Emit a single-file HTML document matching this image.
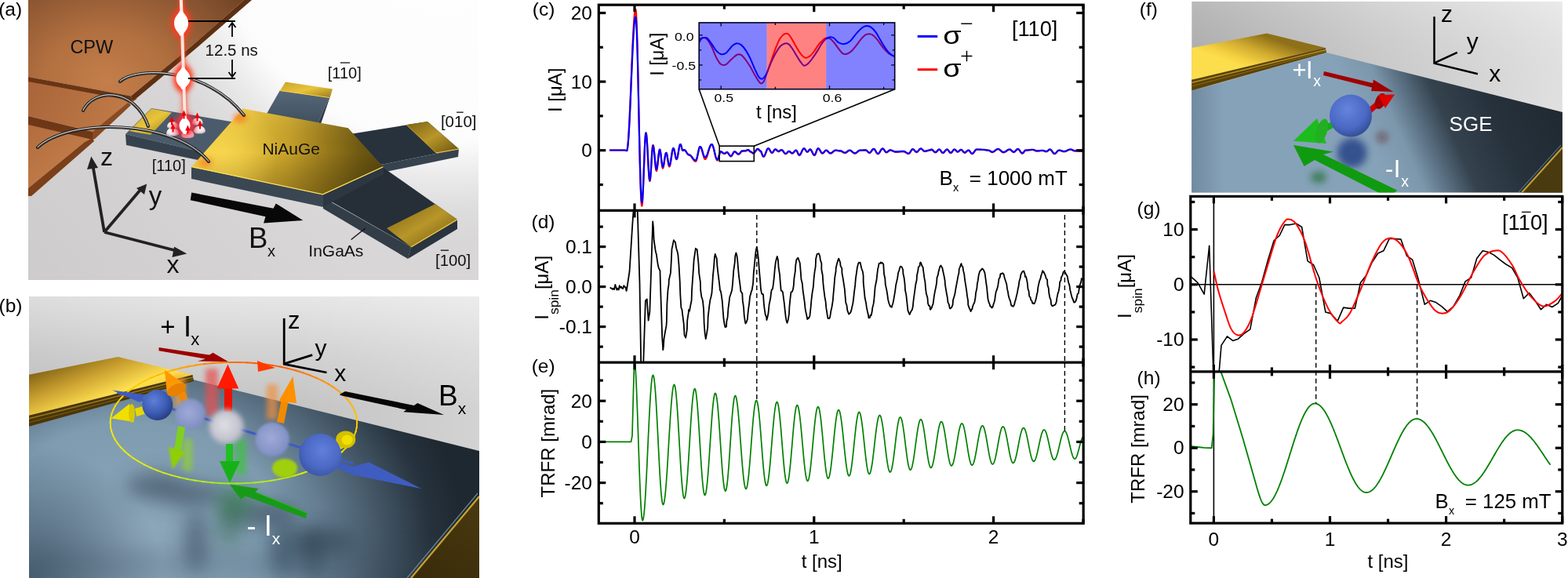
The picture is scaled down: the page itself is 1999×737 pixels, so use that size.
<!DOCTYPE html>
<html><head><meta charset="utf-8"><title>Figure</title>
<style>html,body{margin:0;padding:0;background:#fff;width:1999px;height:737px;overflow:hidden;} svg{display:block;}</style></head>
<body><svg width="1999" height="737" viewBox="0 0 1999 737">
<rect width="1999" height="737" fill="#fff"/>
<defs>
<clipPath id="cpa"><rect x="36" y="0" width="574" height="357"/></clipPath>
<radialGradient id="abg" cx="570" cy="-120" r="430" gradientUnits="userSpaceOnUse">
 <stop offset="0" stop-color="#ffffff"/><stop offset="0.7" stop-color="#fcfcfc"/><stop offset="0.8" stop-color="#ebebeb"/><stop offset="0.9" stop-color="#dedddd"/><stop offset="1" stop-color="#d8d6d7"/></radialGradient>
<linearGradient id="abg2" x1="36" y1="357" x2="300" y2="150" gradientUnits="userSpaceOnUse">
 <stop offset="0" stop-color="#000" stop-opacity="0.05"/><stop offset="1" stop-color="#000" stop-opacity="0"/></linearGradient>
<radialGradient id="cpwtop" cx="135" cy="105" r="230" gradientUnits="userSpaceOnUse" gradientTransform="translate(135 105) scale(1 0.8) translate(-135 -105)">
 <stop offset="0" stop-color="#c47e4a"/><stop offset="0.35" stop-color="#b27040"/><stop offset="0.7" stop-color="#8c5632"/><stop offset="1" stop-color="#6a4022"/></radialGradient>
<linearGradient id="cpwmid" x1="36" y1="110" x2="160" y2="170" gradientUnits="userSpaceOnUse">
 <stop offset="0" stop-color="#a9653a"/><stop offset="1" stop-color="#c27c48"/></linearGradient>
<linearGradient id="cpwlow" x1="36" y1="160" x2="110" y2="240" gradientUnits="userSpaceOnUse">
 <stop offset="0" stop-color="#b26c3e"/><stop offset="1" stop-color="#c8834e"/></linearGradient>
<linearGradient id="hexg" x1="244" y1="190" x2="488" y2="215" gradientUnits="userSpaceOnUse">
 <stop offset="0" stop-color="#f6d040"/><stop offset="0.25" stop-color="#e8c236"/><stop offset="0.5" stop-color="#c8a22a"/><stop offset="0.72" stop-color="#94761a"/><stop offset="0.88" stop-color="#6e5812"/><stop offset="1" stop-color="#5c4a10"/></linearGradient>
<linearGradient id="hexg2" x1="0" y1="140" x2="0" y2="248" gradientUnits="userSpaceOnUse">
 <stop offset="0" stop-color="#fff2a0" stop-opacity="0.12"/><stop offset="0.5" stop-color="#000" stop-opacity="0"/><stop offset="1" stop-color="#2a1e00" stop-opacity="0.28"/></linearGradient>
<radialGradient id="hexg3" cx="285" cy="195" r="70" gradientUnits="userSpaceOnUse">
 <stop offset="0" stop-color="#ffe060" stop-opacity="0.55"/><stop offset="1" stop-color="#ffe060" stop-opacity="0"/></radialGradient>
<linearGradient id="goldpad" x1="0" y1="0" x2="1" y2="1">
 <stop offset="0" stop-color="#c9a22a"/><stop offset="0.5" stop-color="#e9c43c"/><stop offset="1" stop-color="#9a7a18"/></linearGradient>
<linearGradient id="goldpad2" x1="0" y1="0" x2="1" y2="1">
 <stop offset="0" stop-color="#7a6212"/><stop offset="0.5" stop-color="#b8962a"/><stop offset="1" stop-color="#6a5410"/></linearGradient>
<linearGradient id="slateA" x1="0" y1="0" x2="0" y2="1">
 <stop offset="0" stop-color="#56687a"/><stop offset="1" stop-color="#3e4e5c"/></linearGradient>
<linearGradient id="slateD" x1="0" y1="0" x2="1" y2="0">
 <stop offset="0" stop-color="#2c3844"/><stop offset="1" stop-color="#25303a"/></linearGradient>
<linearGradient id="wire" x1="0" y1="0" x2="0" y2="1">
 <stop offset="0" stop-color="#e8e8e8"/><stop offset="0.5" stop-color="#9a9a9a"/><stop offset="1" stop-color="#444"/></linearGradient>
<filter id="glow" x="-2" y="-1" width="5" height="3"><feGaussianBlur stdDeviation="3"/></filter>
<filter id="glow2" x="-2" y="-1" width="5" height="3"><feGaussianBlur stdDeviation="1.2"/></filter>
<filter id="soft" x="-0.5" y="-0.5" width="2" height="2"><feGaussianBlur stdDeviation="1.5"/></filter>
</defs>
<g clip-path="url(#cpa)">
<rect x="36" y="0" width="574" height="357" fill="url(#abg)"/>
<rect x="36" y="0" width="574" height="357" fill="url(#abg2)"/>
<polygon points="36.0,158.0 118.0,176.0 108.0,181.0 36.0,240.0" fill="url(#cpwlow)" />
<polygon points="108.0,181.0 118.0,176.0 120.0,180.0 40.0,250.0 36.0,250.0 36.0,240.0" fill="#7b3f19" />
<polygon points="36.0,100.0 175.0,126.0 118.0,168.0 36.0,148.0" fill="url(#cpwmid)" />
<polygon points="36.0,148.0 118.0,168.0 118.0,178.0 36.0,159.0" fill="#6e3716" />
<polygon points="118.0,168.0 163.0,131.0 167.0,134.0 121.0,177.0 118.0,178.0" fill="#8a4a22" />
<polygon points="36.0,0.0 311.0,0.0 244.0,59.0 167.0,122.6 36.0,98.0" fill="url(#cpwtop)" />
<polygon points="36.0,98.0 167.0,122.6 169.0,128.5 36.0,104.0" fill="#6a3514" />
<polygon points="167.0,122.6 244.0,59.0 311.0,0.0 321.0,0.0 252.0,60.0 172.0,127.0 169.0,128.5" fill="#5e3012" />
<polygon points="357.0,115.0 420.0,124.0 404.0,160.0 336.0,152.0" fill="url(#slateA)" />
<polygon points="420.0,124.0 424.0,114.0 409.0,158.0 404.0,160.0" fill="#2e3a45" />
<polygon points="364.0,104.5 424.0,113.5 420.0,124.5 357.0,115.5" fill="url(#goldpad)" />
<line x1="357" y1="115.5" x2="420" y2="124.5" stroke="#ffcf40" stroke-width="1.2"/>
<polygon points="440.0,172.0 545.0,155.0 585.0,190.0 486.0,210.0" fill="#27323d" />
<polygon points="486.0,210.0 585.0,190.0 584.0,200.0 487.0,220.0" fill="#36434f" />
<polygon points="518.0,159.0 545.0,155.0 585.0,190.0 556.0,195.0" fill="url(#goldpad2)" />
<line x1="556" y1="195" x2="585" y2="190" stroke="#ffd24a" stroke-width="1"/>
<line x1="518" y1="159" x2="556" y2="195" stroke="#d8a020" stroke-width="1"/>
<polygon points="410.0,250.0 489.0,214.0 583.0,280.0 524.0,315.0" fill="#262f38" />
<polygon points="412.0,252.0 524.0,315.0 520.0,330.0 412.0,266.0" fill="#323d48" />
<polygon points="524.0,315.0 583.0,280.0 583.0,292.0 520.0,330.0" fill="#2a343e" />
<polygon points="493.0,291.0 555.0,260.0 583.0,280.0 524.0,315.0" fill="url(#goldpad2)" />
<line x1="524" y1="315" x2="583" y2="280" stroke="#ffd24a" stroke-width="1.2"/>
<polygon points="244.0,213.0 412.0,248.0 412.0,264.0 244.0,228.0" fill="#3a4753" />
<polygon points="412.0,248.0 489.0,213.0 489.0,222.0 412.0,264.0" fill="#2c3741" />
<polygon points="160.0,171.0 193.0,138.0 300.0,156.0 262.0,195.0" fill="#4b5b6b" />
<polygon points="160.0,171.0 262.0,195.0 262.0,206.0 161.0,185.0" fill="#35424e" />
<polygon points="193.0,138.5 219.0,143.5 192.0,172.0 165.0,167.0" fill="url(#goldpad)" />
<polygon points="309.8,138.6 443.8,163.3 488.4,212.7 411.5,247.8 244.3,212.7" fill="url(#hexg)" />
<polygon points="309.8,138.6 443.8,163.3 488.4,212.7 411.5,247.8 244.3,212.7" fill="url(#hexg2)" />
<polygon points="309.8,138.6 443.8,163.3 488.4,212.7 411.5,247.8 244.3,212.7" fill="url(#hexg3)" />
<ellipse cx="306" cy="150" rx="9" ry="7" fill="#ff5010" opacity="0.45" filter="url(#glow)"/>
<ellipse cx="262" cy="207" rx="9" ry="6" fill="#ff6010" opacity="0.5" filter="url(#glow)"/>
<polyline points="244.3,212.7 411.5,247.8 488.4,212.7" fill="none" stroke="#ffe05a" stroke-width="1.2"/>
<g fill="none" stroke-linecap="round"><path d="M153,104 C172,86 262,84 311,147" stroke="#1a1a1a" stroke-width="4.0"/><path d="M153,104 C172,86 262,84 311,147" stroke="#454545" stroke-width="2.4"/><path d="M153,104 C172,86 262,84 311,147" stroke="#f0f0f0" stroke-width="0.9" transform="translate(0,-0.6)"/><path d="M106,141 C120,112 172,112 189,161" stroke="#1a1a1a" stroke-width="4.0"/><path d="M106,141 C120,112 172,112 189,161" stroke="#454545" stroke-width="2.4"/><path d="M106,141 C120,112 172,112 189,161" stroke="#f0f0f0" stroke-width="0.9" transform="translate(0,-0.6)"/><path d="M48,188 C88,150 222,152 266,206" stroke="#1a1a1a" stroke-width="4.0"/><path d="M48,188 C88,150 222,152 266,206" stroke="#454545" stroke-width="2.4"/><path d="M48,188 C88,150 222,152 266,206" stroke="#f0f0f0" stroke-width="0.9" transform="translate(0,-0.6)"/></g>
<radialGradient id="dotg" cx="0.45" cy="0.3" r="0.75"><stop offset="0" stop-color="#ffffff"/><stop offset="0.6" stop-color="#eee6ea"/><stop offset="1" stop-color="#b9aab2"/></radialGradient>
<path d="M213,161.4 A7,6.6499999999999995 0 0,1 227,161.4 A7,2.8000000000000003 0 0,1 213,161.4 Z" fill="url(#dotg)"/>
<path d="M244.7,157 A7,6.6499999999999995 0 0,1 258.7,157 A7,2.8000000000000003 0 0,1 244.7,157 Z" fill="url(#dotg)"/>
<path d="M212,170.3 A8,7.6 0 0,1 228,170.3 A8,3.2 0 0,1 212,170.3 Z" fill="url(#dotg)"/>
<path d="M246.9,167.6 A7.5,7.125 0 0,1 261.9,167.6 A7.5,3.0 0 0,1 246.9,167.6 Z" fill="url(#dotg)"/>
<path d="M231.4,172.9 A8,7.6 0 0,1 247.4,172.9 A8,3.2 0 0,1 231.4,172.9 Z" fill="url(#dotg)"/>
<g><polygon points="227,-5 235,-5 240,160 232,160" fill="#ff3a20" opacity="0.45" filter="url(#glow)"/><polygon points="228,-5 234,-5 239,160 233,160" fill="#ff5a40" opacity="0.55" filter="url(#glow2)"/><ellipse cx="231" cy="29.5" rx="12.5" ry="19" fill="#ff3a20" filter="url(#glow)"/><ellipse cx="233.5" cy="100" rx="12.5" ry="18" fill="#ff3a20" filter="url(#glow)"/><ellipse cx="236" cy="160" rx="14" ry="15" fill="#ff2a40" opacity="0.85" filter="url(#glow)"/><polygon points="228.8,-2 232.8,-2 238,158 234,158" fill="#ffe4dc"/><path d="M229.2,13.5 L232.8,13.5 C234.15,18.3 240,20.7 240,29.5 C240,38.3 234.15,40.7 232.8,45.5 L229.2,45.5 C227.85,40.7 222,38.3 222,29.5 C222,20.7 227.85,18.3 229.2,13.5 Z" fill="#fff"/><path d="M231.7,86 L235.3,86 C236.65,90.2 242.5,92.3 242.5,100 C242.5,107.7 236.65,109.8 235.3,114 L231.7,114 C230.35,109.8 224.5,107.7 224.5,100 C224.5,92.3 230.35,90.2 231.7,86 Z" fill="#fff"/><path d="M234.0,149 L237.0,149 C238.05,152.3 242.5,153.95 242.5,160 C242.5,166.05 238.05,167.7 237.0,171 L234.0,171 C232.95,167.7 228.5,166.05 228.5,160 C228.5,153.95 232.95,152.3 234.0,149 Z" fill="#fff"/></g>
<path d="M215.8,155.5 L219,148.5 L222.2,155.5 Z M218,155.0 h2 v4.5 h-2 Z" fill="#ee0000"/>
<path d="M217.3,164.5 L220.5,157.5 L223.7,164.5 Z M219.5,164.0 h2 v4.5 h-2 Z" fill="#ee0000"/>
<path d="M236.20000000000002,166.5 L239.4,159.5 L242.6,166.5 Z M238.4,166.0 h2 v4.5 h-2 Z" fill="#ee0000"/>
<path d="M248.3,150.5 L251.5,143.5 L254.7,150.5 Z M250.5,150.0 h2 v4.5 h-2 Z" fill="#ee0000"/>
<path d="M251.8,160.5 L255,153.5 L258.2,160.5 Z M254,160.0 h2 v4.5 h-2 Z" fill="#ee0000"/>
<path d="M231.3,147.5 L234.5,140.5 L237.7,147.5 Z M233.5,147.0 h2 v4.5 h-2 Z" fill="#ee0000"/>
<g stroke="#000" stroke-width="1.8" fill="none"><line x1="240" y1="27" x2="300" y2="27"/><line x1="240" y1="100" x2="300" y2="100"/><line x1="296" y1="29" x2="296" y2="47"/><line x1="296" y1="76" x2="296" y2="98"/><polyline points="291.5,35 296,29 300.5,35"/><polyline points="291.5,92 296,98 300.5,92"/></g>
<g stroke="#222" stroke-width="3.8" fill="none" stroke-linecap="butt"><line x1="133" y1="296" x2="118.5" y2="212"/><line x1="133" y1="296" x2="179" y2="242"/><line x1="133" y1="296" x2="226" y2="320"/></g><g fill="#222"><polygon points="116.3,199.6 111,216 125,214"/><polygon points="187.2,234.4 174,240 184,248"/><polygon points="238.2,323.4 222,314.5 219.5,328"/></g>
<polygon points="244.2,245.5 348.5,265.8 351.8,259.5 386.3,281 336,284.5 338.5,276.2 242.7,255.2" fill="#080808"/>
<line x1="447.7" y1="305.5" x2="465.8" y2="291" stroke="#111" stroke-width="1.4"/>
<g font-family="'Liberation Sans', Arial, sans-serif" fill="#111"><text x="89.4" y="67.9" font-size="23.5">CPW</text><text x="261.6" y="70.8" font-size="20.5">12.5 ns</text><text x="334.4" y="196.5" font-size="21">NiAuGe</text><text x="393.3" y="327" font-size="21">InGaAs</text><text x="193.8" y="218.3" font-size="20">[110]</text><text x="417.8" y="99.7" font-size="20">[110]</text><text x="561.9" y="161.9" font-size="20.5">[010]</text><text x="555" y="339.3" font-size="20.3">[100]</text><text x="127.9" y="211.2" font-size="32">z</text><text x="189.7" y="260.9" font-size="33">y</text><text x="212.6" y="347.8" font-size="32">x</text><text x="316.9" y="315.8" font-size="36.5">B</text><text x="340.9" y="326.8" font-size="20">x</text></g>
<g stroke="#111" stroke-width="1.3"><line x1="433.9" y1="80" x2="446.1" y2="80"/><line x1="582.1" y1="143.2" x2="590.7" y2="143.2"/><line x1="561.8" y1="319.2" x2="572" y2="319.2"/></g>
</g>
<defs>
<clipPath id="cpb"><rect x="37" y="378" width="574" height="359"/></clipPath>
<linearGradient id="bbg" x1="0" y1="378" x2="0" y2="520" gradientUnits="userSpaceOnUse">
 <stop offset="0" stop-color="#e6e6e6"/><stop offset="0.5" stop-color="#d2d2d2"/><stop offset="1" stop-color="#c4c4c4"/></linearGradient>
<linearGradient id="bbg2" x1="37" y1="0" x2="611" y2="0" gradientUnits="userSpaceOnUse">
 <stop offset="0" stop-color="#000" stop-opacity="0.04"/><stop offset="0.6" stop-color="#fff" stop-opacity="0"/><stop offset="1" stop-color="#fff" stop-opacity="0.25"/></linearGradient>
<radialGradient id="bslate" cx="170" cy="690" r="420" gradientUnits="userSpaceOnUse" gradientTransform="translate(170 690) scale(1 0.8) translate(-170 -690)">
 <stop offset="0" stop-color="#8ea8bb"/><stop offset="0.45" stop-color="#7e9bb0"/><stop offset="0.7" stop-color="#4d6273"/><stop offset="0.9" stop-color="#26323d"/><stop offset="1" stop-color="#1e2830"/></radialGradient>
<linearGradient id="bgoldtop" x1="100" y1="455" x2="130" y2="530" gradientUnits="userSpaceOnUse">
 <stop offset="0" stop-color="#8a6a18"/><stop offset="0.35" stop-color="#caa030"/><stop offset="0.75" stop-color="#ffe050"/><stop offset="1" stop-color="#f0c838"/></linearGradient>
<linearGradient id="bgoldc" x1="611" y1="630" x2="540" y2="737" gradientUnits="userSpaceOnUse">
 <stop offset="0" stop-color="#4a3a10"/><stop offset="1" stop-color="#3a2c0a"/></linearGradient>
<radialGradient id="sph1" cx="0.38" cy="0.35" r="0.7">
 <stop offset="0" stop-color="#5f80d8"/><stop offset="0.6" stop-color="#3c5cb4"/><stop offset="1" stop-color="#253c80"/></radialGradient>
<radialGradient id="sph5" cx="0.55" cy="0.4" r="0.7">
 <stop offset="0" stop-color="#6080dc"/><stop offset="0.6" stop-color="#4a68c4"/><stop offset="1" stop-color="#34509a"/></radialGradient>
<radialGradient id="sphg" cx="0.45" cy="0.45" r="0.6">
 <stop offset="0" stop-color="#a0aad8"/><stop offset="1" stop-color="#7c8cc0"/></radialGradient>
<radialGradient id="sphw" cx="0.45" cy="0.45" r="0.6">
 <stop offset="0" stop-color="#e0e0e6"/><stop offset="1" stop-color="#b8b8c4"/></radialGradient>
<linearGradient id="ellg" x1="140" y1="0" x2="455" y2="0" gradientUnits="userSpaceOnUse">
 <stop offset="0" stop-color="#f5e000"/><stop offset="0.35" stop-color="#ffa000"/><stop offset="0.5" stop-color="#ff7000"/><stop offset="0.7" stop-color="#ffa000"/><stop offset="1" stop-color="#f0e000"/></linearGradient>
<linearGradient id="ellg2" x1="0" y1="462" x2="0" y2="617" gradientUnits="userSpaceOnUse">
 <stop offset="0" stop-color="#ff6a00" stop-opacity="1"/><stop offset="0.45" stop-color="#ffd000" stop-opacity="0"/></linearGradient>
<filter id="bl3" x="-1" y="-1" width="3" height="3"><feGaussianBlur stdDeviation="3"/></filter>
<filter id="bl2" x="-1" y="-1" width="3" height="3"><feGaussianBlur stdDeviation="1.6"/></filter>
<filter id="bl8" x="-1" y="-1" width="3" height="3"><feGaussianBlur stdDeviation="8"/></filter>
<filter id="bl12" x="-1" y="-1" width="3" height="3"><feGaussianBlur stdDeviation="12"/></filter>
</defs>
<g clip-path="url(#cpb)">
<rect x="37" y="378" width="574" height="359" fill="url(#bbg)"/>
<rect x="37" y="378" width="574" height="359" fill="url(#bbg2)"/>
<polygon points="36.0,542.0 246.0,484.0 611.0,575.0 611.0,737.0 36.0,737.0" fill="url(#bslate)" />
<radialGradient id="bvig" cx="36" cy="737" r="170" gradientUnits="userSpaceOnUse"><stop offset="0" stop-color="#34485a" stop-opacity="0.75"/><stop offset="1" stop-color="#34485a" stop-opacity="0"/></radialGradient>
<rect x="36" y="540" width="250" height="197" fill="url(#bvig)"/>
<rect x="36" y="700" width="575" height="37" fill="#3a4c5c" opacity="0.18" filter="url(#bl12)"/>
<g filter="url(#bl12)" opacity="0.5"><ellipse cx="250" cy="690" rx="14" ry="40" fill="#243444"/><ellipse cx="360" cy="700" rx="16" ry="40" fill="#243444"/><ellipse cx="398" cy="705" rx="14" ry="35" fill="#243444"/><ellipse cx="292" cy="668" rx="10" ry="30" fill="#1a5a2a"/></g>
<g filter="url(#bl12)" opacity="0.55"><ellipse cx="200" cy="620" rx="40" ry="16" fill="#2a3a4a"/><ellipse cx="240" cy="630" rx="45" ry="14" fill="#2a3a4a"/><ellipse cx="330" cy="655" rx="50" ry="16" fill="#2a3a4a"/><ellipse cx="410" cy="690" rx="45" ry="16" fill="#2a3a4a"/><ellipse cx="300" cy="640" rx="20" ry="20" fill="#1f6a2a"/></g>
<polygon points="611.0,631.0 611.0,737.0 522.0,737.0" fill="url(#bgoldc)" />
<line x1="611" y1="633" x2="524" y2="737" stroke="#c9a232" stroke-width="2.2"/>
<line x1="609" y1="629" x2="519" y2="737" stroke="#6d8799" stroke-width="1.2"/>
<polygon points="36.0,478.0 150.5,455.0 245.5,478.0 36.0,530.0" fill="url(#bgoldtop)" />
<polygon points="36.0,530.0 245.5,478.0 247.0,486.0 36.0,544.0" fill="#4a3608" />
<line x1="36" y1="534" x2="246" y2="481" stroke="#9a7a20" stroke-width="1.5"/>
<line x1="36" y1="539" x2="246" y2="484" stroke="#7a5e14" stroke-width="1"/>
<polygon points="202.5,443.0 267.0,452.6 271.5,449.8 291.2,461.2 252.0,460.5 262.0,457.6 202.5,447.2" fill="#9c0000" />
<g stroke-width="1.9" stroke-linecap="round"><line x1="455.20" y1="539.20" x2="454.69" y2="545.40" stroke="rgb(253, 206, 0)"/><line x1="454.82" y1="544.59" x2="453.43" y2="550.76" stroke="rgb(252, 209, 0)"/><line x1="453.67" y1="549.96" x2="451.41" y2="556.06" stroke="rgb(250, 211, 0)"/><line x1="451.76" y1="555.27" x2="448.64" y2="561.28" stroke="rgb(248, 214, 0)"/><line x1="449.11" y1="560.51" x2="445.14" y2="566.40" stroke="rgb(246, 217, 0)"/><line x1="445.71" y1="565.64" x2="440.92" y2="571.38" stroke="rgb(245, 219, 0)"/><line x1="441.60" y1="570.64" x2="436.01" y2="576.20" stroke="rgb(243, 222, 0)"/><line x1="436.79" y1="575.49" x2="430.42" y2="580.85" stroke="rgb(241, 225, 0)"/><line x1="431.30" y1="580.16" x2="424.18" y2="585.29" stroke="rgb(239, 227, 0)"/><line x1="425.16" y1="584.64" x2="417.33" y2="589.50" stroke="rgb(237, 230, 0)"/><line x1="418.40" y1="588.89" x2="409.90" y2="593.48" stroke="rgb(236, 233, 0)"/><line x1="411.05" y1="592.90" x2="401.92" y2="597.18" stroke="rgb(232, 235, 1)"/><line x1="403.15" y1="596.65" x2="393.44" y2="600.61" stroke="rgb(224, 235, 4)"/><line x1="394.74" y1="600.11" x2="384.49" y2="603.73" stroke="rgb(217, 235, 8)"/><line x1="385.86" y1="603.28" x2="375.12" y2="606.54" stroke="rgb(209, 235, 11)"/><line x1="376.55" y1="606.14" x2="365.37" y2="609.03" stroke="rgb(202, 235, 15)"/><line x1="366.86" y1="608.68" x2="355.30" y2="611.17" stroke="rgb(194, 235, 18)"/><line x1="356.83" y1="610.87" x2="344.94" y2="612.96" stroke="rgb(187, 235, 22)"/><line x1="346.51" y1="612.72" x2="334.35" y2="614.40" stroke="rgb(179, 235, 26)"/><line x1="335.95" y1="614.20" x2="323.59" y2="615.46" stroke="rgb(172, 235, 29)"/><line x1="325.21" y1="615.33" x2="312.70" y2="616.16" stroke="rgb(164, 235, 33)"/><line x1="314.34" y1="616.08" x2="301.74" y2="616.48" stroke="rgb(156, 235, 36)"/><line x1="303.39" y1="616.45" x2="290.76" y2="616.42" stroke="rgb(150, 235, 39)"/><line x1="292.41" y1="616.45" x2="279.82" y2="615.99" stroke="rgb(157, 235, 38)"/><line x1="281.46" y1="616.08" x2="268.96" y2="615.18" stroke="rgb(163, 235, 36)"/><line x1="270.59" y1="615.33" x2="258.25" y2="614.00" stroke="rgb(170, 235, 34)"/><line x1="259.85" y1="614.20" x2="247.73" y2="612.46" stroke="rgb(177, 235, 32)"/><line x1="249.29" y1="612.72" x2="237.45" y2="610.56" stroke="rgb(183, 235, 30)"/><line x1="238.97" y1="610.87" x2="227.47" y2="608.32" stroke="rgb(190, 235, 29)"/><line x1="228.94" y1="608.68" x2="217.83" y2="605.74" stroke="rgb(197, 235, 27)"/><line x1="219.25" y1="606.14" x2="208.58" y2="602.83" stroke="rgb(203, 235, 25)"/><line x1="209.94" y1="603.28" x2="199.76" y2="599.61" stroke="rgb(210, 235, 23)"/><line x1="201.06" y1="600.11" x2="191.43" y2="596.10" stroke="rgb(217, 235, 22)"/><line x1="192.65" y1="596.65" x2="183.61" y2="592.31" stroke="rgb(223, 235, 20)"/><line x1="184.75" y1="592.90" x2="176.35" y2="588.26" stroke="rgb(226, 234, 18)"/><line x1="177.40" y1="588.89" x2="169.68" y2="583.98" stroke="rgb(228, 234, 16)"/><line x1="170.64" y1="584.64" x2="163.64" y2="579.47" stroke="rgb(230, 233, 14)"/><line x1="164.50" y1="580.16" x2="158.25" y2="574.77" stroke="rgb(231, 233, 13)"/><line x1="159.01" y1="575.49" x2="153.54" y2="569.90" stroke="rgb(233, 232, 11)"/><line x1="154.20" y1="570.64" x2="149.53" y2="564.88" stroke="rgb(235, 232, 9)"/><line x1="150.09" y1="565.64" x2="146.25" y2="559.73" stroke="rgb(237, 231, 7)"/><line x1="146.69" y1="560.51" x2="143.70" y2="554.48" stroke="rgb(238, 231, 6)"/><line x1="144.04" y1="555.27" x2="141.91" y2="549.16" stroke="rgb(240, 231, 4)"/><line x1="142.13" y1="549.96" x2="140.88" y2="543.78" stroke="rgb(242, 230, 2)"/><line x1="140.98" y1="544.59" x2="140.61" y2="538.39" stroke="rgb(244, 230, 0)"/><line x1="140.60" y1="539.20" x2="141.11" y2="533.00" stroke="rgb(245, 228, 0)"/><line x1="140.98" y1="533.81" x2="142.37" y2="527.64" stroke="rgb(246, 225, 0)"/><line x1="142.13" y1="528.44" x2="144.39" y2="522.34" stroke="rgb(247, 223, 0)"/><line x1="144.04" y1="523.13" x2="147.16" y2="517.12" stroke="rgb(248, 220, 0)"/><line x1="146.69" y1="517.89" x2="150.66" y2="512.00" stroke="rgb(249, 217, 0)"/><line x1="150.09" y1="512.76" x2="154.88" y2="507.02" stroke="rgb(249, 215, 0)"/><line x1="154.20" y1="507.76" x2="159.79" y2="502.20" stroke="rgb(250, 212, 0)"/><line x1="159.01" y1="502.91" x2="165.38" y2="497.55" stroke="rgb(251, 209, 0)"/><line x1="164.50" y1="498.24" x2="171.62" y2="493.11" stroke="rgb(252, 207, 0)"/><line x1="170.64" y1="493.76" x2="178.47" y2="488.90" stroke="rgb(253, 204, 0)"/><line x1="177.40" y1="489.51" x2="185.90" y2="484.92" stroke="rgb(254, 201, 0)"/><line x1="184.75" y1="485.50" x2="193.88" y2="481.22" stroke="rgb(255, 197, 0)"/><line x1="192.65" y1="481.75" x2="202.36" y2="477.79" stroke="rgb(255, 191, 0)"/><line x1="201.06" y1="478.29" x2="211.31" y2="474.67" stroke="rgb(255, 184, 0)"/><line x1="209.94" y1="475.12" x2="220.68" y2="471.86" stroke="rgb(255, 177, 0)"/><line x1="219.25" y1="472.26" x2="230.43" y2="469.37" stroke="rgb(255, 171, 0)"/><line x1="228.94" y1="469.72" x2="240.50" y2="467.23" stroke="rgb(255, 164, 0)"/><line x1="238.97" y1="467.53" x2="250.86" y2="465.44" stroke="rgb(255, 157, 0)"/><line x1="249.29" y1="465.68" x2="261.45" y2="464.00" stroke="rgb(255, 151, 0)"/><line x1="259.85" y1="464.20" x2="272.21" y2="462.94" stroke="rgb(255, 141, 0)"/><line x1="270.59" y1="463.07" x2="283.10" y2="462.24" stroke="rgb(255, 130, 0)"/><line x1="281.46" y1="462.32" x2="294.06" y2="461.92" stroke="rgb(255, 119, 0)"/><line x1="292.41" y1="461.95" x2="305.04" y2="461.98" stroke="rgb(255, 109, 0)"/><line x1="303.39" y1="461.95" x2="315.98" y2="462.41" stroke="rgb(255, 105, 0)"/><line x1="314.34" y1="462.32" x2="326.84" y2="463.22" stroke="rgb(255, 101, 0)"/><line x1="325.21" y1="463.07" x2="337.55" y2="464.40" stroke="rgb(255, 97, 0)"/><line x1="335.95" y1="464.20" x2="348.07" y2="465.94" stroke="rgb(255, 93, 0)"/><line x1="346.51" y1="465.68" x2="358.35" y2="467.84" stroke="rgb(255, 90, 0)"/><line x1="356.83" y1="467.53" x2="368.33" y2="470.08" stroke="rgb(255, 98, 0)"/><line x1="366.86" y1="469.72" x2="377.97" y2="472.66" stroke="rgb(255, 106, 0)"/><line x1="376.55" y1="472.26" x2="387.22" y2="475.57" stroke="rgb(255, 114, 0)"/><line x1="385.86" y1="475.12" x2="396.04" y2="478.79" stroke="rgb(255, 122, 0)"/><line x1="394.74" y1="478.29" x2="404.37" y2="482.30" stroke="rgb(255, 130, 0)"/><line x1="403.15" y1="481.75" x2="412.19" y2="486.09" stroke="rgb(255, 138, 0)"/><line x1="411.05" y1="485.50" x2="419.45" y2="490.14" stroke="rgb(255, 144, 0)"/><line x1="418.40" y1="489.51" x2="426.12" y2="494.42" stroke="rgb(255, 150, 0)"/><line x1="425.16" y1="493.76" x2="432.16" y2="498.93" stroke="rgb(255, 156, 0)"/><line x1="431.30" y1="498.24" x2="437.55" y2="503.63" stroke="rgb(255, 162, 0)"/><line x1="436.79" y1="502.91" x2="442.26" y2="508.50" stroke="rgb(255, 167, 0)"/><line x1="441.60" y1="507.76" x2="446.27" y2="513.52" stroke="rgb(255, 173, 0)"/><line x1="445.71" y1="512.76" x2="449.55" y2="518.67" stroke="rgb(255, 179, 0)"/><line x1="449.11" y1="517.89" x2="452.10" y2="523.92" stroke="rgb(255, 185, 0)"/><line x1="451.76" y1="523.13" x2="453.89" y2="529.24" stroke="rgb(255, 190, 0)"/><line x1="453.67" y1="528.44" x2="454.92" y2="534.62" stroke="rgb(255, 196, 0)"/><line x1="454.82" y1="533.81" x2="455.19" y2="540.01" stroke="rgb(255, 202, 0)"/></g>
<polygon points="328.0,460.0 351.0,469.0 329.0,474.0" fill="#ff3a00" />
<g fill="#3f5cc0"><polygon points="150,498.4 450,589.2 451,592.8 149,502"/><polygon points="430,588.5 449.5,595 470.2,589.3 537.7,623.3 449.8,605.6 430,597"/><polygon points="143,497.5 186,503.5 178,513"/></g>
<g filter="url(#bl3)" opacity="0.7"><rect x="262" y="470" width="16" height="60" fill="#e85050"/><rect x="340" y="490" width="14" height="45" fill="#f09040"/><rect x="222" y="480" width="14" height="40" fill="#f0a040"/><rect x="300" y="560" width="14" height="45" fill="#40c040"/><rect x="233" y="560" width="12" height="40" fill="#90d030"/></g>
<polygon points="172.0,521.0 189.0,516.0 191.0,526.0 174.0,531.0" fill="#e8d800" />
<polygon points="141.4,533.6 165.0,515.0 171.0,538.0" fill="#f0e000" />
<ellipse cx="168" cy="527" rx="4" ry="12" fill="#d8c800"/>
<circle cx="200.8" cy="516.5" r="19.5" fill="url(#sph1)"/>
<polygon points="226.0,501.0 235.0,497.0 241.0,512.0 232.0,516.0" fill="#f08a00" />
<polygon points="209.8,471.8 213.0,502.0 237.0,491.0" fill="#ff9800" />
<ellipse cx="225" cy="497" rx="13" ry="7" transform="rotate(-25 225 497)" fill="#e88000"/>
<circle cx="242.4" cy="528" r="19.5" fill="url(#sphg)" filter="url(#bl2)"/>
<polygon points="227.0,543.0 236.0,545.0 231.0,575.0 222.0,573.0" fill="#80d020" />
<polygon points="215.0,570.0 236.0,576.0 220.0,598.7" fill="#90d000" filter="url(#bl2)"/>
<rect x="286" y="495" width="10" height="30" fill="#ee1000"/>
<polygon points="290.4,464.4 276.6,495.4 304.3,495.4" fill="#ff1a00" />
<circle cx="288.7" cy="544" r="22" fill="url(#sphw)" filter="url(#bl3)"/>
<rect x="288" y="566" width="9" height="24" fill="#20c020"/>
<polygon points="280.0,588.0 306.0,588.0 293.0,615.7" fill="#18b018" />
<polygon points="353.0,538.0 362.0,540.0 368.0,510.0 359.0,508.0" fill="#f08a00" />
<polygon points="373.4,480.0 355.0,512.0 378.0,514.0" fill="#ff9000" />
<circle cx="347.3" cy="560.3" r="21.7" fill="url(#sphg)" filter="url(#bl2)"/>
<ellipse cx="363" cy="597" rx="16" ry="12" fill="#a0d010" filter="url(#bl2)"/>
<polygon points="425.0,565.0 440.0,558.0 444.0,568.0 430.0,575.0" fill="#e8d800" />
<ellipse cx="440.7" cy="560.4" rx="12.5" ry="11" fill="#d4c000"/>
<ellipse cx="442.5" cy="561" rx="7" ry="6.5" fill="#efe000"/>
<circle cx="408.1" cy="579.9" r="27" fill="url(#sph5)"/>
<polygon points="292.9,617.7 329.7,623.0 325.5,627.2 391.5,653.5 390.0,661.0 313.0,632.5 306.9,636.4" fill="#189a18" />
<line x1="326" y1="627.5" x2="391" y2="654" stroke="#30b830" stroke-width="1"/>
<g stroke="#000" stroke-width="2.8" fill="none"><line x1="362.2" y1="465.2" x2="362.2" y2="405.9"/><line x1="361.5" y1="464.2" x2="398.2" y2="452.7"/><line x1="361.5" y1="464.2" x2="416.5" y2="475"/></g>
<polygon points="432.9,503.1 440.0,499.0 527.8,517.0 532.3,514.0 566.0,529.0 514.3,525.3 518.0,522.6 434.8,504.3" fill="#060606" />
<g font-family="'Liberation Sans', Arial, sans-serif"><text x="204.3" y="427.8" font-size="33" fill="#000">+</text><text x="233.9" y="428.6" font-size="36" fill="#000">I</text><text x="243.2" y="439.7" font-size="22" fill="#000">x</text><text x="367" y="418.7" font-size="31" fill="#000">z</text><text x="401.5" y="453.9" font-size="30" fill="#000">y</text><text x="426.3" y="485.9" font-size="30" fill="#000">x</text><text x="559.1" y="517" font-size="37" fill="#000">B</text><text x="583.8" y="528" font-size="21" fill="#000">x</text><text x="314.4" y="683.4" font-size="36" fill="#fff">-</text><text x="336.7" y="683.4" font-size="36" fill="#fff">I</text><text x="346.8" y="694" font-size="21" fill="#fff">x</text></g>
</g>
<defs>
<clipPath id="cpf"><rect x="1519.2" y="1.8" width="472.7" height="243.8"/></clipPath>
<linearGradient id="fbg" x1="1519" y1="0" x2="1992" y2="60" gradientUnits="userSpaceOnUse">
 <stop offset="0" stop-color="#b0b0b0"/><stop offset="0.5" stop-color="#d0d0d0"/><stop offset="1" stop-color="#e9e9e9"/></linearGradient>
<linearGradient id="fbgv" x1="0" y1="0" x2="0" y2="140" gradientUnits="userSpaceOnUse">
 <stop offset="0" stop-color="#fff" stop-opacity="0.12"/><stop offset="1" stop-color="#000" stop-opacity="0.04"/></linearGradient>
<linearGradient id="fslate" x1="1620" y1="200" x2="1990" y2="35" gradientUnits="userSpaceOnUse">
 <stop offset="0" stop-color="#86a2b8"/><stop offset="0.3" stop-color="#86a2b8"/><stop offset="0.4" stop-color="#7c97ac"/><stop offset="0.47" stop-color="#5a7082"/><stop offset="0.55" stop-color="#35434f"/><stop offset="0.7" stop-color="#26313b"/><stop offset="1" stop-color="#1c252d"/></linearGradient>
<linearGradient id="fslateL" x1="1519" y1="0" x2="1560" y2="0" gradientUnits="userSpaceOnUse">
 <stop offset="0" stop-color="#5a7286" stop-opacity="0.5"/><stop offset="1" stop-color="#5a7286" stop-opacity="0"/></linearGradient>
<linearGradient id="fgold" x1="1608" y1="44" x2="1592" y2="88" gradientUnits="userSpaceOnUse">
 <stop offset="0" stop-color="#8e7018"/><stop offset="0.45" stop-color="#d2ac30"/><stop offset="0.8" stop-color="#f4d040"/><stop offset="1" stop-color="#fcde4c"/></linearGradient>
<radialGradient id="fsph" cx="0.42" cy="0.35" r="0.7">
 <stop offset="0" stop-color="#6584dc"/><stop offset="0.65" stop-color="#4a68c4"/><stop offset="1" stop-color="#30498e"/></radialGradient>
<filter id="fbl" x="-1" y="-1" width="3" height="3"><feGaussianBlur stdDeviation="5"/></filter>
<filter id="fbl2" x="-1" y="-1" width="3" height="3"><feGaussianBlur stdDeviation="10"/></filter>
</defs>
<g clip-path="url(#cpf)">
<rect x="1519.2" y="1.8" width="472.7" height="243.8" fill="url(#fbg)"/>
<rect x="1519.2" y="1.8" width="472.7" height="243.8" fill="url(#fbgv)"/>
<polygon points="1519.0,116.4 1691.0,67.0 1992.0,143.0 1992.0,246.0 1519.0,246.0" fill="url(#fslate)" />
<rect x="1519" y="100" width="45" height="146" fill="url(#fslateL)"/>
<g filter="url(#fbl)"><circle cx="1723.7" cy="195" r="19" fill="#1e3580" opacity="0.75"/><circle cx="1762" cy="175" r="6" fill="#5a1010" opacity="0.6"/><ellipse cx="1681" cy="226" rx="10" ry="7" fill="#1a6a2a" opacity="0.7"/></g>
<polygon points="1939.7,246.0 1992.0,187.0 1992.0,246.0" fill="#4a3a10" />
<line x1="1939.7" y1="246" x2="1992" y2="188" stroke="#c8a030" stroke-width="2"/>
<line x1="1935" y1="246" x2="1990" y2="185" stroke="#6d8799" stroke-width="1"/>
<polygon points="1519.1,61.1 1615.1,42.4 1689.8,61.1 1519.1,101.8" fill="url(#fgold)" />
<polygon points="1519.1,101.8 1689.8,61.1 1691.0,67.0 1519.1,115.4" fill="#5a4208" />
<line x1="1519" y1="105.5" x2="1690" y2="63.5" stroke="#b89028" stroke-width="1.3"/>
<line x1="1519" y1="110" x2="1690" y2="65.5" stroke="#8a6a18" stroke-width="1"/>
<polygon points="1688.0,91.0 1750.0,106.0 1751.0,101.5 1776.3,117.0 1748.0,116.0 1749.0,111.5 1687.0,96.0" fill="#a00000" />
<polygon points="1706.0,151.0 1709.0,158.0 1690.0,168.0 1686.0,161.0" fill="#10b010" />
<polygon points="1649.0,179.8 1679.0,151.0 1691.0,183.0" fill="#1cbc1c" />
<ellipse cx="1685" cy="167" rx="7" ry="16" transform="rotate(18 1685 167)" fill="#22b022"/>
<polygon points="1742.0,140.0 1756.0,128.0 1760.0,134.0 1746.0,146.0" fill="#d00000" />
<ellipse cx="1760" cy="129" rx="6.5" ry="10.5" transform="rotate(25 1760 129)" fill="#a00000"/>
<polygon points="1778.0,120.5 1757.0,121.0 1766.0,138.0" fill="#e00000" />
<circle cx="1722" cy="147.6" r="27" fill="url(#fsph)"/>
<polygon points="1649.0,185.0 1700.0,193.4 1687.0,197.0 1781.4,242.6 1770.0,252.0 1676.0,204.0 1662.6,212.0" fill="#109a10" />
<g stroke="#000" stroke-width="2.5" fill="none" stroke-linecap="butt"><line x1="1828.5" y1="81.5" x2="1828.5" y2="21.2"/><line x1="1828" y1="80.6" x2="1857.8" y2="66.8"/><line x1="1828" y1="80.6" x2="1883.9" y2="94.2"/></g>
<g font-family="'Liberation Sans', Arial, sans-serif"><text x="1837" y="27.7" font-size="30" fill="#000">z</text><text x="1869.8" y="63.3" font-size="30" fill="#000">y</text><text x="1898.3" y="104.3" font-size="30" fill="#000">x</text><text x="1647.5" y="100.1" font-size="31" fill="#fff">+</text><text x="1665" y="100.1" font-size="31" fill="#fff">I</text><text x="1674.3" y="110.3" font-size="19.5" fill="#fff">x</text><text x="1766" y="225.7" font-size="31" fill="#fff">-</text><text x="1776.8" y="225.7" font-size="31" fill="#fff">I</text><text x="1786.3" y="237.5" font-size="19.5" fill="#fff">x</text><text x="1847.6" y="166.8" font-size="26" fill="#fff">SGE</text></g>
</g>
<defs><clipPath id="clc"><rect x="763.3" y="6.2" width="617.9000000000001" height="262.2"/></clipPath><clipPath id="cld"><rect x="763.3" y="268.4" width="617.9000000000001" height="193.8"/></clipPath><clipPath id="cle"><rect x="763.3" y="462.2" width="617.9000000000001" height="205.09999999999997"/></clipPath></defs>
<g clip-path="url(#clc)" fill="none" stroke-width="2.2" stroke-linejoin="round"><path d="M777.00,191.50 L796.60,191.50 L799.00,192.20 L799.35,191.77 L799.71,190.47 L800.06,188.32 L800.41,185.35 L800.77,181.57 L801.12,177.03 L801.47,171.76 L801.83,165.83 L802.18,159.28 L802.53,152.18 L802.88,144.60 L803.24,136.62 L803.59,128.30 L803.94,119.73 L804.30,110.99 L804.65,102.16 L805.00,93.33 L805.36,84.59 L805.71,76.02 L806.06,67.70 L806.42,59.72 L806.77,52.14 L807.12,45.04 L807.47,38.49 L807.83,32.56 L808.18,27.29 L808.53,22.75 L808.89,18.97 L809.24,16.00 L809.59,13.85 L809.95,12.55 L810.30,12.12 L810.66,13.40 L811.03,17.19 L811.39,23.44 L811.75,32.01 L812.12,42.72 L812.48,55.35 L812.85,69.66 L813.21,85.35 L813.57,102.10 L813.94,119.56 L814.30,137.39 L814.66,155.22 L815.03,172.68 L815.39,189.43 L815.75,205.11 L816.12,219.42 L816.48,232.06 L816.85,242.77 L817.21,251.34 L817.57,257.58 L817.94,261.38 L818.30,262.66 L818.67,261.49 L819.04,258.04 L819.41,252.49 L819.79,245.12 L820.16,236.29 L820.53,226.44 L820.90,216.08 L821.27,205.71 L821.64,195.87 L822.01,187.04 L822.39,179.66 L822.76,174.11 L823.13,170.67 L823.50,169.50 L823.88,170.39 L824.25,173.02 L824.63,177.23 L825.01,182.78 L825.38,189.35 L825.76,196.54 L826.14,203.96 L826.52,211.15 L826.89,217.72 L827.27,223.27 L827.65,227.48 L828.02,230.11 L828.40,231.00 L828.77,230.06 L829.15,227.33 L829.52,223.03 L829.89,217.50 L830.26,211.19 L830.64,204.61 L831.01,198.30 L831.38,192.77 L831.75,188.47 L832.13,185.74 L832.50,184.80 L832.87,185.37 L833.23,187.02 L833.60,189.66 L833.97,193.10 L834.33,197.10 L834.70,201.40 L835.07,205.70 L835.43,209.70 L835.80,213.14 L836.17,215.78 L836.53,217.43 L836.90,218.00 L837.25,217.53 L837.60,216.17 L837.95,214.00 L838.30,211.18 L838.65,207.88 L839.00,204.35 L839.35,200.82 L839.70,197.53 L840.05,194.70 L840.40,192.53 L840.75,191.17 L841.10,190.70 L841.45,191.18 L841.81,192.59 L842.16,194.81 L842.52,197.66 L842.87,200.91 L843.23,204.29 L843.58,207.54 L843.94,210.39 L844.29,212.61 L844.65,214.02 L845.00,214.50 L845.36,214.16 L845.72,213.18 L846.08,211.62 L846.43,209.58 L846.79,207.20 L847.15,204.65 L847.51,202.10 L847.87,199.73 L848.22,197.68 L848.58,196.12 L848.94,195.14 L849.30,194.80 L849.66,195.16 L850.03,196.20 L850.39,197.85 L850.75,199.97 L851.12,202.39 L851.48,204.91 L851.85,207.33 L852.21,209.45 L852.57,211.10 L852.94,212.14 L853.30,212.50 L853.67,212.21 L854.04,211.34 L854.41,209.94 L854.79,208.08 L855.16,205.85 L855.53,203.36 L855.90,200.75 L856.27,198.14 L856.64,195.65 L857.01,193.42 L857.39,191.56 L857.76,190.16 L858.13,189.29 L858.50,189.00 L858.86,189.28 L859.23,190.11 L859.59,191.42 L859.95,193.09 L860.32,195.00 L860.68,197.00 L861.05,198.91 L861.41,200.58 L861.77,201.89 L862.14,202.72 L862.50,203.00 L862.88,202.72 L863.25,201.91 L863.63,200.61 L864.01,198.90 L864.38,196.87 L864.76,194.65 L865.14,192.35 L865.52,190.13 L865.89,188.10 L866.27,186.39 L866.65,185.09 L867.02,184.28 L867.40,184.00 L867.76,184.24 L868.11,184.94 L868.47,186.00 L868.82,187.31 L869.18,188.69 L869.53,190.00 L869.89,191.06 L870.24,191.76 L870.60,192.00 L871.07,191.75 L871.53,191.25 L872.00,191.00 L872.36,191.05 L872.72,191.20 L873.08,191.44 L873.44,191.76 L873.81,192.16 L874.17,192.62 L874.53,193.14 L874.89,193.69 L875.25,194.25 L875.61,194.81 L875.97,195.36 L876.33,195.88 L876.69,196.34 L877.06,196.74 L877.42,197.06 L877.78,197.30 L878.14,197.45 L878.50,197.50 L878.87,197.54 L879.23,197.65 L879.60,197.84 L879.96,198.10 L880.33,198.43 L880.69,198.82 L881.06,199.26 L881.42,199.74 L881.79,200.26 L882.15,200.81 L882.52,201.37 L882.88,201.93 L883.25,202.49 L883.61,203.04 L883.98,203.56 L884.34,204.04 L884.71,204.48 L885.07,204.87 L885.44,205.20 L885.80,205.46 L886.17,205.65 L886.53,205.76 L886.90,205.80 L887.26,205.62 L887.61,205.08 L887.97,204.22 L888.33,203.05 L888.68,201.62 L889.04,200.00 L889.39,198.23 L889.75,196.40 L890.11,194.57 L890.46,192.80 L890.82,191.18 L891.17,189.75 L891.53,188.58 L891.89,187.72 L892.24,187.18 L892.60,187.00 L892.96,187.12 L893.31,187.48 L893.67,188.07 L894.02,188.87 L894.38,189.86 L894.73,191.00 L895.09,192.26 L895.44,193.61 L895.80,195.00 L896.16,196.39 L896.51,197.74 L896.87,199.00 L897.22,200.14 L897.58,201.13 L897.93,201.93 L898.29,202.52 L898.64,202.88 L899.00,203.00 L899.36,202.91 L899.72,202.65 L900.08,202.21 L900.44,201.62 L900.80,200.87 L901.17,199.98 L901.53,198.98 L901.89,197.87 L902.25,196.68 L902.61,195.43 L902.97,194.15 L903.33,192.85 L903.69,191.57 L904.05,190.32 L904.41,189.13 L904.77,188.02 L905.13,187.02 L905.50,186.13 L905.86,185.38 L906.22,184.79 L906.58,184.35 L906.94,184.09 L907.30,184.00 L907.66,184.13 L908.03,184.50 L908.39,185.12 L908.76,185.96 L909.12,187.00 L909.49,188.23 L909.86,189.60 L910.22,191.08 L910.59,192.65 L910.95,194.25 L911.31,195.85 L911.68,197.42 L912.04,198.90 L912.41,200.27 L912.77,201.50 L913.14,202.54 L913.50,203.38 L913.87,204.00 L914.24,204.37 L914.60,204.50 L914.97,204.28 L915.35,203.64 L915.72,202.64 L916.09,201.34 L916.46,199.87 L916.84,198.33 L917.21,196.86 L917.58,195.56 L917.95,194.56 L918.33,193.92 L918.70,193.70 L919.08,193.73 L919.45,193.84 L919.83,194.00 L920.21,194.22 L920.58,194.47 L920.96,194.76 L921.34,195.04 L921.72,195.33 L922.09,195.58 L922.47,195.80 L922.85,195.96 L923.22,196.07 L923.60,196.10 L923.96,196.05 L924.31,195.91 L924.67,195.70 L925.02,195.44 L925.38,195.16 L925.73,194.90 L926.09,194.69 L926.44,194.55 L926.80,194.50 L927.15,194.56 L927.50,194.74 L927.85,195.03 L928.20,195.42 L928.55,195.89 L928.90,196.40 L929.25,196.95 L929.60,197.50 L929.95,198.01 L930.30,198.48 L930.65,198.87 L931.00,199.16 L931.35,199.34 L931.70,199.40 L932.08,199.32 L932.45,199.07 L932.83,198.68 L933.21,198.17 L933.58,197.56 L933.96,196.89 L934.34,196.21 L934.72,195.54 L935.09,194.93 L935.47,194.42 L935.85,194.03 L936.22,193.78 L936.60,193.70 L936.98,193.75 L937.35,193.88 L937.73,194.10 L938.11,194.39 L938.48,194.73 L938.86,195.11 L939.24,195.49 L939.62,195.87 L939.99,196.21 L940.37,196.50 L940.75,196.72 L941.12,196.85 L941.50,196.90 L941.88,196.84 L942.25,196.67 L942.63,196.38 L943.01,196.01 L943.38,195.58 L943.76,195.10 L944.14,194.60 L944.52,194.12 L944.89,193.69 L945.27,193.32 L945.65,193.03 L946.02,192.86 L946.40,192.80 L946.76,192.80 L947.12,192.79 L947.48,192.78 L947.84,192.77 L948.20,192.75 L948.56,192.74 L948.92,192.73 L949.28,192.72 L949.64,192.71 L950.00,192.71 L950.36,192.67 L950.72,192.57 L951.08,192.40 L951.44,192.19 L951.80,191.96 L952.16,191.73 L952.52,191.52 L952.88,191.35 L953.24,191.25 L953.60,191.21 L953.96,191.27 L954.32,191.47 L954.68,191.77 L955.04,192.14 L955.40,192.56 L955.76,192.98 L956.12,193.35 L956.48,193.65 L956.84,193.84 L957.20,193.91 L957.58,193.98 L957.95,194.17 L958.33,194.47 L958.70,194.81 L959.08,195.15 L959.45,195.45 L959.83,195.64 L960.20,195.71 L960.56,195.66 L960.91,195.52 L961.26,195.28 L961.62,194.97 L961.97,194.58 L962.32,194.13 L962.68,193.64 L963.03,193.12 L963.38,192.60 L963.73,192.08 L964.09,191.59 L964.44,191.14 L964.79,190.75 L965.15,190.43 L965.50,190.20 L965.85,190.06 L966.21,190.01 L966.58,190.11 L966.96,190.40 L967.33,190.84 L967.71,191.36 L968.08,191.88 L968.46,192.31 L968.83,192.61 L969.21,192.71 L969.56,192.83 L969.91,193.19 L970.26,193.76 L970.61,194.51 L970.96,195.38 L971.31,196.31 L971.66,197.24 L972.01,198.11 L972.36,198.86 L972.71,199.43 L973.06,199.79 L973.41,199.91 L973.76,199.82 L974.12,199.56 L974.47,199.13 L974.82,198.54 L975.17,197.82 L975.53,197.00 L975.88,196.10 L976.23,195.14 L976.59,194.18 L976.94,193.22 L977.29,192.32 L977.65,191.49 L978.00,190.78 L978.35,190.19 L978.71,189.76 L979.06,189.50 L979.41,189.41 L979.78,189.49 L980.15,189.73 L980.52,190.12 L980.89,190.64 L981.26,191.25 L981.63,191.92 L982.00,192.60 L982.37,193.27 L982.74,193.88 L983.11,194.39 L983.47,194.78 L983.84,195.03 L984.21,195.11 L984.56,195.03 L984.91,194.81 L985.26,194.45 L985.61,193.98 L985.96,193.44 L986.31,192.86 L986.66,192.28 L987.01,191.73 L987.36,191.27 L987.72,190.91 L988.07,190.68 L988.42,190.61 L988.77,190.65 L989.12,190.79 L989.47,191.00 L989.82,191.28 L990.17,191.61 L990.52,191.96 L990.87,192.31 L991.22,192.63 L991.57,192.91 L991.92,193.13 L992.27,193.26 L992.62,193.31 L992.98,193.26 L993.34,193.11 L993.70,192.88 L994.06,192.58 L994.42,192.26 L994.78,191.93 L995.14,191.64 L995.50,191.41 L995.86,191.26 L996.22,191.21 L996.58,191.26 L996.94,191.43 L997.30,191.70 L997.66,192.05 L998.02,192.48 L998.38,192.97 L998.74,193.49 L999.10,194.03 L999.46,194.55 L999.82,195.03 L1000.18,195.47 L1000.54,195.82 L1000.90,196.09 L1001.26,196.25 L1001.62,196.31 L1001.97,196.26 L1002.32,196.11 L1002.67,195.87 L1003.02,195.56 L1003.37,195.20 L1003.72,194.81 L1004.07,194.42 L1004.42,194.06 L1004.77,193.75 L1005.12,193.51 L1005.47,193.36 L1005.82,193.31 L1006.17,193.35 L1006.52,193.47 L1006.87,193.66 L1007.22,193.91 L1007.57,194.20 L1007.92,194.51 L1008.27,194.82 L1008.62,195.11 L1008.97,195.36 L1009.32,195.55 L1009.67,195.67 L1010.02,195.71 L1010.39,195.65 L1010.76,195.49 L1011.13,195.22 L1011.50,194.87 L1011.87,194.45 L1012.24,193.99 L1012.61,193.52 L1012.98,193.07 L1013.35,192.65 L1013.72,192.30 L1014.09,192.03 L1014.46,191.87 L1014.83,191.81 L1015.18,191.92 L1015.53,192.23 L1015.88,192.73 L1016.23,193.38 L1016.58,194.14 L1016.93,194.96 L1017.28,195.78 L1017.63,196.54 L1017.98,197.19 L1018.33,197.69 L1018.68,198.00 L1019.03,198.11 L1019.38,198.04 L1019.73,197.82 L1020.09,197.46 L1020.44,196.98 L1020.79,196.38 L1021.15,195.70 L1021.50,194.95 L1021.85,194.16 L1022.21,193.36 L1022.56,192.57 L1022.91,191.82 L1023.26,191.14 L1023.62,190.54 L1023.97,190.06 L1024.32,189.70 L1024.68,189.48 L1025.03,189.41 L1025.38,189.48 L1025.73,189.71 L1026.08,190.07 L1026.43,190.53 L1026.78,191.08 L1027.13,191.66 L1027.48,192.24 L1027.83,192.78 L1028.18,193.25 L1028.53,193.61 L1028.88,193.83 L1029.23,193.91 L1029.59,193.83 L1029.95,193.59 L1030.31,193.23 L1030.67,192.77 L1031.03,192.26 L1031.39,191.75 L1031.75,191.29 L1032.11,190.92 L1032.47,190.69 L1032.83,190.61 L1033.19,190.69 L1033.55,190.93 L1033.91,191.32 L1034.27,191.85 L1034.63,192.48 L1034.99,193.20 L1035.35,193.97 L1035.71,194.75 L1036.07,195.52 L1036.43,196.24 L1036.79,196.87 L1037.15,197.39 L1037.52,197.79 L1037.88,198.03 L1038.24,198.11 L1038.60,197.98 L1038.97,197.61 L1039.34,197.02 L1039.71,196.23 L1040.08,195.30 L1040.45,194.28 L1040.82,193.23 L1041.19,192.22 L1041.56,191.29 L1041.93,190.50 L1042.30,189.91 L1042.67,189.53 L1043.04,189.41 L1043.40,189.48 L1043.76,189.68 L1044.12,190.01 L1044.48,190.45 L1044.84,190.98 L1045.20,191.59 L1045.56,192.23 L1045.92,192.89 L1046.28,193.53 L1046.64,194.13 L1047.00,194.67 L1047.36,195.11 L1047.72,195.44 L1048.08,195.64 L1048.44,195.71 L1048.81,195.65 L1049.18,195.49 L1049.55,195.22 L1049.92,194.87 L1050.29,194.45 L1050.66,193.99 L1051.03,193.52 L1051.39,193.07 L1051.76,192.65 L1052.13,192.30 L1052.50,192.03 L1052.87,191.87 L1053.24,191.81 L1053.60,191.85 L1053.96,191.98 L1054.32,192.18 L1054.68,192.45 L1055.04,192.78 L1055.40,193.16 L1055.76,193.56 L1056.12,193.96 L1056.48,194.36 L1056.84,194.73 L1057.20,195.06 L1057.56,195.34 L1057.92,195.54 L1058.28,195.67 L1058.64,195.71 L1059.01,195.68 L1059.38,195.59 L1059.74,195.45 L1060.11,195.25 L1060.48,195.01 L1060.84,194.73 L1061.21,194.43 L1061.58,194.10 L1061.94,193.76 L1062.31,193.42 L1062.68,193.09 L1063.05,192.78 L1063.41,192.51 L1063.78,192.27 L1064.15,192.07 L1064.51,191.93 L1064.88,191.84 L1065.25,191.81 L1065.60,191.82 L1065.95,191.84 L1066.31,191.88 L1066.66,191.93 L1067.01,191.99 L1067.36,192.06 L1067.72,192.14 L1068.07,192.22 L1068.42,192.30 L1068.78,192.38 L1069.13,192.46 L1069.48,192.53 L1069.84,192.59 L1070.19,192.64 L1070.54,192.68 L1070.90,192.70 L1071.25,192.71 L1071.60,192.73 L1071.95,192.79 L1072.31,192.89 L1072.66,193.02 L1073.01,193.19 L1073.37,193.37 L1073.72,193.58 L1074.07,193.80 L1074.43,194.02 L1074.78,194.24 L1075.13,194.44 L1075.49,194.63 L1075.84,194.80 L1076.19,194.93 L1076.54,195.03 L1076.90,195.09 L1077.25,195.11 L1077.60,195.08 L1077.96,195.00 L1078.31,194.86 L1078.66,194.68 L1079.02,194.45 L1079.37,194.19 L1079.72,193.91 L1080.08,193.61 L1080.43,193.31 L1080.78,193.01 L1081.13,192.72 L1081.49,192.46 L1081.84,192.24 L1082.19,192.06 L1082.55,191.92 L1082.90,191.84 L1083.25,191.81 L1083.62,191.84 L1083.99,191.93 L1084.35,192.07 L1084.72,192.27 L1085.09,192.51 L1085.45,192.78 L1085.82,193.09 L1086.19,193.42 L1086.55,193.76 L1086.92,194.10 L1087.29,194.43 L1087.66,194.73 L1088.02,195.01 L1088.39,195.25 L1088.76,195.45 L1089.12,195.59 L1089.49,195.68 L1089.86,195.71 L1090.22,195.68 L1090.59,195.59 L1090.96,195.45 L1091.32,195.25 L1091.69,195.01 L1092.06,194.73 L1092.42,194.43 L1092.79,194.10 L1093.16,193.76 L1093.52,193.42 L1093.89,193.09 L1094.26,192.78 L1094.62,192.51 L1094.99,192.27 L1095.36,192.07 L1095.72,191.93 L1096.09,191.84 L1096.46,191.81 L1096.82,191.81 L1097.18,191.80 L1097.54,191.80 L1097.90,191.79 L1098.26,191.77 L1098.62,191.76 L1098.98,191.74 L1099.34,191.73 L1099.70,191.71 L1100.06,191.69 L1100.42,191.67 L1100.78,191.65 L1101.14,191.63 L1101.50,191.62 L1101.86,191.60 L1102.22,191.59 L1102.58,191.58 L1102.94,191.57 L1103.30,191.57 L1103.66,191.57 L1104.03,191.62 L1104.40,191.77 L1104.77,192.01 L1105.14,192.33 L1105.51,192.71 L1105.88,193.13 L1106.25,193.55 L1106.62,193.97 L1106.99,194.35 L1107.36,194.66 L1107.72,194.91 L1108.09,195.06 L1108.46,195.11 L1108.82,195.05 L1109.18,194.89 L1109.54,194.62 L1109.90,194.27 L1110.26,193.83 L1110.62,193.35 L1110.98,192.83 L1111.34,192.29 L1111.70,191.77 L1112.06,191.28 L1112.42,190.85 L1112.79,190.50 L1113.15,190.23 L1113.51,190.06 L1113.87,190.01 L1114.23,190.08 L1114.59,190.28 L1114.95,190.61 L1115.31,191.05 L1115.67,191.58 L1116.03,192.19 L1116.39,192.83 L1116.75,193.49 L1117.11,194.13 L1117.47,194.73 L1117.83,195.27 L1118.19,195.71 L1118.55,196.04 L1118.91,196.24 L1119.27,196.31 L1119.62,196.25 L1119.97,196.09 L1120.33,195.81 L1120.68,195.44 L1121.03,194.99 L1121.39,194.46 L1121.74,193.89 L1122.09,193.29 L1122.45,192.67 L1122.80,192.07 L1123.15,191.49 L1123.50,190.97 L1123.86,190.52 L1124.21,190.15 L1124.56,189.87 L1124.92,189.70 L1125.27,189.65 L1125.64,189.72 L1126.01,189.93 L1126.38,190.26 L1126.75,190.70 L1127.12,191.22 L1127.49,191.79 L1127.86,192.37 L1128.23,192.94 L1128.59,193.46 L1128.96,193.90 L1129.33,194.23 L1129.70,194.44 L1130.07,194.51 L1130.44,194.47 L1130.81,194.34 L1131.18,194.14 L1131.55,193.87 L1131.92,193.56 L1132.29,193.22 L1132.66,192.86 L1133.03,192.52 L1133.40,192.20 L1133.77,191.94 L1134.14,191.74 L1134.50,191.61 L1134.87,191.57 L1135.23,191.58 L1135.59,191.63 L1135.95,191.70 L1136.31,191.79 L1136.67,191.91 L1137.03,192.05 L1137.39,192.21 L1137.76,192.38 L1138.12,192.56 L1138.48,192.74 L1138.84,192.92 L1139.20,193.10 L1139.56,193.27 L1139.92,193.43 L1140.28,193.57 L1140.64,193.69 L1141.00,193.78 L1141.36,193.85 L1141.72,193.89 L1142.08,193.91 L1142.43,193.91 L1142.79,193.90 L1143.14,193.89 L1143.50,193.88 L1143.86,193.86 L1144.21,193.84 L1144.57,193.82 L1144.92,193.79 L1145.28,193.76 L1145.63,193.73 L1145.99,193.70 L1146.35,193.66 L1146.70,193.63 L1147.06,193.59 L1147.41,193.56 L1147.77,193.52 L1148.12,193.49 L1148.48,193.46 L1148.84,193.43 L1149.19,193.40 L1149.55,193.38 L1149.90,193.36 L1150.26,193.34 L1150.61,193.33 L1150.97,193.32 L1151.32,193.31 L1151.68,193.31 L1152.05,193.33 L1152.41,193.39 L1152.78,193.49 L1153.15,193.63 L1153.51,193.80 L1153.88,194.00 L1154.25,194.22 L1154.62,194.45 L1154.98,194.69 L1155.35,194.93 L1155.72,195.16 L1156.08,195.38 L1156.45,195.58 L1156.82,195.75 L1157.18,195.89 L1157.55,195.99 L1157.92,196.05 L1158.28,196.07 L1158.64,196.01 L1159.00,195.82 L1159.36,195.53 L1159.72,195.13 L1160.08,194.64 L1160.44,194.10 L1160.80,193.52 L1161.16,192.92 L1161.52,192.34 L1161.88,191.79 L1162.24,191.31 L1162.61,190.91 L1162.97,190.61 L1163.33,190.43 L1163.69,190.37 L1164.05,190.42 L1164.42,190.58 L1164.79,190.84 L1165.16,191.18 L1165.53,191.59 L1165.90,192.03 L1166.27,192.49 L1166.64,192.93 L1167.01,193.33 L1167.38,193.67 L1167.75,193.93 L1168.12,194.09 L1168.49,194.15 L1168.85,194.10 L1169.21,193.95 L1169.57,193.72 L1169.93,193.40 L1170.29,193.02 L1170.65,192.59 L1171.01,192.13 L1171.37,191.66 L1171.73,191.20 L1172.09,190.77 L1172.45,190.39 L1172.81,190.08 L1173.17,189.84 L1173.53,189.70 L1173.89,189.65 L1174.26,189.70 L1174.63,189.84 L1175.00,190.08 L1175.37,190.39 L1175.74,190.75 L1176.11,191.15 L1176.48,191.56 L1176.84,191.96 L1177.21,192.33 L1177.58,192.64 L1177.95,192.87 L1178.32,193.02 L1178.69,193.07 L1179.05,193.06 L1179.41,193.04 L1179.77,193.00 L1180.13,192.95 L1180.49,192.89 L1180.85,192.82 L1181.21,192.73 L1181.57,192.64 L1181.93,192.53 L1182.29,192.43 L1182.65,192.31 L1183.01,192.20 L1183.37,192.08 L1183.73,191.96 L1184.09,191.85 L1184.45,191.74 L1184.81,191.64 L1185.17,191.55 L1185.53,191.46 L1185.89,191.39 L1186.25,191.32 L1186.61,191.27 L1186.97,191.24 L1187.33,191.22 L1187.70,191.21 L1187.52,190.95 L1187.35,190.68 L1187.70,190.72 L1188.05,190.85 L1188.40,191.04 L1188.75,191.31 L1189.10,191.62 L1189.45,191.98 L1189.80,192.37 L1190.15,192.76 L1190.50,193.15 L1190.85,193.51 L1191.20,193.83 L1191.55,194.09 L1191.90,194.29 L1192.25,194.41 L1192.61,194.45 L1192.97,194.39 L1193.33,194.23 L1193.70,193.98 L1194.06,193.64 L1194.42,193.23 L1194.79,192.79 L1195.15,192.34 L1195.51,191.90 L1195.88,191.50 L1196.24,191.16 L1196.60,190.90 L1196.97,190.74 L1197.33,190.68 L1197.70,190.75 L1198.06,190.94 L1198.42,191.25 L1198.79,191.66 L1199.15,192.14 L1199.51,192.66 L1199.88,193.21 L1200.24,193.73 L1200.60,194.21 L1200.97,194.62 L1201.33,194.93 L1201.70,195.12 L1202.06,195.18 L1202.41,195.14 L1202.76,194.99 L1203.11,194.76 L1203.46,194.44 L1203.81,194.06 L1204.16,193.63 L1204.51,193.17 L1204.86,192.70 L1205.21,192.24 L1205.56,191.81 L1205.91,191.43 L1206.26,191.11 L1206.61,190.88 L1206.96,190.73 L1207.31,190.68 L1207.67,190.75 L1208.04,190.94 L1208.40,191.25 L1208.77,191.66 L1209.13,192.14 L1209.49,192.66 L1209.86,193.21 L1210.22,193.73 L1210.58,194.21 L1210.95,194.62 L1211.31,194.93 L1211.67,195.12 L1212.04,195.18 L1212.40,195.12 L1212.77,194.93 L1213.13,194.62 L1213.49,194.21 L1213.86,193.73 L1214.22,193.21 L1214.58,192.66 L1214.95,192.14 L1215.31,191.66 L1215.67,191.25 L1216.04,190.94 L1216.40,190.75 L1216.76,190.68 L1217.11,190.74 L1217.46,190.89 L1217.82,191.14 L1218.17,191.47 L1218.52,191.85 L1218.87,192.25 L1219.22,192.66 L1219.57,193.04 L1219.92,193.36 L1220.27,193.61 L1220.62,193.77 L1220.97,193.82 L1221.32,193.77 L1221.67,193.63 L1222.02,193.41 L1222.37,193.11 L1222.72,192.77 L1223.07,192.41 L1223.42,192.04 L1223.77,191.70 L1224.12,191.41 L1224.47,191.19 L1224.82,191.05 L1225.17,191.00 L1225.53,191.05 L1225.90,191.22 L1226.26,191.49 L1226.62,191.83 L1226.99,192.25 L1227.35,192.70 L1227.71,193.17 L1228.08,193.62 L1228.44,194.03 L1228.80,194.38 L1229.17,194.65 L1229.53,194.81 L1229.89,194.87 L1230.26,194.82 L1230.62,194.69 L1230.99,194.48 L1231.35,194.19 L1231.71,193.86 L1232.08,193.49 L1232.44,193.11 L1232.80,192.75 L1233.17,192.41 L1233.53,192.13 L1233.89,191.91 L1234.26,191.78 L1234.62,191.73 L1234.99,191.80 L1235.35,191.99 L1235.71,192.30 L1236.08,192.71 L1236.44,193.19 L1236.80,193.71 L1237.17,194.26 L1237.53,194.78 L1237.89,195.26 L1238.26,195.67 L1238.62,195.98 L1238.99,196.17 L1239.35,196.24 L1239.71,196.18 L1240.07,196.02 L1240.43,195.77 L1240.79,195.42 L1241.15,195.00 L1241.52,194.52 L1241.88,194.00 L1242.24,193.46 L1242.60,192.92 L1242.96,192.40 L1243.32,191.92 L1243.68,191.50 L1244.04,191.15 L1244.40,190.89 L1244.76,190.74 L1245.13,190.68 L1245.48,190.68 L1245.83,190.69 L1246.18,190.70 L1246.53,190.70 L1246.88,190.72 L1247.23,190.73 L1247.58,190.74 L1247.93,190.76 L1248.28,190.78 L1248.63,190.80 L1248.98,190.82 L1249.33,190.84 L1249.68,190.86 L1250.03,190.88 L1250.38,190.90 L1250.73,190.92 L1251.08,190.94 L1251.43,190.95 L1251.78,190.97 L1252.13,190.98 L1252.48,190.99 L1252.83,190.99 L1253.18,191.00 L1253.53,191.00 L1253.88,191.00 L1254.23,191.02 L1254.58,191.05 L1254.93,191.08 L1255.28,191.13 L1255.63,191.18 L1255.98,191.24 L1256.33,191.30 L1256.68,191.37 L1257.03,191.43 L1257.38,191.49 L1257.73,191.55 L1258.08,191.60 L1258.43,191.65 L1258.78,191.68 L1259.13,191.71 L1259.48,191.73 L1259.83,191.73 L1260.18,191.76 L1260.53,191.84 L1260.88,191.96 L1261.23,192.13 L1261.58,192.33 L1261.93,192.56 L1262.28,192.81 L1262.63,193.06 L1262.98,193.30 L1263.33,193.53 L1263.68,193.74 L1264.03,193.91 L1264.38,194.03 L1264.73,194.11 L1265.08,194.13 L1265.43,194.11 L1265.78,194.05 L1266.13,193.94 L1266.48,193.79 L1266.83,193.60 L1267.18,193.39 L1267.54,193.14 L1267.89,192.87 L1268.24,192.59 L1268.59,192.29 L1268.94,192.00 L1269.29,191.70 L1269.64,191.42 L1269.99,191.15 L1270.34,190.91 L1270.69,190.69 L1271.04,190.50 L1271.39,190.35 L1271.74,190.25 L1272.09,190.18 L1272.44,190.16 L1272.80,190.19 L1273.16,190.27 L1273.52,190.42 L1273.87,190.61 L1274.23,190.85 L1274.59,191.13 L1274.95,191.44 L1275.31,191.78 L1275.67,192.13 L1276.03,192.48 L1276.39,192.83 L1276.75,193.17 L1277.11,193.48 L1277.47,193.76 L1277.83,194.00 L1278.19,194.19 L1278.55,194.33 L1278.91,194.42 L1279.26,194.45 L1279.62,194.43 L1279.98,194.37 L1280.34,194.28 L1280.70,194.15 L1281.06,193.99 L1281.41,193.80 L1281.77,193.58 L1282.13,193.35 L1282.49,193.10 L1282.85,192.83 L1283.20,192.57 L1283.56,192.30 L1283.92,192.04 L1284.28,191.78 L1284.64,191.55 L1284.99,191.33 L1285.35,191.14 L1285.71,190.98 L1286.07,190.85 L1286.43,190.76 L1286.78,190.70 L1287.14,190.68 L1287.49,190.72 L1287.84,190.83 L1288.19,191.01 L1288.54,191.25 L1288.89,191.55 L1289.24,191.88 L1289.59,192.23 L1289.94,192.59 L1290.29,192.94 L1290.64,193.27 L1290.99,193.56 L1291.34,193.80 L1291.69,193.99 L1292.04,194.10 L1292.39,194.13 L1292.75,194.09 L1293.10,193.96 L1293.45,193.75 L1293.80,193.48 L1294.15,193.14 L1294.50,192.76 L1294.85,192.35 L1295.20,191.94 L1295.55,191.53 L1295.90,191.15 L1296.25,190.82 L1296.60,190.54 L1296.95,190.33 L1297.30,190.20 L1297.65,190.16 L1298.01,190.21 L1298.37,190.37 L1298.73,190.63 L1299.09,190.97 L1299.45,191.39 L1299.81,191.87 L1300.17,192.39 L1300.54,192.93 L1300.90,193.48 L1301.26,194.00 L1301.62,194.48 L1301.98,194.90 L1302.34,195.24 L1302.70,195.50 L1303.06,195.66 L1303.42,195.71 L1303.77,195.64 L1304.12,195.44 L1304.47,195.13 L1304.82,194.72 L1305.18,194.24 L1305.53,193.72 L1305.88,193.21 L1306.23,192.73 L1306.58,192.32 L1306.93,192.00 L1307.28,191.80 L1307.63,191.73 L1307.98,191.73 L1308.34,191.72 L1308.70,191.71 L1309.05,191.69 L1309.41,191.66 L1309.77,191.63 L1310.13,191.60 L1310.48,191.56 L1310.84,191.52 L1311.20,191.48 L1311.55,191.43 L1311.91,191.39 L1312.27,191.34 L1312.63,191.30 L1312.98,191.25 L1313.34,191.21 L1313.70,191.17 L1314.05,191.13 L1314.41,191.10 L1314.77,191.07 L1315.13,191.04 L1315.48,191.02 L1315.84,191.01 L1316.20,191.00 L1316.55,191.00 L1316.90,191.02 L1317.25,191.07 L1317.61,191.17 L1317.96,191.29 L1318.31,191.44 L1318.66,191.61 L1319.01,191.79 L1319.36,191.98 L1319.71,192.16 L1320.06,192.33 L1320.41,192.48 L1320.76,192.60 L1321.11,192.69 L1321.46,192.75 L1321.81,192.77 L1322.16,192.76 L1322.51,192.75 L1322.86,192.73 L1323.21,192.71 L1323.56,192.67 L1323.91,192.63 L1324.26,192.59 L1324.61,192.54 L1324.96,192.49 L1325.31,192.44 L1325.66,192.38 L1326.01,192.33 L1326.36,192.28 L1326.71,192.23 L1327.06,192.18 L1327.41,192.14 L1327.76,192.11 L1328.11,192.08 L1328.46,192.06 L1328.81,192.05 L1329.16,192.05 L1329.52,192.07 L1329.89,192.13 L1330.25,192.22 L1330.61,192.34 L1330.98,192.48 L1331.34,192.64 L1331.70,192.81 L1332.07,192.96 L1332.43,193.11 L1332.80,193.23 L1333.16,193.32 L1333.52,193.38 L1333.89,193.40 L1334.25,193.36 L1334.61,193.24 L1334.98,193.06 L1335.34,192.81 L1335.70,192.52 L1336.07,192.20 L1336.43,191.88 L1336.80,191.56 L1337.16,191.27 L1337.52,191.02 L1337.89,190.84 L1338.25,190.72 L1338.61,190.68 L1338.97,190.74 L1339.34,190.89 L1339.70,191.15 L1340.06,191.50 L1340.42,191.92 L1340.78,192.40 L1341.14,192.92 L1341.50,193.46 L1341.86,194.00 L1342.22,194.52 L1342.59,195.00 L1342.95,195.42 L1343.31,195.77 L1343.67,196.02 L1344.03,196.18 L1344.39,196.24 L1344.75,196.19 L1345.11,196.06 L1345.47,195.86 L1345.84,195.58 L1346.20,195.23 L1346.56,194.85 L1346.92,194.42 L1347.28,193.98 L1347.64,193.55 L1348.00,193.12 L1348.36,192.73 L1348.72,192.39 L1349.08,192.11 L1349.45,191.90 L1349.81,191.78 L1350.17,191.73 L1350.52,191.75 L1350.87,191.78 L1351.22,191.85 L1351.57,191.93 L1351.92,192.03 L1352.27,192.15 L1352.62,192.28 L1352.97,192.42 L1353.32,192.57 L1353.67,192.71 L1354.02,192.85 L1354.37,192.98 L1354.72,193.10 L1355.07,193.20 L1355.42,193.29 L1355.77,193.35 L1356.12,193.39 L1356.47,193.40 L1356.82,193.39 L1357.17,193.35 L1357.52,193.30 L1357.87,193.22 L1358.22,193.12 L1358.57,193.00 L1358.92,192.87 L1359.27,192.72 L1359.62,192.56 L1359.97,192.39 L1360.32,192.22 L1360.67,192.04 L1361.02,191.86 L1361.37,191.69 L1361.72,191.52 L1362.07,191.36 L1362.42,191.21 L1362.77,191.08 L1363.12,190.96 L1363.47,190.87 L1363.82,190.79 L1364.17,190.73 L1364.52,190.69 L1364.87,190.68 L1365.22,190.70 L1365.57,190.76 L1365.92,190.86 L1366.27,190.99 L1366.62,191.15 L1366.97,191.33 L1367.32,191.52 L1367.68,191.72 L1368.03,191.91 L1368.38,192.09 L1368.73,192.25 L1369.08,192.38 L1369.43,192.48 L1369.78,192.54 L1370.13,192.56 L1370.48,192.56 L1370.83,192.56 L1371.18,192.57 L1371.53,192.57 L1371.88,192.58 L1372.23,192.59 L1372.58,192.61 L1372.93,192.62 L1373.28,192.64 L1373.63,192.65 L1373.98,192.67 L1374.33,192.69 L1374.68,192.71 L1375.03,192.73 L1375.38,192.75 L1375.73,192.78 L1376.08,192.80 L1376.43,192.82 L1376.78,192.84 L1377.13,192.87 L1377.48,192.89 L1377.83,192.91 L1378.18,192.93 L1378.53,192.95 L1378.88,192.97 L1379.23,192.99 L1379.58,193.01 L1379.93,193.02 L1380.28,193.04 L1380.63,193.05 L1380.98,193.06 L1381.33,193.07 L1381.68,193.08 L1382.03,193.08 L1382.38,193.08 L1382.73,193.08 L1383.08,193.08 L1383.43,193.07 L1383.78,193.06 L1384.13,193.04 L1384.48,193.02 L1384.83,193.01 L1385.18,192.99 L1385.53,192.98 L1385.88,192.98" stroke="#ff0000"/><path d="M777.00,191.50 L796.60,191.50 L799.00,192.20 L799.35,191.79 L799.71,190.56 L800.06,188.53 L800.41,185.71 L800.77,182.14 L801.12,177.84 L801.47,172.86 L801.83,167.24 L802.18,161.04 L802.53,154.32 L802.88,147.15 L803.24,139.59 L803.59,131.72 L803.94,123.60 L804.30,115.33 L804.65,106.98 L805.00,98.62 L805.36,90.35 L805.71,82.24 L806.06,74.36 L806.42,66.80 L806.77,59.63 L807.12,52.91 L807.47,46.72 L807.83,41.10 L808.18,36.12 L808.53,31.82 L808.89,28.24 L809.24,25.43 L809.59,23.39 L809.95,22.17 L810.30,21.76 L810.66,22.96 L811.03,26.55 L811.39,32.44 L811.75,40.53 L812.12,50.64 L812.48,62.57 L812.85,76.08 L813.21,90.89 L813.57,106.70 L813.94,123.19 L814.30,140.02 L814.66,156.85 L815.03,173.33 L815.39,189.14 L815.75,203.95 L816.12,217.46 L816.48,229.39 L816.85,239.50 L817.21,247.59 L817.57,253.49 L817.94,257.07 L818.30,258.28 L818.67,257.16 L819.04,253.88 L819.41,248.59 L819.79,241.56 L820.16,233.15 L820.53,223.77 L820.90,213.89 L821.27,204.01 L821.64,194.63 L822.01,186.21 L822.39,179.18 L822.76,173.90 L823.13,170.61 L823.50,169.50 L823.88,170.38 L824.25,172.95 L824.63,177.08 L825.01,182.52 L825.38,188.96 L825.76,196.02 L826.14,203.28 L826.52,210.34 L826.89,216.78 L827.27,222.22 L827.65,226.35 L828.02,228.92 L828.40,229.80 L828.77,228.91 L829.15,226.31 L829.52,222.21 L829.89,216.94 L830.26,210.93 L830.64,204.67 L831.01,198.66 L831.38,193.39 L831.75,189.29 L832.13,186.69 L832.50,185.80 L832.87,186.31 L833.23,187.82 L833.60,190.22 L833.97,193.35 L834.33,196.99 L834.70,200.90 L835.07,204.81 L835.43,208.45 L835.80,211.58 L836.17,213.98 L836.53,215.49 L836.90,216.00 L837.25,215.57 L837.60,214.31 L837.95,212.29 L838.30,209.68 L838.65,206.62 L839.00,203.35 L839.35,200.08 L839.70,197.03 L840.05,194.41 L840.40,192.39 L840.75,191.13 L841.10,190.70 L841.45,191.15 L841.81,192.45 L842.16,194.50 L842.52,197.13 L842.87,200.13 L843.23,203.27 L843.58,206.27 L843.94,208.90 L844.29,210.95 L844.65,212.25 L845.00,212.70 L845.36,212.40 L845.72,211.50 L846.08,210.08 L846.43,208.22 L846.79,206.07 L847.15,203.75 L847.51,201.43 L847.87,199.28 L848.22,197.42 L848.58,196.00 L848.94,195.10 L849.30,194.80 L849.66,195.13 L850.03,196.09 L850.39,197.60 L850.75,199.54 L851.12,201.75 L851.48,204.05 L851.85,206.26 L852.21,208.20 L852.57,209.71 L852.94,210.67 L853.30,211.00 L853.67,210.72 L854.04,209.91 L854.41,208.60 L854.79,206.86 L855.16,204.77 L855.53,202.45 L855.90,200.00 L856.27,197.55 L856.64,195.23 L857.01,193.14 L857.39,191.40 L857.76,190.09 L858.13,189.28 L858.50,189.00 L858.86,189.28 L859.23,190.11 L859.59,191.42 L859.95,193.09 L860.32,195.00 L860.68,197.00 L861.05,198.91 L861.41,200.58 L861.77,201.89 L862.14,202.72 L862.50,203.00 L862.88,202.72 L863.25,201.91 L863.63,200.61 L864.01,198.90 L864.38,196.87 L864.76,194.65 L865.14,192.35 L865.52,190.13 L865.89,188.10 L866.27,186.39 L866.65,185.09 L867.02,184.28 L867.40,184.00 L867.76,184.24 L868.11,184.94 L868.47,186.00 L868.82,187.31 L869.18,188.69 L869.53,190.00 L869.89,191.06 L870.24,191.76 L870.60,192.00 L871.07,191.75 L871.53,191.25 L872.00,191.00 L872.36,191.05 L872.72,191.20 L873.08,191.44 L873.44,191.76 L873.81,192.16 L874.17,192.62 L874.53,193.14 L874.89,193.69 L875.25,194.25 L875.61,194.81 L875.97,195.36 L876.33,195.88 L876.69,196.34 L877.06,196.74 L877.42,197.06 L877.78,197.30 L878.14,197.45 L878.50,197.50 L878.87,197.53 L879.23,197.63 L879.60,197.79 L879.96,198.01 L880.33,198.29 L880.69,198.61 L881.06,198.98 L881.42,199.39 L881.79,199.83 L882.15,200.29 L882.52,200.76 L882.88,201.24 L883.25,201.71 L883.61,202.17 L883.98,202.61 L884.34,203.02 L884.71,203.39 L885.07,203.71 L885.44,203.99 L885.80,204.21 L886.17,204.37 L886.53,204.47 L886.90,204.50 L887.26,204.33 L887.61,203.83 L887.97,203.03 L888.33,201.94 L888.68,200.61 L889.04,199.10 L889.39,197.46 L889.75,195.75 L890.11,194.04 L890.46,192.40 L890.82,190.89 L891.17,189.56 L891.53,188.47 L891.89,187.67 L892.24,187.17 L892.60,187.00 L892.96,187.10 L893.31,187.41 L893.67,187.90 L894.02,188.58 L894.38,189.41 L894.73,190.38 L895.09,191.44 L895.44,192.58 L895.80,193.75 L896.16,194.92 L896.51,196.06 L896.87,197.12 L897.22,198.09 L897.58,198.92 L897.93,199.60 L898.29,200.09 L898.64,200.40 L899.00,200.50 L899.36,200.42 L899.72,200.19 L900.08,199.82 L900.44,199.30 L900.80,198.65 L901.17,197.88 L901.53,197.01 L901.89,196.05 L902.25,195.01 L902.61,193.93 L902.97,192.81 L903.33,191.69 L903.69,190.57 L904.05,189.49 L904.41,188.45 L904.77,187.49 L905.13,186.62 L905.50,185.85 L905.86,185.20 L906.22,184.68 L906.58,184.31 L906.94,184.08 L907.30,184.00 L907.66,184.12 L908.03,184.48 L908.39,185.06 L908.76,185.86 L909.12,186.86 L909.49,188.02 L909.86,189.32 L910.22,190.74 L910.59,192.22 L910.95,193.75 L911.31,195.28 L911.68,196.76 L912.04,198.18 L912.41,199.48 L912.77,200.64 L913.14,201.64 L913.50,202.44 L913.87,203.02 L914.24,203.38 L914.60,203.50 L914.97,203.29 L915.35,202.68 L915.72,201.72 L916.09,200.49 L916.46,199.08 L916.84,197.62 L917.21,196.21 L917.58,194.98 L917.95,194.02 L918.33,193.41 L918.70,193.20 L919.08,193.23 L919.45,193.34 L919.83,193.50 L920.21,193.72 L920.58,193.97 L920.96,194.26 L921.34,194.54 L921.72,194.83 L922.09,195.08 L922.47,195.30 L922.85,195.46 L923.22,195.57 L923.60,195.60 L923.96,195.55 L924.31,195.41 L924.67,195.20 L925.02,194.94 L925.38,194.66 L925.73,194.40 L926.09,194.19 L926.44,194.05 L926.80,194.00 L927.15,194.06 L927.50,194.24 L927.85,194.53 L928.20,194.92 L928.55,195.39 L928.90,195.90 L929.25,196.45 L929.60,197.00 L929.95,197.51 L930.30,197.98 L930.65,198.37 L931.00,198.66 L931.35,198.84 L931.70,198.90 L932.08,198.82 L932.45,198.57 L932.83,198.18 L933.21,197.67 L933.58,197.06 L933.96,196.39 L934.34,195.71 L934.72,195.04 L935.09,194.43 L935.47,193.92 L935.85,193.53 L936.22,193.28 L936.60,193.20 L936.98,193.25 L937.35,193.38 L937.73,193.60 L938.11,193.89 L938.48,194.23 L938.86,194.61 L939.24,194.99 L939.62,195.37 L939.99,195.71 L940.37,196.00 L940.75,196.22 L941.12,196.35 L941.50,196.40 L941.88,196.34 L942.25,196.17 L942.63,195.88 L943.01,195.51 L943.38,195.08 L943.76,194.60 L944.14,194.10 L944.52,193.62 L944.89,193.19 L945.27,192.82 L945.65,192.53 L946.02,192.36 L946.40,192.30 L946.76,192.30 L947.12,192.29 L947.48,192.28 L947.84,192.27 L948.20,192.25 L948.56,192.24 L948.92,192.23 L949.28,192.22 L949.64,192.21 L950.00,192.21 L950.36,192.18 L950.72,192.09 L951.08,191.96 L951.44,191.79 L951.80,191.61 L952.16,191.42 L952.52,191.26 L952.88,191.12 L953.24,191.04 L953.60,191.01 L953.96,191.07 L954.32,191.24 L954.68,191.50 L955.04,191.84 L955.40,192.21 L955.76,192.58 L956.12,192.91 L956.48,193.18 L956.84,193.35 L957.20,193.41 L957.58,193.48 L957.95,193.67 L958.33,193.97 L958.70,194.31 L959.08,194.65 L959.45,194.95 L959.83,195.14 L960.20,195.21 L960.56,195.16 L960.91,195.03 L961.26,194.81 L961.62,194.51 L961.97,194.14 L962.32,193.71 L962.68,193.25 L963.03,192.76 L963.38,192.26 L963.73,191.77 L964.09,191.31 L964.44,190.88 L964.79,190.51 L965.15,190.21 L965.50,189.99 L965.85,189.85 L966.21,189.81 L966.58,189.90 L966.96,190.16 L967.33,190.55 L967.71,191.01 L968.08,191.47 L968.46,191.86 L968.83,192.12 L969.21,192.21 L969.56,192.33 L969.91,192.69 L970.26,193.26 L970.61,194.01 L970.96,194.88 L971.31,195.81 L971.66,196.74 L972.01,197.61 L972.36,198.36 L972.71,198.93 L973.06,199.29 L973.41,199.41 L973.76,199.32 L974.12,199.07 L974.47,198.65 L974.82,198.08 L975.17,197.38 L975.53,196.58 L975.88,195.71 L976.23,194.78 L976.59,193.84 L976.94,192.91 L977.29,192.04 L977.65,191.24 L978.00,190.54 L978.35,189.97 L978.71,189.55 L979.06,189.29 L979.41,189.21 L979.78,189.29 L980.15,189.52 L980.52,189.89 L980.89,190.37 L981.26,190.95 L981.63,191.58 L982.00,192.23 L982.37,192.87 L982.74,193.44 L983.11,193.93 L983.47,194.30 L983.84,194.53 L984.21,194.61 L984.56,194.54 L984.91,194.33 L985.26,193.99 L985.61,193.56 L985.96,193.05 L986.31,192.51 L986.66,191.97 L987.01,191.46 L987.36,191.02 L987.72,190.69 L988.07,190.48 L988.42,190.41 L988.77,190.45 L989.12,190.57 L989.47,190.76 L989.82,191.01 L990.17,191.30 L990.52,191.61 L990.87,191.92 L991.22,192.21 L991.57,192.46 L991.92,192.65 L992.27,192.77 L992.62,192.81 L992.98,192.77 L993.34,192.64 L993.70,192.44 L994.06,192.19 L994.42,191.91 L994.78,191.63 L995.14,191.38 L995.50,191.18 L995.86,191.05 L996.22,191.01 L996.58,191.06 L996.94,191.22 L997.30,191.47 L997.66,191.80 L998.02,192.21 L998.38,192.67 L998.74,193.16 L999.10,193.66 L999.46,194.15 L999.82,194.61 L1000.18,195.02 L1000.54,195.35 L1000.90,195.60 L1001.26,195.76 L1001.62,195.81 L1001.97,195.76 L1002.32,195.61 L1002.67,195.37 L1003.02,195.06 L1003.37,194.70 L1003.72,194.31 L1004.07,193.92 L1004.42,193.56 L1004.77,193.25 L1005.12,193.01 L1005.47,192.86 L1005.82,192.81 L1006.17,192.85 L1006.52,192.97 L1006.87,193.16 L1007.22,193.41 L1007.57,193.70 L1007.92,194.01 L1008.27,194.32 L1008.62,194.61 L1008.97,194.86 L1009.32,195.05 L1009.67,195.17 L1010.02,195.21 L1010.39,195.16 L1010.76,195.00 L1011.13,194.76 L1011.50,194.43 L1011.87,194.05 L1012.24,193.63 L1012.61,193.19 L1012.98,192.77 L1013.35,192.39 L1013.72,192.06 L1014.09,191.81 L1014.46,191.66 L1014.83,191.61 L1015.18,191.71 L1015.53,192.01 L1015.88,192.49 L1016.23,193.11 L1016.58,193.83 L1016.93,194.61 L1017.28,195.39 L1017.63,196.11 L1017.98,196.73 L1018.33,197.21 L1018.68,197.51 L1019.03,197.61 L1019.38,197.54 L1019.73,197.33 L1020.09,196.98 L1020.44,196.51 L1020.79,195.94 L1021.15,195.28 L1021.50,194.56 L1021.85,193.80 L1022.21,193.02 L1022.56,192.26 L1022.91,191.54 L1023.26,190.88 L1023.62,190.30 L1023.97,189.84 L1024.32,189.49 L1024.68,189.28 L1025.03,189.21 L1025.38,189.28 L1025.73,189.49 L1026.08,189.82 L1026.43,190.26 L1026.78,190.76 L1027.13,191.31 L1027.48,191.85 L1027.83,192.36 L1028.18,192.79 L1028.53,193.13 L1028.88,193.34 L1029.23,193.41 L1029.59,193.34 L1029.95,193.12 L1030.31,192.79 L1030.67,192.37 L1031.03,191.91 L1031.39,191.45 L1031.75,191.03 L1032.11,190.69 L1032.47,190.48 L1032.83,190.41 L1033.19,190.49 L1033.55,190.72 L1033.91,191.10 L1034.27,191.60 L1034.63,192.21 L1034.99,192.90 L1035.35,193.63 L1035.71,194.39 L1036.07,195.12 L1036.43,195.81 L1036.79,196.42 L1037.15,196.92 L1037.52,197.30 L1037.88,197.53 L1038.24,197.61 L1038.60,197.49 L1038.97,197.13 L1039.34,196.55 L1039.71,195.80 L1040.08,194.90 L1040.45,193.92 L1040.82,192.90 L1041.19,191.92 L1041.56,191.02 L1041.93,190.26 L1042.30,189.69 L1042.67,189.33 L1043.04,189.21 L1043.40,189.27 L1043.76,189.47 L1044.12,189.78 L1044.48,190.20 L1044.84,190.71 L1045.20,191.28 L1045.56,191.90 L1045.92,192.52 L1046.28,193.14 L1046.64,193.71 L1047.00,194.22 L1047.36,194.64 L1047.72,194.95 L1048.08,195.14 L1048.44,195.21 L1048.81,195.16 L1049.18,195.00 L1049.55,194.76 L1049.92,194.43 L1050.29,194.05 L1050.66,193.63 L1051.03,193.19 L1051.39,192.77 L1051.76,192.39 L1052.13,192.06 L1052.50,191.81 L1052.87,191.66 L1053.24,191.61 L1053.60,191.65 L1053.96,191.76 L1054.32,191.95 L1054.68,192.20 L1055.04,192.51 L1055.40,192.85 L1055.76,193.22 L1056.12,193.60 L1056.48,193.97 L1056.84,194.31 L1057.20,194.61 L1057.56,194.87 L1057.92,195.05 L1058.28,195.17 L1058.64,195.21 L1059.01,195.18 L1059.38,195.10 L1059.74,194.97 L1060.11,194.79 L1060.48,194.57 L1060.84,194.31 L1061.21,194.03 L1061.58,193.72 L1061.94,193.41 L1062.31,193.10 L1062.68,192.79 L1063.05,192.51 L1063.41,192.25 L1063.78,192.03 L1064.15,191.85 L1064.51,191.72 L1064.88,191.64 L1065.25,191.61 L1065.60,191.61 L1065.95,191.63 L1066.31,191.65 L1066.66,191.69 L1067.01,191.73 L1067.36,191.77 L1067.72,191.83 L1068.07,191.88 L1068.42,191.94 L1068.78,191.99 L1069.13,192.04 L1069.48,192.09 L1069.84,192.13 L1070.19,192.16 L1070.54,192.19 L1070.90,192.20 L1071.25,192.21 L1071.60,192.23 L1071.95,192.29 L1072.31,192.39 L1072.66,192.52 L1073.01,192.69 L1073.37,192.87 L1073.72,193.08 L1074.07,193.30 L1074.43,193.52 L1074.78,193.74 L1075.13,193.94 L1075.49,194.13 L1075.84,194.30 L1076.19,194.43 L1076.54,194.53 L1076.90,194.59 L1077.25,194.61 L1077.60,194.58 L1077.96,194.51 L1078.31,194.39 L1078.66,194.22 L1079.02,194.01 L1079.37,193.78 L1079.72,193.52 L1080.08,193.25 L1080.43,192.97 L1080.78,192.70 L1081.13,192.44 L1081.49,192.20 L1081.84,192.00 L1082.19,191.83 L1082.55,191.71 L1082.90,191.63 L1083.25,191.61 L1083.62,191.64 L1083.99,191.72 L1084.35,191.85 L1084.72,192.03 L1085.09,192.25 L1085.45,192.51 L1085.82,192.79 L1086.19,193.10 L1086.55,193.41 L1086.92,193.72 L1087.29,194.03 L1087.66,194.31 L1088.02,194.57 L1088.39,194.79 L1088.76,194.97 L1089.12,195.10 L1089.49,195.18 L1089.86,195.21 L1090.22,195.18 L1090.59,195.10 L1090.96,194.97 L1091.32,194.79 L1091.69,194.57 L1092.06,194.31 L1092.42,194.03 L1092.79,193.72 L1093.16,193.41 L1093.52,193.10 L1093.89,192.79 L1094.26,192.51 L1094.62,192.25 L1094.99,192.03 L1095.36,191.85 L1095.72,191.72 L1096.09,191.64 L1096.46,191.61 L1096.82,191.61 L1097.18,191.60 L1097.54,191.60 L1097.90,191.59 L1098.26,191.57 L1098.62,191.56 L1098.98,191.54 L1099.34,191.53 L1099.70,191.51 L1100.06,191.49 L1100.42,191.47 L1100.78,191.45 L1101.14,191.43 L1101.50,191.42 L1101.86,191.40 L1102.22,191.39 L1102.58,191.38 L1102.94,191.37 L1103.30,191.37 L1103.66,191.37 L1104.03,191.42 L1104.40,191.55 L1104.77,191.78 L1105.14,192.07 L1105.51,192.41 L1105.88,192.79 L1106.25,193.18 L1106.62,193.56 L1106.99,193.91 L1107.36,194.20 L1107.72,194.42 L1108.09,194.56 L1108.46,194.61 L1108.82,194.56 L1109.18,194.40 L1109.54,194.15 L1109.90,193.82 L1110.26,193.41 L1110.62,192.95 L1110.98,192.46 L1111.34,191.96 L1111.70,191.47 L1112.06,191.01 L1112.42,190.60 L1112.79,190.27 L1113.15,190.02 L1113.51,189.86 L1113.87,189.81 L1114.23,189.87 L1114.59,190.07 L1114.95,190.38 L1115.31,190.80 L1115.67,191.31 L1116.03,191.88 L1116.39,192.50 L1116.75,193.12 L1117.11,193.74 L1117.47,194.31 L1117.83,194.82 L1118.19,195.24 L1118.55,195.55 L1118.91,195.74 L1119.27,195.81 L1119.62,195.76 L1119.97,195.60 L1120.33,195.33 L1120.68,194.98 L1121.03,194.55 L1121.39,194.05 L1121.74,193.50 L1122.09,192.92 L1122.45,192.34 L1122.80,191.76 L1123.15,191.21 L1123.50,190.71 L1123.86,190.28 L1124.21,189.92 L1124.56,189.66 L1124.92,189.50 L1125.27,189.45 L1125.64,189.51 L1126.01,189.71 L1126.38,190.02 L1126.75,190.43 L1127.12,190.92 L1127.49,191.45 L1127.86,192.00 L1128.23,192.54 L1128.59,193.02 L1128.96,193.44 L1129.33,193.75 L1129.70,193.94 L1130.07,194.01 L1130.44,193.97 L1130.81,193.86 L1131.18,193.68 L1131.55,193.44 L1131.92,193.16 L1132.29,192.85 L1132.66,192.53 L1133.03,192.22 L1133.40,191.94 L1133.77,191.70 L1134.14,191.52 L1134.50,191.41 L1134.87,191.37 L1135.23,191.38 L1135.59,191.42 L1135.95,191.48 L1136.31,191.56 L1136.67,191.67 L1137.03,191.79 L1137.39,191.93 L1137.76,192.07 L1138.12,192.23 L1138.48,192.39 L1138.84,192.55 L1139.20,192.70 L1139.56,192.85 L1139.92,192.99 L1140.28,193.11 L1140.64,193.21 L1141.00,193.30 L1141.36,193.36 L1141.72,193.40 L1142.08,193.41 L1142.43,193.41 L1142.79,193.40 L1143.14,193.39 L1143.50,193.38 L1143.86,193.36 L1144.21,193.34 L1144.57,193.32 L1144.92,193.29 L1145.28,193.26 L1145.63,193.23 L1145.99,193.20 L1146.35,193.16 L1146.70,193.13 L1147.06,193.09 L1147.41,193.06 L1147.77,193.02 L1148.12,192.99 L1148.48,192.96 L1148.84,192.93 L1149.19,192.90 L1149.55,192.88 L1149.90,192.86 L1150.26,192.84 L1150.61,192.83 L1150.97,192.82 L1151.32,192.81 L1151.68,192.81 L1152.05,192.83 L1152.41,192.89 L1152.78,192.99 L1153.15,193.13 L1153.51,193.30 L1153.88,193.50 L1154.25,193.72 L1154.62,193.95 L1154.98,194.19 L1155.35,194.43 L1155.72,194.66 L1156.08,194.88 L1156.45,195.08 L1156.82,195.25 L1157.18,195.39 L1157.55,195.49 L1157.92,195.55 L1158.28,195.57 L1158.64,195.51 L1159.00,195.34 L1159.36,195.05 L1159.72,194.68 L1160.08,194.22 L1160.44,193.70 L1160.80,193.15 L1161.16,192.59 L1161.52,192.03 L1161.88,191.52 L1162.24,191.06 L1162.61,190.68 L1162.97,190.40 L1163.33,190.23 L1163.69,190.17 L1164.05,190.22 L1164.42,190.37 L1164.79,190.61 L1165.16,190.92 L1165.53,191.29 L1165.90,191.70 L1166.27,192.12 L1166.64,192.53 L1167.01,192.90 L1167.38,193.21 L1167.75,193.45 L1168.12,193.60 L1168.49,193.65 L1168.85,193.60 L1169.21,193.47 L1169.57,193.25 L1169.93,192.95 L1170.29,192.60 L1170.65,192.20 L1171.01,191.77 L1171.37,191.33 L1171.73,190.90 L1172.09,190.50 L1172.45,190.14 L1172.81,189.85 L1173.17,189.63 L1173.53,189.49 L1173.89,189.45 L1174.26,189.49 L1174.63,189.63 L1175.00,189.84 L1175.37,190.12 L1175.74,190.45 L1176.11,190.82 L1176.48,191.20 L1176.84,191.56 L1177.21,191.89 L1177.58,192.18 L1177.95,192.39 L1178.32,192.52 L1178.69,192.57 L1179.05,192.56 L1179.41,192.54 L1179.77,192.51 L1180.13,192.47 L1180.49,192.42 L1180.85,192.36 L1181.21,192.29 L1181.57,192.21 L1181.93,192.12 L1182.29,192.03 L1182.65,191.93 L1183.01,191.84 L1183.37,191.74 L1183.73,191.64 L1184.09,191.55 L1184.45,191.46 L1184.81,191.37 L1185.17,191.29 L1185.53,191.22 L1185.89,191.16 L1186.25,191.10 L1186.61,191.06 L1186.97,191.03 L1187.33,191.01 L1187.70,191.01 L1187.52,190.75 L1187.35,190.48 L1187.70,190.52 L1188.05,190.63 L1188.40,190.81 L1188.75,191.06 L1189.10,191.35 L1189.45,191.68 L1189.80,192.04 L1190.15,192.40 L1190.50,192.75 L1190.85,193.08 L1191.20,193.38 L1191.55,193.62 L1191.90,193.80 L1192.25,193.91 L1192.61,193.95 L1192.97,193.90 L1193.33,193.75 L1193.70,193.51 L1194.06,193.20 L1194.42,192.83 L1194.79,192.43 L1195.15,192.01 L1195.51,191.60 L1195.88,191.23 L1196.24,190.92 L1196.60,190.68 L1196.97,190.53 L1197.33,190.48 L1197.70,190.54 L1198.06,190.72 L1198.42,191.01 L1198.79,191.39 L1199.15,191.84 L1199.51,192.33 L1199.88,192.84 L1200.24,193.33 L1200.60,193.78 L1200.97,194.16 L1201.33,194.44 L1201.70,194.62 L1202.06,194.68 L1202.41,194.64 L1202.76,194.50 L1203.11,194.28 L1203.46,193.99 L1203.81,193.63 L1204.16,193.23 L1204.51,192.80 L1204.86,192.36 L1205.21,191.93 L1205.56,191.53 L1205.91,191.18 L1206.26,190.88 L1206.61,190.66 L1206.96,190.53 L1207.31,190.48 L1207.67,190.54 L1208.04,190.72 L1208.40,191.01 L1208.77,191.39 L1209.13,191.84 L1209.49,192.33 L1209.86,192.84 L1210.22,193.33 L1210.58,193.78 L1210.95,194.16 L1211.31,194.44 L1211.67,194.62 L1212.04,194.68 L1212.40,194.62 L1212.77,194.44 L1213.13,194.16 L1213.49,193.78 L1213.86,193.33 L1214.22,192.84 L1214.58,192.33 L1214.95,191.84 L1215.31,191.39 L1215.67,191.01 L1216.04,190.72 L1216.40,190.54 L1216.76,190.48 L1217.11,190.53 L1217.46,190.67 L1217.82,190.90 L1218.17,191.19 L1218.52,191.53 L1218.87,191.90 L1219.22,192.27 L1219.57,192.61 L1219.92,192.90 L1220.27,193.13 L1220.62,193.27 L1220.97,193.32 L1221.32,193.28 L1221.67,193.15 L1222.02,192.95 L1222.37,192.69 L1222.72,192.39 L1223.07,192.06 L1223.42,191.73 L1223.77,191.43 L1224.12,191.17 L1224.47,190.97 L1224.82,190.84 L1225.17,190.80 L1225.53,190.85 L1225.90,191.00 L1226.26,191.25 L1226.62,191.57 L1226.99,191.95 L1227.35,192.37 L1227.71,192.80 L1228.08,193.22 L1228.44,193.60 L1228.80,193.92 L1229.17,194.17 L1229.53,194.32 L1229.89,194.37 L1230.26,194.33 L1230.62,194.21 L1230.99,194.01 L1231.35,193.76 L1231.71,193.45 L1232.08,193.12 L1232.44,192.78 L1232.80,192.45 L1233.17,192.15 L1233.53,191.89 L1233.89,191.70 L1234.26,191.57 L1234.62,191.53 L1234.99,191.59 L1235.35,191.77 L1235.71,192.06 L1236.08,192.44 L1236.44,192.89 L1236.80,193.38 L1237.17,193.89 L1237.53,194.38 L1237.89,194.83 L1238.26,195.21 L1238.62,195.49 L1238.99,195.67 L1239.35,195.74 L1239.71,195.68 L1240.07,195.54 L1240.43,195.29 L1240.79,194.97 L1241.15,194.57 L1241.52,194.11 L1241.88,193.62 L1242.24,193.11 L1242.60,192.60 L1242.96,192.10 L1243.32,191.65 L1243.68,191.25 L1244.04,190.93 L1244.40,190.68 L1244.76,190.53 L1245.13,190.48 L1245.48,190.48 L1245.83,190.49 L1246.18,190.50 L1246.53,190.50 L1246.88,190.52 L1247.23,190.53 L1247.58,190.54 L1247.93,190.56 L1248.28,190.58 L1248.63,190.60 L1248.98,190.62 L1249.33,190.64 L1249.68,190.66 L1250.03,190.68 L1250.38,190.70 L1250.73,190.72 L1251.08,190.74 L1251.43,190.75 L1251.78,190.77 L1252.13,190.78 L1252.48,190.79 L1252.83,190.79 L1253.18,190.80 L1253.53,190.80 L1253.88,190.80 L1254.23,190.82 L1254.58,190.85 L1254.93,190.88 L1255.28,190.93 L1255.63,190.98 L1255.98,191.04 L1256.33,191.10 L1256.68,191.17 L1257.03,191.23 L1257.38,191.29 L1257.73,191.35 L1258.08,191.40 L1258.43,191.45 L1258.78,191.48 L1259.13,191.51 L1259.48,191.53 L1259.83,191.53 L1260.18,191.56 L1260.53,191.62 L1260.88,191.73 L1261.23,191.88 L1261.58,192.06 L1261.93,192.26 L1262.28,192.47 L1262.63,192.69 L1262.98,192.91 L1263.33,193.11 L1263.68,193.29 L1264.03,193.43 L1264.38,193.54 L1264.73,193.61 L1265.08,193.63 L1265.43,193.61 L1265.78,193.55 L1266.13,193.45 L1266.48,193.32 L1266.83,193.14 L1267.18,192.94 L1267.54,192.72 L1267.89,192.47 L1268.24,192.21 L1268.59,191.93 L1268.94,191.66 L1269.29,191.39 L1269.64,191.12 L1269.99,190.88 L1270.34,190.65 L1270.69,190.45 L1271.04,190.28 L1271.39,190.14 L1271.74,190.04 L1272.09,189.98 L1272.44,189.96 L1272.80,189.99 L1273.16,190.07 L1273.52,190.20 L1273.87,190.38 L1274.23,190.60 L1274.59,190.86 L1274.95,191.15 L1275.31,191.46 L1275.67,191.79 L1276.03,192.12 L1276.39,192.44 L1276.75,192.76 L1277.11,193.05 L1277.47,193.31 L1277.83,193.53 L1278.19,193.71 L1278.55,193.84 L1278.91,193.92 L1279.26,193.95 L1279.62,193.93 L1279.98,193.88 L1280.34,193.79 L1280.70,193.67 L1281.06,193.53 L1281.41,193.35 L1281.77,193.15 L1282.13,192.94 L1282.49,192.70 L1282.85,192.46 L1283.20,192.22 L1283.56,191.97 L1283.92,191.73 L1284.28,191.50 L1284.64,191.28 L1284.99,191.08 L1285.35,190.91 L1285.71,190.76 L1286.07,190.64 L1286.43,190.55 L1286.78,190.50 L1287.14,190.48 L1287.49,190.52 L1287.84,190.62 L1288.19,190.78 L1288.54,191.00 L1288.89,191.27 L1289.24,191.57 L1289.59,191.89 L1289.94,192.22 L1290.29,192.55 L1290.64,192.85 L1290.99,193.11 L1291.34,193.33 L1291.69,193.50 L1292.04,193.60 L1292.39,193.63 L1292.75,193.59 L1293.10,193.48 L1293.45,193.28 L1293.80,193.03 L1294.15,192.72 L1294.50,192.36 L1294.85,191.99 L1295.20,191.60 L1295.55,191.23 L1295.90,190.88 L1296.25,190.57 L1296.60,190.31 L1296.95,190.12 L1297.30,190.00 L1297.65,189.96 L1298.01,190.01 L1298.37,190.16 L1298.73,190.40 L1299.09,190.73 L1299.45,191.13 L1299.81,191.58 L1300.17,192.07 L1300.54,192.58 L1300.90,193.10 L1301.26,193.59 L1301.62,194.04 L1301.98,194.44 L1302.34,194.77 L1302.70,195.01 L1303.06,195.16 L1303.42,195.21 L1303.77,195.15 L1304.12,194.96 L1304.47,194.67 L1304.82,194.29 L1305.18,193.85 L1305.53,193.37 L1305.88,192.90 L1306.23,192.45 L1306.58,192.07 L1306.93,191.78 L1307.28,191.60 L1307.63,191.53 L1307.98,191.53 L1308.34,191.52 L1308.70,191.51 L1309.05,191.49 L1309.41,191.46 L1309.77,191.43 L1310.13,191.40 L1310.48,191.36 L1310.84,191.32 L1311.20,191.28 L1311.55,191.23 L1311.91,191.19 L1312.27,191.14 L1312.63,191.10 L1312.98,191.05 L1313.34,191.01 L1313.70,190.97 L1314.05,190.93 L1314.41,190.90 L1314.77,190.87 L1315.13,190.84 L1315.48,190.82 L1315.84,190.81 L1316.20,190.80 L1316.55,190.80 L1316.90,190.81 L1317.25,190.86 L1317.61,190.94 L1317.96,191.04 L1318.31,191.17 L1318.66,191.31 L1319.01,191.46 L1319.36,191.61 L1319.71,191.76 L1320.06,191.90 L1320.41,192.03 L1320.76,192.13 L1321.11,192.21 L1321.46,192.25 L1321.81,192.27 L1322.16,192.27 L1322.51,192.26 L1322.86,192.25 L1323.21,192.23 L1323.56,192.21 L1323.91,192.19 L1324.26,192.16 L1324.61,192.14 L1324.96,192.11 L1325.31,192.07 L1325.66,192.04 L1326.01,192.01 L1326.36,191.98 L1326.71,191.95 L1327.06,191.93 L1327.41,191.90 L1327.76,191.89 L1328.11,191.87 L1328.46,191.86 L1328.81,191.85 L1329.16,191.85 L1329.52,191.86 L1329.89,191.91 L1330.25,191.98 L1330.61,192.08 L1330.98,192.19 L1331.34,192.31 L1331.70,192.44 L1332.07,192.56 L1332.43,192.67 L1332.80,192.77 L1333.16,192.84 L1333.52,192.88 L1333.89,192.90 L1334.25,192.86 L1334.61,192.76 L1334.98,192.60 L1335.34,192.38 L1335.70,192.12 L1336.07,191.84 L1336.43,191.55 L1336.80,191.26 L1337.16,191.00 L1337.52,190.79 L1337.89,190.62 L1338.25,190.52 L1338.61,190.48 L1338.97,190.53 L1339.34,190.68 L1339.70,190.93 L1340.06,191.25 L1340.42,191.65 L1340.78,192.10 L1341.14,192.60 L1341.50,193.11 L1341.86,193.62 L1342.22,194.11 L1342.59,194.57 L1342.95,194.97 L1343.31,195.29 L1343.67,195.54 L1344.03,195.68 L1344.39,195.74 L1344.75,195.69 L1345.11,195.58 L1345.47,195.38 L1345.84,195.12 L1346.20,194.80 L1346.56,194.44 L1346.92,194.04 L1347.28,193.63 L1347.64,193.22 L1348.00,192.83 L1348.36,192.47 L1348.72,192.15 L1349.08,191.89 L1349.45,191.69 L1349.81,191.57 L1350.17,191.53 L1350.52,191.54 L1350.87,191.57 L1351.22,191.63 L1351.57,191.69 L1351.92,191.78 L1352.27,191.87 L1352.62,191.98 L1352.97,192.10 L1353.32,192.22 L1353.67,192.33 L1354.02,192.45 L1354.37,192.56 L1354.72,192.66 L1355.07,192.74 L1355.42,192.81 L1355.77,192.86 L1356.12,192.89 L1356.47,192.90 L1356.82,192.89 L1357.17,192.86 L1357.52,192.81 L1357.87,192.74 L1358.22,192.65 L1358.57,192.55 L1358.92,192.43 L1359.27,192.30 L1359.62,192.15 L1359.97,192.00 L1360.32,191.85 L1360.67,191.69 L1361.02,191.53 L1361.37,191.38 L1361.72,191.23 L1362.07,191.09 L1362.42,190.96 L1362.77,190.84 L1363.12,190.73 L1363.47,190.65 L1363.82,190.58 L1364.17,190.52 L1364.52,190.49 L1364.87,190.48 L1365.22,190.50 L1365.57,190.55 L1365.92,190.63 L1366.27,190.74 L1366.62,190.88 L1366.97,191.03 L1367.32,191.19 L1367.68,191.35 L1368.03,191.51 L1368.38,191.66 L1368.73,191.80 L1369.08,191.91 L1369.43,191.99 L1369.78,192.04 L1370.13,192.06 L1370.48,192.06 L1370.83,192.06 L1371.18,192.07 L1371.53,192.07 L1371.88,192.08 L1372.23,192.09 L1372.58,192.11 L1372.93,192.12 L1373.28,192.14 L1373.63,192.15 L1373.98,192.17 L1374.33,192.19 L1374.68,192.21 L1375.03,192.23 L1375.38,192.25 L1375.73,192.28 L1376.08,192.30 L1376.43,192.32 L1376.78,192.34 L1377.13,192.37 L1377.48,192.39 L1377.83,192.41 L1378.18,192.43 L1378.53,192.45 L1378.88,192.47 L1379.23,192.49 L1379.58,192.51 L1379.93,192.52 L1380.28,192.54 L1380.63,192.55 L1380.98,192.56 L1381.33,192.57 L1381.68,192.58 L1382.03,192.58 L1382.38,192.58 L1382.73,192.58 L1383.08,192.58 L1383.43,192.57 L1383.78,192.56 L1384.13,192.54 L1384.48,192.52 L1384.83,192.51 L1385.18,192.49 L1385.53,192.48 L1385.88,192.48" stroke="#0000ff"/></g>
<g fill="none" stroke="#000" stroke-width="1.6"><rect x="917.2" y="186.2" width="44.1" height="19.4"/><line x1="891.2" y1="113.7" x2="917.2" y2="186.2"/><line x1="1140.7" y1="113.7" x2="961.3" y2="186.2"/></g>
<rect x="891.2" y="28.9" width="249.5" height="84.80000000000001" fill="#fff"/>
<clipPath id="cli"><rect x="891.2" y="28.9" width="249.5" height="84.80000000000001"/></clipPath>
<g clip-path="url(#cli)" fill="none" stroke-width="2"><path d="M891.24,49.45 C891.87,49.29 893.93,48.72 895.04,48.50 C896.15,48.27 896.78,47.80 897.89,48.12 C899.00,48.43 900.10,48.43 901.69,50.40 C903.27,52.36 905.49,56.09 907.39,59.89 C909.29,63.69 911.19,69.55 913.09,73.19 C914.98,76.83 916.73,80.22 918.78,81.74 C920.84,83.26 923.22,83.26 925.43,82.31 C927.65,81.36 929.71,78.13 932.08,76.04 C934.46,73.95 937.46,70.72 939.68,69.77 C941.90,68.82 943.48,69.14 945.38,70.34 C947.28,71.55 949.18,74.46 951.08,76.99 C952.98,79.52 954.88,82.37 956.78,85.54 C958.68,88.71 960.74,92.98 962.48,95.99 C964.22,99.00 965.96,101.85 967.23,103.59 C968.49,105.33 968.97,106.44 970.08,106.44 C971.18,106.44 972.61,105.80 973.88,103.59 C975.14,101.37 976.09,97.57 977.67,93.14 C979.26,88.71 981.47,82.37 983.37,76.99 C985.27,71.61 987.17,65.59 989.07,60.84 C990.97,56.09 992.87,51.44 994.77,48.50 C996.67,45.55 998.73,43.97 1000.47,43.18 C1002.21,42.38 1003.64,42.54 1005.22,43.75 C1006.80,44.95 1008.23,47.55 1009.97,50.40 C1011.71,53.24 1013.77,57.68 1015.67,60.84 C1017.57,64.01 1019.47,67.24 1021.37,69.39 C1023.27,71.55 1025.17,73.44 1027.07,73.76 C1028.97,74.08 1030.87,72.81 1032.77,71.29 C1034.67,69.77 1036.57,67.18 1038.47,64.64 C1040.36,62.11 1042.26,58.47 1044.16,56.09 C1046.06,53.72 1048.38,51.66 1049.86,50.40 C1051.35,49.13 1051.67,48.65 1053.09,48.50 C1054.52,48.34 1056.73,48.50 1058.41,49.45 C1060.09,50.40 1061.42,52.14 1063.16,54.19 C1064.90,56.25 1066.96,59.42 1068.86,61.79 C1070.76,64.17 1072.66,67.33 1074.56,68.44 C1076.46,69.55 1078.36,69.08 1080.26,68.44 C1082.16,67.81 1084.06,66.38 1085.96,64.64 C1087.86,62.90 1089.76,60.37 1091.66,57.99 C1093.56,55.62 1095.46,52.61 1097.36,50.40 C1099.26,48.18 1101.31,45.87 1103.05,44.70 C1104.80,43.52 1106.22,43.37 1107.80,43.37 C1109.39,43.37 1110.81,43.52 1112.55,44.70 C1114.29,45.87 1116.04,47.70 1118.25,50.40 C1120.47,53.09 1123.32,57.84 1125.85,60.84 C1128.38,63.85 1130.98,66.54 1133.45,68.44 C1135.92,70.34 1139.47,71.61 1140.67,72.24" stroke="#ff0000"/><path d="M891.24,54.19 C891.71,53.40 892.98,50.46 894.09,49.45 C895.20,48.43 896.62,48.21 897.89,48.12 C899.15,48.02 900.10,47.55 901.69,48.88 C903.27,50.21 905.49,53.47 907.39,56.09 C909.29,58.72 911.19,62.49 913.09,64.64 C914.98,66.80 916.88,68.38 918.78,69.01 C920.68,69.65 922.74,69.33 924.48,68.44 C926.22,67.56 927.65,65.43 929.23,63.69 C930.82,61.95 932.24,59.42 933.98,57.99 C935.72,56.57 937.78,55.21 939.68,55.14 C941.58,55.08 943.48,56.03 945.38,57.61 C947.28,59.20 949.18,61.73 951.08,64.64 C952.98,67.56 954.88,71.13 956.78,75.09 C958.68,79.05 960.74,84.59 962.48,88.39 C964.22,92.19 965.80,95.83 967.23,97.89 C968.65,99.95 969.76,100.74 971.03,100.74 C972.29,100.74 973.72,99.15 974.83,97.89 C975.93,96.62 976.25,96.30 977.67,93.14 C979.10,89.97 981.47,83.16 983.37,78.89 C985.27,74.62 987.17,70.82 989.07,67.49 C990.97,64.17 992.87,60.94 994.77,58.94 C996.67,56.95 998.73,56.00 1000.47,55.52 C1002.21,55.05 1003.64,55.05 1005.22,56.09 C1006.80,57.14 1008.23,59.26 1009.97,61.79 C1011.71,64.33 1013.77,68.28 1015.67,71.29 C1017.57,74.30 1019.78,77.78 1021.37,79.84 C1022.95,81.90 1023.58,83.54 1025.17,83.64 C1026.75,83.73 1028.97,82.15 1030.87,80.41 C1032.77,78.67 1034.67,75.82 1036.57,73.19 C1038.47,70.56 1040.36,67.65 1042.26,64.64 C1044.16,61.64 1046.16,57.68 1047.96,55.14 C1049.77,52.61 1051.35,50.78 1053.09,49.45 C1054.83,48.12 1056.73,47.32 1058.41,47.17 C1060.09,47.01 1061.42,47.32 1063.16,48.50 C1064.90,49.67 1066.64,52.93 1068.86,54.19 C1071.08,55.46 1073.93,56.41 1076.46,56.09 C1078.99,55.78 1081.52,54.51 1084.06,52.29 C1086.59,50.08 1089.12,45.65 1091.66,42.80 C1094.19,39.95 1097.04,36.84 1099.26,35.20 C1101.47,33.55 1103.05,32.98 1104.95,32.92 C1106.85,32.85 1108.75,33.49 1110.65,34.82 C1112.55,36.15 1114.45,38.30 1116.35,40.90 C1118.25,43.49 1120.15,47.23 1122.05,50.40 C1123.95,53.56 1125.85,57.04 1127.75,59.89 C1129.65,62.74 1131.30,65.43 1133.45,67.49 C1135.60,69.55 1139.47,71.45 1140.67,72.24" stroke="#0000ff"/></g>
<rect x="891.2" y="28.9" width="86.5" height="84.80000000000001" fill="#0000ff" fill-opacity="0.49"/>
<rect x="977.7" y="28.9" width="75.39999999999986" height="84.80000000000001" fill="#ff0000" fill-opacity="0.49"/>
<rect x="1053.1" y="28.9" width="87.60000000000014" height="84.80000000000001" fill="#0000ff" fill-opacity="0.49"/>
<g stroke="#000033" stroke-width="1.3"><line x1="919.20" y1="28.9" x2="919.20" y2="33.4"/><line x1="919.20" y1="113.7" x2="919.20" y2="109.2"/><line x1="1057.50" y1="28.9" x2="1057.50" y2="33.4"/><line x1="1057.50" y1="113.7" x2="1057.50" y2="109.2"/><line x1="988.35" y1="28.9" x2="988.35" y2="31.9"/><line x1="988.35" y1="113.7" x2="988.35" y2="110.7"/><line x1="1126.65" y1="28.9" x2="1126.65" y2="31.9"/><line x1="1126.65" y1="113.7" x2="1126.65" y2="110.7"/><line x1="891.2" y1="44.80" x2="895.7" y2="44.80"/><line x1="1140.7" y1="44.80" x2="1136.2" y2="44.80"/><line x1="891.2" y1="82.90" x2="895.7" y2="82.90"/><line x1="1140.7" y1="82.90" x2="1136.2" y2="82.90"/><line x1="891.2" y1="63.85" x2="894.2" y2="63.85"/><line x1="1140.7" y1="63.85" x2="1137.7" y2="63.85"/><line x1="891.2" y1="101.95" x2="894.2" y2="101.95"/><line x1="1140.7" y1="101.95" x2="1137.7" y2="101.95"/></g>
<rect x="891.2" y="28.9" width="249.5" height="84.80000000000001" fill="none" stroke="#000022" stroke-width="1.6"/>
<g font-family="'Liberation Sans', Arial, sans-serif" font-size="15.4" fill="#000"><text transform="translate(884.6,52.0) scale(1.15,1)" text-anchor="end">0.0</text><text transform="translate(887.0,89.3) scale(1.15,1)" text-anchor="end">-0.5</text><text transform="translate(922.7,130.0) scale(1.15,1)" text-anchor="middle">0.5</text><text transform="translate(1061.0,130.0) scale(1.15,1)" text-anchor="middle">0.6</text></g>
<text font-family="'Liberation Sans', Arial, sans-serif" font-size="24" x="963.9" y="150.9">t [ns]</text>
<text font-family="'Liberation Sans', Arial, sans-serif" font-size="23.5" transform="translate(845.5,69.2) rotate(-90)" text-anchor="middle">I [μA]</text>
<g clip-path="url(#cld)" fill="none"><path d="M777.70,366.36 L778.80,367.32 L779.90,367.83 L781.00,368.99 L782.10,367.71 L783.20,369.12 L784.30,363.00 L785.40,366.18 L786.50,369.66 L787.60,367.73 L788.70,369.63 L789.80,364.24 L790.90,366.87 L792.00,365.44 L793.10,367.65 L794.20,368.00 L795.30,364.20 L796.40,365.76 L797.50,366.33 L798.60,370.92 L798.84,370.33 L802.54,346.26 L806.24,287.02 L808.09,261.11 L812.54,261.11 L815.50,361.07 L817.35,472.14 L819.94,472.14 L822.90,383.28 L824.75,381.43 L826.64,408.71 L828.37,397.46 L832.20,282.48 L833.03,290.71 L833.64,305.57 L835.51,318.66 L836.03,321.49 L836.90,324.57 L837.60,329.51 L838.65,337.00 L839.68,341.49 L840.75,343.83 L841.47,345.48 L841.86,359.95 L843.05,395.30 L844.20,429.87 L845.26,446.12 L845.79,442.67 L846.54,431.55 L848.15,422.43 L849.41,415.94 L849.87,410.33 L850.37,387.45 L851.54,369.53 L852.65,362.29 L852.79,356.94 L854.93,348.11 L855.77,333.23 L856.47,317.93 L857.96,310.87 L858.89,306.22 L859.17,306.80 L860.95,308.86 L862.09,316.15 L863.15,319.61 L863.59,321.10 L864.35,324.52 L865.56,338.51 L866.74,359.13 L867.33,376.06 L868.36,392.25 L869.52,395.08 L870.08,400.42 L871.70,412.76 L872.56,427.40 L874.20,430.67 L874.90,426.95 L875.92,419.56 L876.24,408.63 L877.77,398.71 L878.15,394.72 L879.08,396.63 L879.98,391.13 L881.63,383.01 L882.00,370.86 L882.91,357.45 L883.86,343.89 L884.61,332.00 L885.99,322.45 L886.90,316.77 L887.64,317.64 L888.65,318.00 L889.48,326.00 L890.53,336.48 L891.14,347.99 L892.86,359.54 L893.20,370.37 L894.48,379.07 L895.01,380.13 L896.00,383.87 L897.13,395.16 L897.66,412.46 L898.68,425.36 L899.74,432.08 L900.97,425.69 L902.21,417.97 L902.70,403.81 L904.29,389.86 L905.40,382.27 L906.07,380.19 L907.42,374.02 L908.17,363.78 L908.92,351.42 L910.15,339.26 L910.93,327.90 L911.78,323.95 L912.72,326.79 L913.75,329.66 L914.31,338.25 L915.19,346.45 L916.40,356.13 L917.26,363.23 L918.01,370.31 L918.83,371.39 L919.55,375.16 L920.81,384.39 L921.65,395.77 L922.52,406.50 L923.60,413.61 L924.58,417.16 L926.08,416.37 L926.32,410.10 L927.61,404.44 L928.46,393.11 L929.53,385.24 L930.18,378.94 L931.29,375.76 L932.19,372.93 L933.15,369.99 L934.07,361.12 L935.24,345.40 L936.86,333.83 L937.24,326.76 L938.36,322.36 L939.44,325.96 L940.13,330.97 L941.07,342.07 L942.05,352.74 L943.54,363.65 L944.41,371.73 L944.75,371.82 L946.32,374.30 L946.80,383.42 L948.10,392.24 L948.70,401.82 L949.90,410.20 L950.48,412.52 L951.36,411.33 L952.88,407.30 L953.46,400.13 L954.36,392.45 L955.20,386.61 L956.02,378.27 L957.34,373.87 L957.94,371.26 L958.67,369.98 L960.12,360.97 L960.71,349.15 L961.90,336.92 L962.87,326.94 L963.75,319.07 L964.80,315.04 L965.64,319.45 L966.92,330.67 L967.95,344.50 L969.10,357.61 L969.97,368.81 L971.11,374.65 L971.81,374.89 L973.01,375.36 L973.76,386.37 L974.66,394.17 L975.77,401.41 L977.10,404.27 L977.46,408.10 L978.31,405.06 L979.48,399.54 L980.60,388.26 L982.26,380.28 L982.95,374.15 L983.72,369.51 L984.96,368.63 L985.93,362.17 L986.89,353.58 L987.75,343.41 L988.79,334.59 L989.79,330.37 L990.80,326.94 L991.91,331.39 L992.56,340.54 L994.07,350.41 L994.84,361.01 L995.78,370.61 L997.17,371.04 L998.03,373.10 L999.04,380.81 L999.84,386.80 L1000.83,396.31 L1001.67,403.82 L1002.55,408.91 L1003.50,411.81 L1004.73,408.00 L1005.96,400.39 L1006.40,391.31 L1007.42,381.15 L1008.44,372.59 L1009.77,372.09 L1010.88,369.41 L1011.75,364.51 L1012.41,355.14 L1013.84,345.92 L1014.16,339.20 L1015.37,331.10 L1016.57,329.63 L1017.43,328.69 L1018.33,331.36 L1019.69,334.95 L1020.34,341.58 L1020.85,347.71 L1021.43,356.03 L1022.83,361.53 L1023.60,370.47 L1025.07,380.51 L1025.73,385.19 L1026.55,393.41 L1027.40,397.93 L1028.29,401.92 L1029.27,407.04 L1030.12,405.50 L1030.91,406.00 L1032.41,402.76 L1032.91,398.58 L1033.73,390.74 L1034.55,381.27 L1035.46,373.85 L1036.94,365.01 L1037.54,355.75 L1038.62,346.14 L1039.72,339.86 L1040.07,330.46 L1041.12,325.71 L1041.99,323.61 L1043.39,323.56 L1043.90,323.25 L1045.20,326.48 L1045.84,331.39 L1047.36,336.07 L1047.32,343.54 L1048.75,351.00 L1049.47,362.09 L1050.48,370.79 L1051.51,378.90 L1052.62,384.82 L1053.32,392.70 L1054.10,397.62 L1054.95,403.08 L1055.59,406.03 L1057.20,406.23 L1058.13,404.25 L1058.32,403.11 L1059.44,396.16 L1060.53,391.35 L1061.75,383.71 L1062.55,374.05 L1063.53,363.32 L1064.21,354.39 L1065.62,345.75 L1065.75,341.81 L1066.88,336.64 L1068.55,331.05 L1069.24,329.61 L1070.14,331.89 L1071.32,335.55 L1071.46,338.68 L1073.42,342.58 L1073.34,347.37 L1074.89,356.21 L1075.87,362.57 L1076.83,368.80 L1077.48,376.83 L1078.22,385.77 L1079.44,389.09 L1080.39,396.17 L1081.42,398.64 L1082.19,400.59 L1083.32,399.47 L1084.22,398.81 L1085.33,395.64 L1086.33,391.11 L1087.42,386.36 L1088.25,379.84 L1088.96,373.05 L1090.15,363.94 L1090.90,355.06 L1092.08,347.00 L1092.92,340.91 L1093.96,336.88 L1094.90,334.68 L1096.13,335.16 L1096.69,334.82 L1097.31,337.69 L1098.33,342.30 L1099.89,346.47 L1100.66,351.89 L1100.64,359.67 L1101.72,370.55 L1102.58,379.56 L1104.09,386.36 L1104.82,391.92 L1105.83,396.78 L1107.09,402.19 L1107.48,405.45 L1109.02,404.80 L1109.58,401.93 L1110.66,402.29 L1111.78,396.99 L1112.17,393.14 L1113.66,387.14 L1114.45,380.41 L1115.10,372.79 L1115.66,366.03 L1117.49,357.29 L1118.09,351.65 L1119.09,342.93 L1119.72,340.64 L1120.63,335.89 L1122.09,335.72 L1122.83,334.37 L1123.40,335.73 L1124.87,334.94 L1126.28,336.95 L1126.64,343.12 L1127.03,349.21 L1128.30,355.20 L1128.82,362.82 L1130.37,369.89 L1131.19,374.91 L1132.09,381.66 L1133.16,386.24 L1134.33,389.06 L1134.99,390.83 L1135.98,390.62 L1136.87,391.82 L1137.51,389.28 L1138.51,386.19 L1139.46,381.36 L1140.43,375.65 L1141.24,370.56 L1142.09,363.75 L1143.12,359.28 L1144.16,354.74 L1145.09,347.94 L1146.26,344.75 L1146.75,342.88 L1147.78,339.74 L1148.41,339.67 L1149.73,340.47 L1151.16,344.04 L1151.42,349.26 L1152.57,354.07 L1153.52,361.68 L1154.01,370.06 L1155.31,376.07 L1156.12,383.65 L1156.90,391.02 L1157.50,396.24 L1158.88,399.26 L1159.69,401.00 L1160.87,398.12 L1161.47,397.02 L1162.81,395.02 L1163.77,391.26 L1164.47,383.75 L1165.56,375.75 L1166.33,370.39 L1167.25,363.20 L1168.67,357.01 L1169.01,350.98 L1170.14,345.95 L1170.99,340.41 L1172.56,338.99 L1172.97,335.15 L1173.78,334.50 L1174.77,336.91 L1175.07,338.20 L1176.69,341.04 L1177.27,345.76 L1178.33,353.94 L1179.40,359.63 L1180.16,368.99 L1180.91,374.50 L1182.49,379.78 L1183.02,386.73 L1184.03,389.60 L1185.51,390.39 L1185.84,394.59 L1186.28,394.75 L1187.89,392.32 L1188.47,390.24 L1189.51,387.63 L1190.12,383.37 L1190.99,376.93 L1192.08,370.91 L1192.94,367.09 L1194.08,360.76 L1194.52,354.08 L1195.98,350.18 L1196.40,346.96 L1197.50,343.10 L1198.22,340.09 L1199.47,338.44 L1200.37,340.25 L1201.35,341.60 L1202.19,345.75 L1203.67,352.45 L1204.60,357.75 L1204.96,362.93 L1206.04,369.89 L1206.94,374.94 L1207.97,380.47 L1208.48,385.43 L1209.90,388.37 L1210.78,392.98 L1211.66,393.53 L1212.33,392.59 L1213.25,391.88 L1214.58,388.57 L1215.07,382.61 L1216.54,377.75 L1217.34,375.06 L1218.42,368.29 L1219.29,363.68 L1220.35,358.15 L1221.41,352.12 L1222.47,347.98 L1222.74,343.23 L1223.79,340.73 L1224.90,337.18 L1225.54,336.13 L1226.22,339.30 L1227.34,339.99 L1228.18,345.38 L1229.27,349.69 L1229.88,355.73 L1231.31,364.59 L1232.29,371.11 L1233.00,377.16 L1234.13,383.72 L1234.23,388.59 L1235.55,392.49 L1236.67,394.76 L1237.69,397.06 L1238.58,394.47 L1239.25,394.44 L1240.10,390.53 L1241.10,388.05 L1242.47,385.03 L1243.48,379.44 L1244.01,373.69 L1245.41,367.32 L1245.84,362.29 L1246.81,357.44 L1247.70,350.87 L1248.65,347.45 L1249.55,345.20 L1250.68,344.64 L1251.63,342.74 L1252.29,342.49 L1253.40,343.60 L1254.37,345.15 L1255.56,348.28 L1256.41,354.50 L1257.17,360.50 L1258.12,366.66 L1258.68,372.81 L1259.51,381.12 L1260.51,385.15 L1261.69,388.02 L1262.47,390.67 L1263.28,390.76 L1264.41,392.55 L1265.62,391.28 L1266.60,387.82 L1267.59,384.99 L1268.29,382.23 L1268.83,377.58 L1269.69,372.39 L1271.24,368.34 L1272.32,363.92 L1273.18,358.14 L1273.42,355.78 L1274.73,353.82 L1275.48,349.10 L1276.84,349.32 L1277.54,348.29 L1278.59,348.32 L1279.83,350.19 L1280.13,351.88 L1280.66,354.24 L1281.90,357.95 L1283.33,362.51 L1284.02,368.14 L1285.03,372.41 L1285.74,377.30 L1286.81,380.79 L1288.27,384.31 L1288.62,386.74 L1289.41,389.90 L1290.37,389.92 L1291.42,390.85 L1292.12,390.42 L1293.11,388.53 L1293.97,384.48 L1294.78,382.39 L1295.86,377.64 L1297.08,372.60 L1297.73,368.43 L1298.58,365.04 L1299.39,358.67 L1300.64,354.81 L1301.48,349.85 L1302.38,348.30 L1303.49,346.12 L1304.37,346.23 L1305.05,345.40 L1306.60,349.65 L1306.87,352.92 L1307.95,352.44 L1308.98,356.57 L1309.83,361.14 L1310.52,368.54 L1311.54,371.03 L1312.25,377.71 L1313.65,379.58 L1314.30,382.55 L1315.42,383.60 L1316.28,386.89 L1317.17,386.34 L1318.22,387.32 L1318.96,386.50 L1319.90,384.23 L1321.07,379.94 L1321.78,375.94 L1322.73,372.34 L1323.34,366.40 L1323.95,363.46 L1325.13,358.48 L1326.75,354.08 L1327.06,351.86 L1328.09,349.29 L1329.24,345.13 L1330.06,346.77 L1330.74,346.93 L1331.55,348.98 L1332.60,350.92 L1333.81,355.35 L1335.12,356.40 L1335.42,363.36 L1336.78,367.57 L1337.27,373.73 L1338.50,379.97 L1339.62,382.32 L1340.09,387.86 L1341.16,389.92 L1342.01,390.32 L1343.09,389.48 L1344.60,388.83 L1345.17,388.58 L1346.00,387.28 L1347.17,383.26 L1347.16,381.36 L1348.59,374.41 L1349.60,371.53 L1350.56,366.53 L1351.18,359.56 L1352.55,357.43 L1352.93,353.67 L1354.38,351.38 L1354.98,349.18 L1355.71,346.86 L1356.99,345.98 L1357.73,346.91 L1358.65,348.61 L1359.64,350.60 L1360.71,352.18 L1361.51,356.76 L1362.22,360.32 L1363.51,364.16 L1364.24,369.70 L1365.61,375.14 L1366.65,379.35 L1367.20,380.45 L1368.11,382.62 L1369.18,385.65 L1370.00,385.58 L1371.23,384.39 L1372.10,382.10 L1372.88,379.05 L1373.64,374.99 L1374.80,374.21 L1375.81,368.07 L1376.18,364.83 L1377.66,360.91 L1378.53,357.80 L1378.76,355.12 L1380.56,356.77 L1381.19,353.68 L1381.93,351.84 L1383.25,347.37 L1383.90,344.34 L1384.70,338.38 L1385.85,338.36" stroke="#000" stroke-width="1.8" stroke-linejoin="round"/></g>
<g clip-path="url(#cle)" fill="none"><path d="M768.80,563.40 L804.50,563.40 L806.00,555.57 L807.50,498.15 L808.70,459.00 L808.33,456.12 L808.85,457.28 L809.36,460.73 L809.88,466.40 L810.40,474.16 L810.92,483.83 L811.44,495.20 L811.95,508.02 L812.47,521.99 L812.99,536.82 L813.51,552.16 L814.03,567.67 L814.55,583.01 L815.06,597.83 L815.58,611.81 L816.10,624.62 L816.62,635.99 L817.14,645.67 L817.66,653.42 L818.17,659.09 L818.69,662.54 L819.21,663.70 L819.72,663.02 L820.23,661.01 L820.74,657.68 L821.26,653.08 L821.77,647.29 L822.28,640.39 L822.79,632.47 L823.30,623.66 L823.81,614.08 L824.33,603.87 L824.84,593.18 L825.35,582.17 L825.86,571.00 L826.37,559.82 L826.88,548.81 L827.40,538.12 L827.91,527.91 L828.42,518.33 L828.93,509.52 L829.44,501.61 L829.95,494.70 L830.46,488.91 L830.98,484.32 L831.49,480.98 L832.00,478.97 L832.51,478.29 L833.03,478.94 L833.54,480.89 L834.06,484.09 L834.57,488.51 L835.09,494.07 L835.61,500.69 L836.12,508.25 L836.64,516.64 L837.15,525.74 L837.67,535.39 L838.19,545.44 L838.70,555.73 L839.22,566.11 L839.73,576.40 L840.25,586.45 L840.77,596.10 L841.28,605.19 L841.80,613.59 L842.31,621.15 L842.83,627.77 L843.35,633.33 L843.86,637.74 L844.38,640.95 L844.89,642.90 L845.41,643.55 L845.91,643.07 L846.42,641.63 L846.92,639.25 L847.42,635.96 L847.93,631.81 L848.43,626.84 L848.94,621.12 L849.44,614.71 L849.94,607.71 L850.45,600.19 L850.95,592.26 L851.46,584.01 L851.96,575.54 L852.46,566.96 L852.97,558.39 L853.47,549.92 L853.97,541.67 L854.48,533.74 L854.98,526.22 L855.49,519.22 L855.99,512.81 L856.49,507.09 L857.00,502.12 L857.50,497.97 L858.00,494.68 L858.51,492.30 L859.01,490.86 L859.52,490.38 L860.03,490.95 L860.55,492.66 L861.06,495.48 L861.58,499.36 L862.10,504.24 L862.61,510.05 L863.13,516.69 L863.64,524.06 L864.16,532.04 L864.68,540.51 L865.19,549.34 L865.71,558.38 L866.22,567.49 L866.74,576.53 L867.26,585.35 L867.77,593.83 L868.29,601.81 L868.80,609.18 L869.32,615.82 L869.83,621.63 L870.35,626.51 L870.87,630.39 L871.38,633.21 L871.90,634.91 L872.41,635.49 L872.93,634.98 L873.44,633.45 L873.95,630.94 L874.46,627.48 L874.97,623.11 L875.48,617.90 L876.00,611.93 L876.51,605.28 L877.02,598.05 L877.53,590.35 L878.04,582.29 L878.55,573.98 L879.06,565.55 L879.58,557.12 L880.09,548.82 L880.60,540.76 L881.11,533.06 L881.62,525.83 L882.13,519.18 L882.65,513.21 L883.16,508.00 L883.67,503.63 L884.18,500.17 L884.69,497.65 L885.20,496.13 L885.72,495.62 L886.23,496.16 L886.75,497.76 L887.26,500.39 L887.78,504.02 L888.30,508.59 L888.81,514.03 L889.33,520.25 L889.84,527.15 L890.36,534.62 L890.87,542.55 L891.39,550.81 L891.91,559.27 L892.42,567.80 L892.94,576.27 L893.45,584.53 L893.97,592.46 L894.49,599.93 L895.00,606.83 L895.52,613.05 L896.03,618.48 L896.55,623.05 L897.07,626.69 L897.58,629.32 L898.10,630.92 L898.61,631.46 L899.13,630.98 L899.64,629.56 L900.15,627.22 L900.66,624.00 L901.17,619.93 L901.68,615.08 L902.19,609.53 L902.71,603.34 L903.22,596.61 L903.73,589.44 L904.24,581.94 L904.75,574.21 L905.26,566.36 L905.78,558.51 L906.29,550.78 L906.80,543.28 L907.31,536.11 L907.82,529.38 L908.33,523.19 L908.85,517.64 L909.36,512.79 L909.87,508.72 L910.38,505.50 L910.89,503.16 L911.40,501.74 L911.91,501.27 L912.43,501.76 L912.95,503.23 L913.46,505.65 L913.98,508.99 L914.49,513.20 L915.01,518.20 L915.53,523.92 L916.04,530.26 L916.56,537.14 L917.07,544.43 L917.59,552.03 L918.11,559.82 L918.62,567.66 L919.14,575.45 L919.65,583.05 L920.17,590.34 L920.69,597.22 L921.20,603.56 L921.72,609.28 L922.23,614.28 L922.75,618.49 L923.26,621.83 L923.78,624.25 L924.30,625.72 L924.81,626.22 L925.33,625.69 L925.85,624.14 L926.37,621.58 L926.90,618.06 L927.42,613.64 L927.94,608.39 L928.46,602.40 L928.98,595.78 L929.50,588.64 L930.02,581.11 L930.54,573.30 L931.06,565.35 L931.58,557.41 L932.10,549.60 L932.62,542.06 L933.14,534.92 L933.66,528.30 L934.18,522.32 L934.70,517.07 L935.23,512.64 L935.75,509.12 L936.27,506.56 L936.79,505.01 L937.31,504.49 L937.82,504.89 L938.32,506.09 L938.83,508.08 L939.34,510.81 L939.85,514.27 L940.35,518.40 L940.86,523.14 L941.37,528.44 L941.88,534.22 L942.38,540.39 L942.89,546.89 L943.40,553.62 L943.91,560.49 L944.41,567.40 L944.92,574.27 L945.43,580.99 L945.94,587.49 L946.44,593.67 L946.95,599.44 L947.46,604.74 L947.97,609.48 L948.47,613.61 L948.98,617.07 L949.49,619.81 L950.00,621.79 L950.50,622.99 L951.01,623.39 L951.52,622.98 L952.03,621.75 L952.55,619.73 L953.06,616.93 L953.57,613.40 L954.08,609.20 L954.59,604.38 L955.10,599.02 L955.62,593.19 L956.13,586.97 L956.64,580.47 L957.15,573.77 L957.66,566.96 L958.17,560.16 L958.69,553.46 L959.20,546.95 L959.71,540.74 L960.22,534.91 L960.73,529.55 L961.24,524.73 L961.75,520.52 L962.27,517.00 L962.78,514.20 L963.29,512.18 L963.80,510.95 L964.31,510.54 L964.83,510.97 L965.34,512.25 L965.86,514.36 L966.38,517.27 L966.89,520.93 L967.41,525.28 L967.92,530.27 L968.44,535.79 L968.96,541.78 L969.47,548.13 L969.99,554.75 L970.50,561.53 L971.02,568.37 L971.54,575.15 L972.05,581.76 L972.57,588.12 L973.08,594.11 L973.60,599.63 L974.12,604.62 L974.63,608.97 L975.15,612.63 L975.66,615.54 L976.18,617.65 L976.69,618.93 L977.21,619.36 L977.72,618.97 L978.23,617.81 L978.75,615.89 L979.26,613.25 L979.77,609.91 L980.28,605.93 L980.79,601.37 L981.30,596.30 L981.82,590.78 L982.33,584.90 L982.84,578.74 L983.35,572.39 L983.86,565.96 L984.37,559.52 L984.88,553.18 L985.40,547.02 L985.91,541.14 L986.42,535.62 L986.93,530.54 L987.44,525.98 L987.95,522.01 L988.47,518.67 L988.98,516.02 L989.49,514.10 L990.00,512.94 L990.51,512.55 L991.03,512.96 L991.54,514.18 L992.06,516.19 L992.58,518.96 L993.09,522.44 L993.61,526.59 L994.12,531.33 L994.64,536.59 L995.16,542.29 L995.67,548.34 L996.19,554.64 L996.70,561.09 L997.22,567.60 L997.73,574.05 L998.25,580.35 L998.77,586.40 L999.28,592.10 L999.80,597.36 L1000.31,602.10 L1000.83,606.25 L1001.35,609.73 L1001.86,612.50 L1002.38,614.51 L1002.89,615.73 L1003.41,616.14 L1003.93,615.75 L1004.44,614.57 L1004.96,612.64 L1005.47,609.98 L1005.99,606.63 L1006.51,602.65 L1007.02,598.09 L1007.54,593.03 L1008.05,587.55 L1008.57,581.74 L1009.09,575.69 L1009.60,569.49 L1010.12,563.23 L1010.63,557.03 L1011.15,550.98 L1011.66,545.17 L1012.18,539.69 L1012.70,534.63 L1013.21,530.07 L1013.73,526.09 L1014.24,522.74 L1014.76,520.08 L1015.28,518.15 L1015.79,516.97 L1016.31,516.58 L1016.82,516.93 L1017.33,517.99 L1017.84,519.73 L1018.35,522.12 L1018.87,525.14 L1019.38,528.75 L1019.89,532.88 L1020.40,537.47 L1020.91,542.47 L1021.42,547.80 L1021.94,553.37 L1022.45,559.12 L1022.96,564.95 L1023.47,570.78 L1023.98,576.52 L1024.49,582.10 L1025.00,587.43 L1025.52,592.43 L1026.03,597.02 L1026.54,601.15 L1027.05,604.76 L1027.56,607.78 L1028.07,610.17 L1028.59,611.91 L1029.10,612.96 L1029.61,613.32 L1030.12,612.97 L1030.63,611.94 L1031.14,610.24 L1031.66,607.89 L1032.17,604.93 L1032.68,601.41 L1033.19,597.36 L1033.70,592.86 L1034.21,587.97 L1034.72,582.75 L1035.24,577.29 L1035.75,571.67 L1036.26,565.96 L1036.77,560.25 L1037.28,554.62 L1037.79,549.16 L1038.31,543.95 L1038.82,539.05 L1039.33,534.55 L1039.84,530.51 L1040.35,526.98 L1040.86,524.02 L1041.38,521.67 L1041.89,519.97 L1042.40,518.94 L1042.91,518.60 L1043.43,518.96 L1043.94,520.03 L1044.46,521.81 L1044.97,524.26 L1045.49,527.33 L1046.01,531.00 L1046.52,535.18 L1047.04,539.83 L1047.55,544.87 L1048.07,550.21 L1048.59,555.77 L1049.10,561.47 L1049.62,567.22 L1050.13,572.92 L1050.65,578.48 L1051.16,583.82 L1051.68,588.86 L1052.20,593.51 L1052.71,597.69 L1053.23,601.36 L1053.74,604.43 L1054.26,606.88 L1054.78,608.66 L1055.29,609.73 L1055.81,610.09 L1056.32,609.77 L1056.83,608.82 L1057.34,607.25 L1057.85,605.08 L1058.37,602.35 L1058.88,599.09 L1059.39,595.36 L1059.90,591.20 L1060.41,586.68 L1060.92,581.87 L1061.44,576.83 L1061.95,571.63 L1062.46,566.36 L1062.97,561.09 L1063.48,555.89 L1063.99,550.85 L1064.51,546.04 L1065.02,541.52 L1065.53,537.36 L1066.04,533.63 L1066.55,530.37 L1067.06,527.64 L1067.57,525.47 L1068.09,523.90 L1068.60,522.95 L1069.11,522.63 L1069.62,522.94 L1070.13,523.85 L1070.64,525.37 L1071.16,527.45 L1071.67,530.08 L1072.18,533.22 L1072.69,536.82 L1073.20,540.82 L1073.71,545.17 L1074.23,549.81 L1074.74,554.67 L1075.25,559.67 L1075.76,564.75 L1076.27,569.83 L1076.78,574.83 L1077.29,579.68 L1077.81,584.32 L1078.32,588.68 L1078.83,592.68 L1079.34,596.28 L1079.85,599.41 L1080.36,602.04 L1080.88,604.13 L1081.39,605.64 L1081.90,606.56 L1082.41,606.87 L1082.93,606.55 L1083.44,605.59 L1083.96,604.01 L1084.47,601.83 L1084.99,599.09 L1085.51,595.83 L1086.02,592.11 L1086.54,587.97 L1087.05,583.49 L1087.57,578.74 L1088.09,573.79 L1088.60,568.71 L1089.12,563.60 L1089.63,558.53 L1090.15,553.58 L1090.67,548.83 L1091.18,544.35 L1091.70,540.21 L1092.21,536.48 L1092.73,533.22 L1093.24,530.48 L1093.76,528.31 L1094.28,526.73 L1094.79,525.77 L1095.31,525.45 L1095.82,525.76 L1096.34,526.69 L1096.86,528.22 L1097.37,530.34 L1097.89,532.99 L1098.40,536.16 L1098.92,539.77 L1099.44,543.78 L1099.95,548.13 L1100.47,552.74 L1100.98,557.55 L1101.50,562.47 L1102.02,567.43 L1102.53,572.35 L1103.05,577.16 L1103.56,581.77 L1104.08,586.11 L1104.59,590.13 L1105.11,593.74 L1105.63,596.91 L1106.14,599.56 L1106.66,601.68 L1107.17,603.21 L1107.69,604.14 L1108.21,604.45 L1108.72,604.18 L1109.23,603.36 L1109.74,602.01 L1110.25,600.16 L1110.76,597.81 L1111.28,595.02 L1111.79,591.82 L1112.30,588.26 L1112.81,584.39 L1113.32,580.26 L1113.83,575.94 L1114.35,571.48 L1114.86,566.96 L1115.37,562.45 L1115.88,557.99 L1116.39,553.67 L1116.90,549.54 L1117.41,545.67 L1117.93,542.11 L1118.44,538.91 L1118.95,536.12 L1119.46,533.77 L1119.97,531.92 L1120.48,530.57 L1121.00,529.75 L1121.51,529.48 L1122.02,529.74 L1122.53,530.53 L1123.04,531.84 L1123.55,533.64 L1124.07,535.90 L1124.58,538.60 L1125.09,541.70 L1125.60,545.15 L1126.11,548.90 L1126.62,552.89 L1127.13,557.07 L1127.65,561.38 L1128.16,565.76 L1128.67,570.13 L1129.18,574.44 L1129.69,578.62 L1130.20,582.61 L1130.72,586.36 L1131.23,589.81 L1131.74,592.91 L1132.25,595.61 L1132.76,597.88 L1133.27,599.67 L1133.79,600.98 L1134.30,601.77 L1134.81,602.03 L1135.32,601.75 L1135.84,600.93 L1136.36,599.57 L1136.87,597.69 L1137.39,595.33 L1137.90,592.53 L1138.42,589.32 L1138.94,585.75 L1139.45,581.90 L1139.97,577.80 L1140.48,573.54 L1141.00,569.17 L1141.52,564.76 L1142.03,560.39 L1142.55,556.13 L1143.06,552.03 L1143.58,548.18 L1144.10,544.61 L1144.61,541.40 L1145.13,538.60 L1145.64,536.24 L1146.16,534.36 L1146.67,533.00 L1147.19,532.17 L1147.71,531.90 L1148.22,532.16 L1148.74,532.96 L1149.25,534.26 L1149.77,536.06 L1150.29,538.33 L1150.80,541.02 L1151.32,544.10 L1151.83,547.52 L1152.35,551.22 L1152.87,555.15 L1153.38,559.25 L1153.90,563.44 L1154.41,567.67 L1154.93,571.86 L1155.45,575.95 L1155.96,579.88 L1156.48,583.59 L1156.99,587.01 L1157.51,590.09 L1158.02,592.78 L1158.54,595.05 L1159.06,596.85 L1159.57,598.15 L1160.09,598.94 L1160.60,599.21 L1161.12,598.97 L1161.63,598.27 L1162.14,597.11 L1162.65,595.52 L1163.16,593.50 L1163.67,591.10 L1164.19,588.35 L1164.70,585.28 L1165.21,581.95 L1165.72,578.40 L1166.23,574.68 L1166.74,570.85 L1167.26,566.96 L1167.77,563.08 L1168.28,559.25 L1168.79,555.53 L1169.30,551.98 L1169.81,548.65 L1170.32,545.58 L1170.84,542.83 L1171.35,540.43 L1171.86,538.41 L1172.37,536.82 L1172.88,535.66 L1173.39,534.95 L1173.91,534.72 L1174.42,534.96 L1174.94,535.69 L1175.45,536.89 L1175.97,538.53 L1176.49,540.61 L1177.00,543.08 L1177.52,545.90 L1178.03,549.03 L1178.55,552.43 L1179.06,556.03 L1179.58,559.78 L1180.10,563.62 L1180.61,567.49 L1181.13,571.33 L1181.64,575.08 L1182.16,578.68 L1182.68,582.08 L1183.19,585.21 L1183.71,588.03 L1184.22,590.50 L1184.74,592.57 L1185.26,594.22 L1185.77,595.42 L1186.29,596.15 L1186.80,596.39 L1187.32,596.17 L1187.83,595.53 L1188.34,594.48 L1188.85,593.02 L1189.36,591.18 L1189.87,588.99 L1190.38,586.48 L1190.90,583.68 L1191.41,580.64 L1191.92,577.40 L1192.43,574.01 L1192.94,570.51 L1193.45,566.96 L1193.97,563.42 L1194.48,559.92 L1194.99,556.53 L1195.50,553.29 L1196.01,550.25 L1196.52,547.45 L1197.04,544.94 L1197.55,542.75 L1198.06,540.91 L1198.57,539.45 L1199.08,538.40 L1199.59,537.76 L1200.10,537.54 L1200.62,537.76 L1201.14,538.43 L1201.65,539.52 L1202.17,541.03 L1202.68,542.93 L1203.20,545.19 L1203.72,547.77 L1204.23,550.64 L1204.75,553.74 L1205.26,557.04 L1205.78,560.47 L1206.30,563.98 L1206.81,567.53 L1207.33,571.04 L1207.84,574.47 L1208.36,577.77 L1208.88,580.87 L1209.39,583.74 L1209.91,586.32 L1210.42,588.58 L1210.94,590.48 L1211.46,591.99 L1211.97,593.08 L1212.49,593.75 L1213.00,593.97 L1213.51,593.77 L1214.03,593.19 L1214.54,592.22 L1215.05,590.88 L1215.56,589.19 L1216.07,587.18 L1216.58,584.87 L1217.10,582.31 L1217.61,579.51 L1218.12,576.54 L1218.63,573.43 L1219.14,570.22 L1219.65,566.96 L1220.16,563.71 L1220.68,560.50 L1221.19,557.39 L1221.70,554.41 L1222.21,551.62 L1222.72,549.06 L1223.23,546.75 L1223.75,544.74 L1224.26,543.05 L1224.77,541.71 L1225.28,540.74 L1225.79,540.16 L1226.30,539.96 L1226.82,540.17 L1227.34,540.80 L1227.85,541.83 L1228.37,543.25 L1228.88,545.04 L1229.40,547.17 L1229.92,549.61 L1230.43,552.31 L1230.95,555.24 L1231.46,558.34 L1231.98,561.58 L1232.49,564.89 L1233.01,568.23 L1233.53,571.55 L1234.04,574.78 L1234.56,577.89 L1235.07,580.82 L1235.59,583.52 L1236.11,585.95 L1236.62,588.08 L1237.14,589.87 L1237.65,591.30 L1238.17,592.33 L1238.69,592.95 L1239.20,593.16 L1239.71,592.98 L1240.23,592.43 L1240.74,591.53 L1241.25,590.28 L1241.76,588.70 L1242.27,586.83 L1242.78,584.68 L1243.29,582.28 L1243.81,579.68 L1244.32,576.91 L1244.83,574.00 L1245.34,571.01 L1245.85,567.97 L1246.36,564.94 L1246.88,561.94 L1247.39,559.04 L1247.90,556.27 L1248.41,553.66 L1248.92,551.27 L1249.43,549.12 L1249.95,547.24 L1250.46,545.67 L1250.97,544.42 L1251.48,543.51 L1251.99,542.96 L1252.50,542.78 L1253.02,542.98 L1253.53,543.55 L1254.05,544.51 L1254.57,545.82 L1255.08,547.48 L1255.60,549.44 L1256.11,551.70 L1256.63,554.19 L1257.15,556.90 L1257.66,559.77 L1258.18,562.76 L1258.69,565.82 L1259.21,568.91 L1259.73,571.98 L1260.24,574.97 L1260.76,577.84 L1261.27,580.54 L1261.79,583.04 L1262.31,585.29 L1262.82,587.26 L1263.34,588.91 L1263.85,590.23 L1264.37,591.18 L1264.89,591.76 L1265.40,591.95 L1265.91,591.78 L1266.42,591.26 L1266.94,590.40 L1267.45,589.21 L1267.96,587.71 L1268.47,585.92 L1268.98,583.88 L1269.49,581.60 L1270.01,579.12 L1270.52,576.48 L1271.03,573.71 L1271.54,570.86 L1272.05,567.97 L1272.56,565.08 L1273.07,562.23 L1273.59,559.47 L1274.10,556.83 L1274.61,554.35 L1275.12,552.07 L1275.63,550.02 L1276.14,548.24 L1276.66,546.74 L1277.17,545.55 L1277.68,544.69 L1278.19,544.17 L1278.70,543.99 L1279.22,544.17 L1279.73,544.72 L1280.25,545.62 L1280.77,546.86 L1281.28,548.42 L1281.80,550.27 L1282.31,552.39 L1282.83,554.75 L1283.35,557.30 L1283.86,560.00 L1284.38,562.82 L1284.89,565.71 L1285.41,568.62 L1285.93,571.51 L1286.44,574.33 L1286.96,577.03 L1287.47,579.58 L1287.99,581.94 L1288.50,584.06 L1289.02,585.92 L1289.54,587.48 L1290.05,588.72 L1290.57,589.61 L1291.08,590.16 L1291.60,590.34 L1292.11,590.18 L1292.62,589.69 L1293.13,588.89 L1293.65,587.78 L1294.16,586.38 L1294.67,584.72 L1295.18,582.81 L1295.69,580.68 L1296.20,578.37 L1296.72,575.91 L1297.23,573.33 L1297.74,570.67 L1298.25,567.97 L1298.76,565.28 L1299.27,562.62 L1299.79,560.04 L1300.30,557.58 L1300.81,555.26 L1301.32,553.14 L1301.83,551.23 L1302.34,549.56 L1302.85,548.16 L1303.37,547.06 L1303.88,546.25 L1304.39,545.77 L1304.90,545.60 L1305.42,545.77 L1305.93,546.27 L1306.45,547.10 L1306.96,548.24 L1307.48,549.68 L1308.00,551.39 L1308.51,553.35 L1309.03,555.52 L1309.54,557.87 L1310.06,560.36 L1310.58,562.96 L1311.09,565.62 L1311.61,568.31 L1312.12,570.97 L1312.64,573.57 L1313.16,576.06 L1313.67,578.41 L1314.19,580.58 L1314.70,582.54 L1315.22,584.25 L1315.74,585.68 L1316.25,586.83 L1316.77,587.66 L1317.28,588.16 L1317.80,588.33 L1318.31,588.18 L1318.82,587.74 L1319.33,587.02 L1319.85,586.02 L1320.36,584.76 L1320.87,583.26 L1321.38,581.54 L1321.89,579.62 L1322.40,577.54 L1322.92,575.32 L1323.43,573.00 L1323.94,570.60 L1324.45,568.17 L1324.96,565.74 L1325.47,563.35 L1325.98,561.03 L1326.50,558.81 L1327.01,556.73 L1327.52,554.81 L1328.03,553.09 L1328.54,551.59 L1329.05,550.33 L1329.57,549.33 L1330.08,548.61 L1330.59,548.17 L1331.10,548.02 L1331.62,548.17 L1332.13,548.62 L1332.65,549.37 L1333.16,550.39 L1333.68,551.68 L1334.20,553.21 L1334.71,554.96 L1335.23,556.91 L1335.74,559.01 L1336.26,561.25 L1336.78,563.58 L1337.29,565.96 L1337.81,568.37 L1338.32,570.75 L1338.84,573.08 L1339.36,575.32 L1339.87,577.43 L1340.39,579.37 L1340.90,581.12 L1341.42,582.66 L1341.93,583.94 L1342.45,584.97 L1342.97,585.71 L1343.48,586.16 L1344.00,586.31 L1344.51,586.18 L1345.02,585.78 L1345.53,585.12 L1346.04,584.21 L1346.56,583.07 L1347.07,581.70 L1347.58,580.13 L1348.09,578.39 L1348.60,576.50 L1349.11,574.48 L1349.63,572.36 L1350.14,570.18 L1350.65,567.97 L1351.16,565.76 L1351.67,563.58 L1352.18,561.47 L1352.70,559.45 L1353.21,557.55 L1353.72,555.81 L1354.23,554.25 L1354.74,552.88 L1355.25,551.73 L1355.76,550.82 L1356.28,550.17 L1356.79,549.77 L1357.30,549.63 L1357.82,549.77 L1358.33,550.19 L1358.85,550.88 L1359.36,551.83 L1359.88,553.02 L1360.40,554.44 L1360.91,556.06 L1361.43,557.87 L1361.94,559.82 L1362.46,561.89 L1362.97,564.04 L1363.49,566.25 L1364.01,568.48 L1364.52,570.69 L1365.04,572.85 L1365.55,574.92 L1366.07,576.87 L1366.59,578.67 L1367.10,580.30 L1367.62,581.72 L1368.13,582.91 L1368.65,583.86 L1369.17,584.55 L1369.68,584.96 L1370.20,585.10 L1370.71,584.96 L1371.22,584.53 L1371.74,583.83 L1372.25,582.86 L1372.76,581.66 L1373.28,580.23 L1373.79,578.62 L1374.30,576.86 L1374.81,574.97 L1375.33,573.00 L1375.84,571.00 L1376.35,568.99 L1376.87,567.02 L1377.38,565.14 L1377.89,563.37 L1378.41,561.76 L1378.92,560.33 L1379.43,559.13 L1379.94,558.16 L1380.46,557.46 L1380.97,557.03 L1381.48,556.89" stroke="#008000" stroke-width="1.7" stroke-linejoin="round"/></g>
<g stroke="#000" stroke-width="1.4" stroke-dasharray="6,4" fill="none"><line x1="964.8" y1="274" x2="964.8" y2="462"/><line x1="964.8" y1="463" x2="964.8" y2="512"/><line x1="1357.4" y1="274" x2="1357.4" y2="462"/><line x1="1357.4" y1="463" x2="1357.4" y2="550"/></g>
<g stroke="#000" stroke-width="3.2" fill="none" stroke-linecap="butt"><rect x="763.3" y="6.2" width="617.9000000000001" height="661.0999999999999"/><line x1="763.3" y1="268.4" x2="1381.2" y2="268.4"/><line x1="763.3" y1="462.2" x2="1381.2" y2="462.2"/><line x1="809.00" y1="6.20" x2="809.00" y2="15.20"/><line x1="809.00" y1="268.40" x2="809.00" y2="259.40"/><line x1="1037.80" y1="6.20" x2="1037.80" y2="15.20"/><line x1="1037.80" y1="268.40" x2="1037.80" y2="259.40"/><line x1="1266.60" y1="6.20" x2="1266.60" y2="15.20"/><line x1="1266.60" y1="268.40" x2="1266.60" y2="259.40"/><line x1="923.40" y1="6.20" x2="923.40" y2="11.70"/><line x1="923.40" y1="268.40" x2="923.40" y2="262.90"/><line x1="1152.20" y1="6.20" x2="1152.20" y2="11.70"/><line x1="1152.20" y1="268.40" x2="1152.20" y2="262.90"/><line x1="1381.00" y1="6.20" x2="1381.00" y2="11.70"/><line x1="1381.00" y1="268.40" x2="1381.00" y2="262.90"/><line x1="809.00" y1="268.40" x2="809.00" y2="277.40"/><line x1="809.00" y1="462.20" x2="809.00" y2="453.20"/><line x1="1037.80" y1="268.40" x2="1037.80" y2="277.40"/><line x1="1037.80" y1="462.20" x2="1037.80" y2="453.20"/><line x1="1266.60" y1="268.40" x2="1266.60" y2="277.40"/><line x1="1266.60" y1="462.20" x2="1266.60" y2="453.20"/><line x1="923.40" y1="268.40" x2="923.40" y2="273.90"/><line x1="923.40" y1="462.20" x2="923.40" y2="456.70"/><line x1="1152.20" y1="268.40" x2="1152.20" y2="273.90"/><line x1="1152.20" y1="462.20" x2="1152.20" y2="456.70"/><line x1="1381.00" y1="268.40" x2="1381.00" y2="273.90"/><line x1="1381.00" y1="462.20" x2="1381.00" y2="456.70"/><line x1="809.00" y1="462.20" x2="809.00" y2="471.20"/><line x1="809.00" y1="667.30" x2="809.00" y2="658.30"/><line x1="1037.80" y1="462.20" x2="1037.80" y2="471.20"/><line x1="1037.80" y1="667.30" x2="1037.80" y2="658.30"/><line x1="1266.60" y1="462.20" x2="1266.60" y2="471.20"/><line x1="1266.60" y1="667.30" x2="1266.60" y2="658.30"/><line x1="923.40" y1="462.20" x2="923.40" y2="467.70"/><line x1="923.40" y1="667.30" x2="923.40" y2="661.80"/><line x1="1152.20" y1="462.20" x2="1152.20" y2="467.70"/><line x1="1152.20" y1="667.30" x2="1152.20" y2="661.80"/><line x1="1381.00" y1="462.20" x2="1381.00" y2="467.70"/><line x1="1381.00" y1="667.30" x2="1381.00" y2="661.80"/><line x1="763.30" y1="191.70" x2="772.30" y2="191.70"/><line x1="1381.20" y1="191.70" x2="1372.20" y2="191.70"/><line x1="763.30" y1="104.10" x2="772.30" y2="104.10"/><line x1="1381.20" y1="104.10" x2="1372.20" y2="104.10"/><line x1="763.30" y1="16.50" x2="772.30" y2="16.50"/><line x1="1381.20" y1="16.50" x2="1372.20" y2="16.50"/><line x1="763.30" y1="235.50" x2="768.80" y2="235.50"/><line x1="1381.20" y1="235.50" x2="1375.70" y2="235.50"/><line x1="763.30" y1="147.90" x2="768.80" y2="147.90"/><line x1="1381.20" y1="147.90" x2="1375.70" y2="147.90"/><line x1="763.30" y1="60.30" x2="768.80" y2="60.30"/><line x1="1381.20" y1="60.30" x2="1375.70" y2="60.30"/><line x1="763.30" y1="416.60" x2="772.30" y2="416.60"/><line x1="1381.20" y1="416.60" x2="1372.20" y2="416.60"/><line x1="763.30" y1="365.60" x2="772.30" y2="365.60"/><line x1="1381.20" y1="365.60" x2="1372.20" y2="365.60"/><line x1="763.30" y1="314.60" x2="772.30" y2="314.60"/><line x1="1381.20" y1="314.60" x2="1372.20" y2="314.60"/><line x1="763.30" y1="442.10" x2="768.80" y2="442.10"/><line x1="1381.20" y1="442.10" x2="1375.70" y2="442.10"/><line x1="763.30" y1="391.10" x2="768.80" y2="391.10"/><line x1="1381.20" y1="391.10" x2="1375.70" y2="391.10"/><line x1="763.30" y1="340.10" x2="768.80" y2="340.10"/><line x1="1381.20" y1="340.10" x2="1375.70" y2="340.10"/><line x1="763.30" y1="289.10" x2="768.80" y2="289.10"/><line x1="1381.20" y1="289.10" x2="1375.70" y2="289.10"/><line x1="763.30" y1="615.60" x2="772.30" y2="615.60"/><line x1="1381.20" y1="615.60" x2="1372.20" y2="615.60"/><line x1="763.30" y1="563.40" x2="772.30" y2="563.40"/><line x1="1381.20" y1="563.40" x2="1372.20" y2="563.40"/><line x1="763.30" y1="511.20" x2="772.30" y2="511.20"/><line x1="1381.20" y1="511.20" x2="1372.20" y2="511.20"/><line x1="763.30" y1="641.70" x2="768.80" y2="641.70"/><line x1="1381.20" y1="641.70" x2="1375.70" y2="641.70"/><line x1="763.30" y1="589.50" x2="768.80" y2="589.50"/><line x1="1381.20" y1="589.50" x2="1375.70" y2="589.50"/><line x1="763.30" y1="537.30" x2="768.80" y2="537.30"/><line x1="1381.20" y1="537.30" x2="1375.70" y2="537.30"/><line x1="763.30" y1="485.10" x2="768.80" y2="485.10"/><line x1="1381.20" y1="485.10" x2="1375.70" y2="485.10"/></g>
<g font-family="'Liberation Sans', Arial, sans-serif" font-size="24.5" fill="#000"><text x="755.0" y="200.3" text-anchor="end">0</text><text x="755.0" y="112.7" text-anchor="end">10</text><text x="755.0" y="25.1" text-anchor="end">20</text><text x="755.0" y="323.2" text-anchor="end">0.1</text><text x="755.0" y="374.2" text-anchor="end">0.0</text><text x="755.0" y="425.2" text-anchor="end">-0.1</text><text x="755.0" y="519.8" text-anchor="end">20</text><text x="755.0" y="572.0" text-anchor="end">0</text><text x="755.0" y="624.2" text-anchor="end">-20</text><text x="809.0" y="692.8" text-anchor="middle">0</text><text x="1037.8" y="692.8" text-anchor="middle">1</text><text x="1266.6" y="692.8" text-anchor="middle">2</text></g>
<g font-family="'Liberation Sans', Arial, sans-serif" font-size="24" fill="#000"><text x="1021.7" y="723.7">t [ns]</text><text transform="translate(715.7,143) rotate(-90)">I [μA]</text><text transform="translate(707.3,634.4) rotate(-90)">TRFR [mrad]</text><text transform="translate(698.9,407.7) rotate(-90)">I<tspan font-size="17.4" dy="13.4">spin</tspan><tspan dy="-13.4">[μA]</tspan></text></g>
<g font-family="'Liberation Sans', Arial, sans-serif" fill="#000"><text x="1289.9" y="45.8" font-size="27.2">[110]</text><text x="1197.4" y="236.1" font-size="26">B</text><text x="1215" y="243.8" font-size="14.5">x</text><text x="1235.8" y="236.1" font-size="26">= 1000 mT</text></g>
<g stroke-width="3"><line x1="1169.7" y1="46.4" x2="1195.2" y2="46.4" stroke="#0000ff"/><line x1="1169.7" y1="88.7" x2="1195.2" y2="88.7" stroke="#ff0000"/></g>
<g fill="#000" font-family="'Liberation Sans', Arial, sans-serif"><text font-size="31.5" transform="translate(1202.3,56.3) scale(1.2,1)">σ</text><text font-size="31.5" transform="translate(1202.3,97.5) scale(1.2,1)">σ</text></g><g fill="#000" font-family="'Liberation Serif', serif" font-size="30"><text x="1223.9" y="40.1">−</text><text x="1223.9" y="80.6">+</text></g>
<defs><clipPath id="clg"><rect x="1517.8" y="250.4" width="474.0" height="223.49999999999997"/></clipPath><clipPath id="clh"><rect x="1517.8" y="473.9" width="474.0" height="193.20000000000005"/></clipPath></defs>
<g clip-path="url(#clg)" fill="none"><line x1="1517.8" y1="362.80" x2="1991.8" y2="362.80" stroke="#000" stroke-width="1.6"/><line x1="1547.40" y1="250.4" x2="1547.40" y2="473.9" stroke="#000" stroke-width="1.6"/><path d="M1517.92,352.38 L1527.04,360.52 L1535.18,375.18 L1541.69,313.29 L1547.23,487.56 L1553.09,487.56 L1557.00,440.33 L1564.50,428.93 L1571.66,434.46 L1578.50,432.18 L1585.67,425.67 L1593.81,419.80 L1601.30,380.07 L1608.47,360.52 L1616.61,331.21 L1624.10,306.78 L1631.27,300.26 L1637.79,286.58 L1644.95,286.58 L1652.44,284.95 L1659.61,289.51 L1667.10,332.83 L1674.59,337.72 L1681.76,354.01 L1689.90,397.98 L1696.42,399.61 L1705.21,409.38 L1712.70,392.12 L1719.87,393.09 L1727.36,393.09 L1734.53,360.52 L1742.02,350.75 L1749.19,334.46 L1756.68,323.06 L1763.84,319.80 L1771.34,304.17 L1778.50,304.50 L1785.99,305.15 L1793.49,326.32 L1800.65,331.21 L1807.82,354.66 L1816.29,388.21 L1823.45,383.32 L1830.62,385.60 L1838.11,390.81 L1845.28,397.33 L1852.77,390.81 L1860.91,376.81 L1868.08,358.89 L1875.57,354.01 L1882.74,329.58 L1890.23,319.80 L1897.72,321.43 L1904.89,325.34 L1912.05,331.21 L1919.54,336.74 L1927.69,341.63 L1934.85,354.01 L1942.35,380.72 L1949.51,373.55 L1957.00,383.32 L1964.50,394.72 L1971.66,388.21 L1978.83,391.47 L1986.32,386.58 L1994.46,371.92" stroke="#000" stroke-width="1.6" stroke-linejoin="round"/><path d="M1547.56,345.86 C1548.48,349.93 1550.81,361.88 1553.09,370.29 C1555.37,378.71 1558.52,388.21 1561.24,396.35 C1563.95,404.50 1566.67,414.00 1569.38,419.15 C1572.10,424.31 1574.81,426.48 1577.52,427.30 C1580.24,428.11 1582.68,427.57 1585.67,424.04 C1588.65,420.51 1591.64,416.17 1595.44,406.12 C1599.24,396.08 1604.67,376.26 1608.47,363.78 C1612.27,351.29 1614.98,341.79 1618.24,331.21 C1621.50,320.62 1624.76,308.40 1628.01,300.26 C1631.27,292.12 1635.07,285.77 1637.79,282.35 C1640.50,278.93 1641.86,279.20 1644.30,279.74 C1646.74,280.28 1649.19,280.83 1652.44,285.60 C1655.70,290.38 1659.50,296.46 1663.84,308.40 C1668.19,320.35 1673.62,343.15 1678.50,357.26 C1683.39,371.38 1688.55,384.14 1693.16,393.09 C1697.77,402.05 1703.20,408.19 1706.19,411.01 C1709.17,413.83 1708.63,411.93 1711.07,410.03 C1713.52,408.13 1716.78,406.78 1720.85,399.61 C1724.92,392.44 1730.89,377.89 1735.50,367.04 C1740.12,356.18 1744.19,343.96 1748.53,334.46 C1752.88,324.96 1757.49,315.19 1761.56,310.03 C1765.64,304.88 1769.16,303.52 1772.96,303.52 C1776.76,303.52 1780.56,305.96 1784.36,310.03 C1788.17,314.10 1791.69,319.26 1795.77,327.95 C1799.84,336.63 1804.72,352.92 1808.79,362.15 C1812.87,371.38 1816.67,377.62 1820.20,383.32 C1823.72,389.02 1826.71,393.64 1829.97,396.35 C1833.22,399.07 1836.48,399.88 1839.74,399.61 C1843.00,399.34 1845.71,398.52 1849.51,394.72 C1853.31,390.92 1857.65,384.95 1862.54,376.81 C1867.43,368.66 1873.94,354.28 1878.83,345.86 C1883.71,337.45 1887.51,330.66 1891.86,326.32 C1896.20,321.98 1901.09,320.62 1904.89,319.80 C1908.69,318.99 1910.86,318.45 1914.66,321.43 C1918.46,324.42 1923.89,331.75 1927.69,337.72 C1931.49,343.69 1933.66,350.75 1937.46,357.26 C1941.26,363.78 1945.60,371.27 1950.49,376.81 C1955.37,382.35 1961.35,389.40 1966.78,390.49 C1972.20,391.57 1978.45,386.69 1983.06,383.32 C1987.68,379.96 1992.56,372.46 1994.46,370.29" stroke="#ff0000" stroke-width="2"/></g>
<g clip-path="url(#clh)" fill="none"><line x1="1547.40" y1="473.9" x2="1547.40" y2="667.1" stroke="#000" stroke-width="1.6"/><path d="M1517.25,568.98 L1524.01,569.73 L1535.29,570.86 L1544.68,571.24 L1546.56,553.95 L1548.44,467.52 L1554.08,467.52 L1569.11,508.85 L1584.14,557.71 L1599.17,610.32 L1599.85,612.70 L1600.53,615.10 L1601.20,617.51 L1601.88,619.90 L1602.56,622.26 L1603.23,624.59 L1603.91,626.85 L1604.58,629.04 L1605.26,631.15 L1605.94,633.15 L1606.61,635.03 L1607.29,636.78 L1607.97,638.38 L1608.64,639.82 L1609.32,641.08 L1610.00,642.14 L1610.67,642.99 L1611.35,643.62 L1612.03,644.01 L1612.70,644.14 L1613.31,644.11 L1613.91,644.03 L1614.52,643.88 L1615.12,643.68 L1615.73,643.42 L1616.33,643.10 L1616.94,642.72 L1617.54,642.29 L1618.15,641.81 L1618.75,641.26 L1619.36,640.66 L1619.96,640.01 L1620.57,639.30 L1621.17,638.54 L1621.77,637.72 L1622.38,636.85 L1622.98,635.93 L1623.59,634.97 L1624.19,633.95 L1624.80,632.88 L1625.40,631.76 L1626.01,630.60 L1626.61,629.39 L1627.22,628.13 L1627.82,626.84 L1628.43,625.50 L1629.03,624.11 L1629.64,622.69 L1630.24,621.23 L1630.85,619.73 L1631.45,618.20 L1632.06,616.63 L1632.66,615.03 L1633.27,613.39 L1633.87,611.73 L1634.48,610.03 L1635.08,608.31 L1635.69,606.57 L1636.29,604.79 L1636.90,603.00 L1637.50,601.18 L1638.11,599.35 L1638.71,597.49 L1639.32,595.63 L1639.92,593.74 L1640.53,591.84 L1641.13,589.94 L1641.74,588.02 L1642.34,586.09 L1642.94,584.16 L1643.55,582.22 L1644.15,580.29 L1644.76,578.35 L1645.36,576.41 L1645.97,574.47 L1646.57,572.54 L1647.18,570.61 L1647.78,568.70 L1648.39,566.79 L1648.99,564.89 L1649.60,563.01 L1650.20,561.14 L1650.81,559.28 L1651.41,557.45 L1652.02,555.63 L1652.62,553.84 L1653.23,552.07 L1653.83,550.32 L1654.44,548.60 L1655.04,546.90 L1655.65,545.24 L1656.25,543.60 L1656.86,542.00 L1657.46,540.43 L1658.07,538.90 L1658.67,537.40 L1659.28,535.94 L1659.88,534.52 L1660.49,533.14 L1661.09,531.80 L1661.70,530.50 L1662.30,529.24 L1662.91,528.03 L1663.51,526.87 L1664.11,525.75 L1664.72,524.69 L1665.32,523.67 L1665.93,522.70 L1666.53,521.78 L1667.14,520.91 L1667.74,520.10 L1668.35,519.33 L1668.95,518.62 L1669.56,517.97 L1670.16,517.37 L1670.77,516.83 L1671.37,516.34 L1671.98,515.91 L1672.58,515.53 L1673.19,515.21 L1673.79,514.95 L1674.40,514.75 L1675.00,514.61 L1675.61,514.52 L1676.21,514.49 L1676.82,514.51 L1677.42,514.59 L1678.02,514.70 L1678.63,514.87 L1679.23,515.08 L1679.83,515.34 L1680.44,515.64 L1681.04,515.99 L1681.64,516.39 L1682.25,516.83 L1682.85,517.32 L1683.45,517.85 L1684.06,518.43 L1684.66,519.05 L1685.26,519.71 L1685.87,520.42 L1686.47,521.17 L1687.07,521.96 L1687.68,522.79 L1688.28,523.66 L1688.88,524.57 L1689.49,525.52 L1690.09,526.51 L1690.69,527.53 L1691.30,528.60 L1691.90,529.69 L1692.50,530.82 L1693.11,531.99 L1693.71,533.19 L1694.31,534.41 L1694.92,535.67 L1695.52,536.96 L1696.12,538.28 L1696.73,539.63 L1697.33,541.00 L1697.93,542.39 L1698.54,543.81 L1699.14,545.26 L1699.74,546.72 L1700.35,548.21 L1700.95,549.71 L1701.55,551.23 L1702.16,552.77 L1702.76,554.32 L1703.36,555.89 L1703.97,557.47 L1704.57,559.07 L1705.17,560.67 L1705.78,562.28 L1706.38,563.90 L1706.98,565.52 L1707.59,567.15 L1708.19,568.78 L1708.79,570.42 L1709.40,572.05 L1710.00,573.69 L1710.60,575.32 L1711.21,576.95 L1711.81,578.58 L1712.41,580.19 L1713.02,581.81 L1713.62,583.41 L1714.22,585.00 L1714.83,586.58 L1715.43,588.15 L1716.03,589.70 L1716.64,591.24 L1717.24,592.76 L1717.84,594.27 L1718.45,595.75 L1719.05,597.22 L1719.65,598.66 L1720.26,600.08 L1720.86,601.48 L1721.46,602.85 L1722.07,604.19 L1722.67,605.51 L1723.27,606.80 L1723.88,608.06 L1724.48,609.29 L1725.08,610.48 L1725.69,611.65 L1726.29,612.78 L1726.89,613.88 L1727.50,614.94 L1728.10,615.96 L1728.70,616.95 L1729.31,617.90 L1729.91,618.81 L1730.51,619.68 L1731.12,620.52 L1731.72,621.31 L1732.32,622.05 L1732.93,622.76 L1733.53,623.42 L1734.13,624.05 L1734.74,624.62 L1735.34,625.15 L1735.94,625.64 L1736.55,626.08 L1737.15,626.48 L1737.75,626.83 L1738.36,627.14 L1738.96,627.39 L1739.56,627.61 L1740.17,627.77 L1740.77,627.89 L1741.37,627.96 L1741.98,627.98 L1742.58,627.96 L1743.18,627.90 L1743.78,627.80 L1744.39,627.65 L1744.99,627.47 L1745.59,627.24 L1746.20,626.97 L1746.80,626.67 L1747.40,626.32 L1748.00,625.93 L1748.61,625.51 L1749.21,625.04 L1749.81,624.54 L1750.41,624.00 L1751.02,623.42 L1751.62,622.80 L1752.22,622.14 L1752.83,621.45 L1753.43,620.73 L1754.03,619.97 L1754.63,619.17 L1755.24,618.35 L1755.84,617.48 L1756.44,616.59 L1757.04,615.67 L1757.65,614.71 L1758.25,613.73 L1758.85,612.71 L1759.45,611.67 L1760.06,610.61 L1760.66,609.51 L1761.26,608.39 L1761.87,607.25 L1762.47,606.08 L1763.07,604.90 L1763.67,603.69 L1764.28,602.46 L1764.88,601.21 L1765.48,599.94 L1766.08,598.66 L1766.69,597.36 L1767.29,596.05 L1767.89,594.73 L1768.50,593.39 L1769.10,592.04 L1769.70,590.68 L1770.30,589.32 L1770.91,587.94 L1771.51,586.56 L1772.11,585.18 L1772.71,583.79 L1773.32,582.40 L1773.92,581.01 L1774.52,579.62 L1775.12,578.22 L1775.73,576.84 L1776.33,575.45 L1776.93,574.07 L1777.54,572.70 L1778.14,571.33 L1778.74,569.97 L1779.34,568.63 L1779.95,567.29 L1780.55,565.96 L1781.15,564.65 L1781.75,563.35 L1782.36,562.07 L1782.96,560.80 L1783.56,559.56 L1784.17,558.33 L1784.77,557.12 L1785.37,555.93 L1785.97,554.76 L1786.58,553.62 L1787.18,552.50 L1787.78,551.41 L1788.38,550.34 L1788.99,549.30 L1789.59,548.29 L1790.19,547.30 L1790.80,546.35 L1791.40,545.42 L1792.00,544.53 L1792.60,543.67 L1793.21,542.84 L1793.81,542.05 L1794.41,541.29 L1795.01,540.56 L1795.62,539.87 L1796.22,539.22 L1796.82,538.60 L1797.42,538.02 L1798.03,537.48 L1798.63,536.97 L1799.23,536.51 L1799.84,536.08 L1800.44,535.69 L1801.04,535.35 L1801.64,535.04 L1802.25,534.77 L1802.85,534.55 L1803.45,534.36 L1804.05,534.22 L1804.66,534.11 L1805.26,534.05 L1805.86,534.03 L1806.47,534.05 L1807.07,534.10 L1807.67,534.19 L1808.28,534.31 L1808.88,534.47 L1809.48,534.66 L1810.09,534.89 L1810.69,535.15 L1811.29,535.45 L1811.90,535.78 L1812.50,536.14 L1813.10,536.54 L1813.71,536.97 L1814.31,537.43 L1814.91,537.92 L1815.52,538.45 L1816.12,539.01 L1816.72,539.60 L1817.33,540.21 L1817.93,540.86 L1818.53,541.54 L1819.14,542.25 L1819.74,542.99 L1820.34,543.75 L1820.95,544.54 L1821.55,545.36 L1822.15,546.20 L1822.76,547.07 L1823.36,547.96 L1823.96,548.88 L1824.57,549.81 L1825.17,550.77 L1825.77,551.76 L1826.38,552.76 L1826.98,553.78 L1827.58,554.82 L1828.19,555.88 L1828.79,556.95 L1829.39,558.04 L1830.00,559.15 L1830.60,560.27 L1831.20,561.41 L1831.81,562.55 L1832.41,563.71 L1833.01,564.88 L1833.62,566.06 L1834.22,567.24 L1834.82,568.44 L1835.43,569.64 L1836.03,570.84 L1836.63,572.05 L1837.24,573.27 L1837.84,574.48 L1838.44,575.70 L1839.05,576.92 L1839.65,578.14 L1840.25,579.35 L1840.86,580.57 L1841.46,581.78 L1842.06,582.98 L1842.67,584.18 L1843.27,585.38 L1843.87,586.56 L1844.48,587.74 L1845.08,588.91 L1845.68,590.07 L1846.29,591.21 L1846.89,592.35 L1847.49,593.47 L1848.10,594.57 L1848.70,595.67 L1849.30,596.74 L1849.91,597.80 L1850.51,598.84 L1851.11,599.86 L1851.72,600.86 L1852.32,601.84 L1852.92,602.81 L1853.53,603.74 L1854.13,604.66 L1854.73,605.55 L1855.34,606.42 L1855.94,607.26 L1856.54,608.08 L1857.15,608.87 L1857.75,609.63 L1858.35,610.37 L1858.96,611.08 L1859.56,611.76 L1860.16,612.40 L1860.77,613.02 L1861.37,613.61 L1861.97,614.17 L1862.58,614.70 L1863.18,615.19 L1863.78,615.65 L1864.39,616.08 L1864.99,616.48 L1865.59,616.84 L1866.20,617.17 L1866.80,617.47 L1867.40,617.73 L1868.01,617.96 L1868.61,618.15 L1869.21,618.31 L1869.82,618.43 L1870.42,618.52 L1871.02,618.57 L1871.63,618.59 L1872.23,618.57 L1872.83,618.52 L1873.43,618.45 L1874.03,618.34 L1874.63,618.19 L1875.23,618.02 L1875.84,617.82 L1876.44,617.59 L1877.04,617.32 L1877.64,617.03 L1878.24,616.70 L1878.84,616.35 L1879.44,615.96 L1880.05,615.55 L1880.65,615.11 L1881.25,614.64 L1881.85,614.14 L1882.45,613.61 L1883.05,613.06 L1883.65,612.48 L1884.25,611.88 L1884.86,611.25 L1885.46,610.59 L1886.06,609.91 L1886.66,609.21 L1887.26,608.48 L1887.86,607.73 L1888.46,606.96 L1889.06,606.17 L1889.67,605.36 L1890.27,604.53 L1890.87,603.68 L1891.47,602.81 L1892.07,601.92 L1892.67,601.02 L1893.27,600.10 L1893.87,599.17 L1894.48,598.22 L1895.08,597.26 L1895.68,596.29 L1896.28,595.30 L1896.88,594.31 L1897.48,593.30 L1898.08,592.29 L1898.68,591.27 L1899.29,590.24 L1899.89,589.21 L1900.49,588.17 L1901.09,587.12 L1901.69,586.08 L1902.29,585.03 L1902.89,583.98 L1903.49,582.92 L1904.10,581.87 L1904.70,580.82 L1905.30,579.78 L1905.90,578.73 L1906.50,577.69 L1907.10,576.66 L1907.70,575.63 L1908.31,574.61 L1908.91,573.60 L1909.51,572.59 L1910.11,571.60 L1910.71,570.61 L1911.31,569.64 L1911.91,568.68 L1912.51,567.73 L1913.12,566.80 L1913.72,565.88 L1914.32,564.98 L1914.92,564.09 L1915.52,563.22 L1916.12,562.37 L1916.72,561.54 L1917.32,560.73 L1917.93,559.94 L1918.53,559.17 L1919.13,558.42 L1919.73,557.69 L1920.33,556.99 L1920.93,556.31 L1921.53,555.65 L1922.13,555.02 L1922.74,554.42 L1923.34,553.84 L1923.94,553.29 L1924.54,552.76 L1925.14,552.26 L1925.74,551.79 L1926.34,551.35 L1926.94,550.94 L1927.55,550.55 L1928.15,550.20 L1928.75,549.87 L1929.35,549.58 L1929.95,549.31 L1930.55,549.08 L1931.15,548.88 L1931.75,548.71 L1932.36,548.56 L1932.96,548.45 L1933.56,548.38 L1934.16,548.33 L1934.76,548.31 L1935.37,548.33 L1935.97,548.36 L1936.58,548.43 L1937.18,548.52 L1937.78,548.64 L1938.39,548.78 L1938.99,548.95 L1939.60,549.14 L1940.20,549.36 L1940.81,549.61 L1941.41,549.88 L1942.02,550.17 L1942.62,550.49 L1943.23,550.83 L1943.83,551.20 L1944.44,551.59 L1945.04,552.00 L1945.65,552.44 L1946.25,552.90 L1946.86,553.38 L1947.46,553.89 L1948.06,554.41 L1948.67,554.96 L1949.27,555.53 L1949.88,556.11 L1950.48,556.72 L1951.09,557.35 L1951.69,557.99 L1952.30,558.66 L1952.90,559.34 L1953.51,560.04 L1954.11,560.75 L1954.72,561.48 L1955.32,562.23 L1955.93,562.99 L1956.53,563.76 L1957.14,564.55 L1957.74,565.35 L1958.34,566.16 L1958.95,566.99 L1959.55,567.82 L1960.16,568.67 L1960.76,569.52 L1961.37,570.38 L1961.97,571.26 L1962.58,572.14 L1963.18,573.02 L1963.79,573.91 L1964.39,574.81 L1965.00,575.71 L1965.60,576.61 L1966.21,577.52 L1966.81,578.43 L1967.41,579.34 L1968.02,580.26 L1968.62,581.17 L1969.23,582.08 L1969.83,582.99 L1970.44,583.90 L1971.04,584.80 L1971.65,585.70 L1972.25,586.60 L1972.86,587.49 L1973.46,588.38 L1974.07,589.25 L1974.67,590.13 L1975.28,590.99 L1975.88,591.84 L1976.49,592.69" stroke="#008000" stroke-width="1.8" stroke-linejoin="round"/></g>
<g stroke="#000" stroke-width="1.4" stroke-dasharray="6,4" fill="none"><line x1="1677.7" y1="362.8" x2="1677.7" y2="514"/><line x1="1806.6" y1="362.8" x2="1806.6" y2="533"/></g>
<g stroke="#000" stroke-width="3.2" fill="none"><rect x="1517.8" y="250.4" width="474.0" height="416.70000000000005"/><line x1="1517.8" y1="473.9" x2="1991.8" y2="473.9"/><line x1="1547.40" y1="250.40" x2="1547.40" y2="259.40"/><line x1="1547.40" y1="473.90" x2="1547.40" y2="464.90"/><line x1="1695.50" y1="250.40" x2="1695.50" y2="259.40"/><line x1="1695.50" y1="473.90" x2="1695.50" y2="464.90"/><line x1="1843.60" y1="250.40" x2="1843.60" y2="259.40"/><line x1="1843.60" y1="473.90" x2="1843.60" y2="464.90"/><line x1="1991.70" y1="250.40" x2="1991.70" y2="259.40"/><line x1="1991.70" y1="473.90" x2="1991.70" y2="464.90"/><line x1="1621.45" y1="250.40" x2="1621.45" y2="255.90"/><line x1="1621.45" y1="473.90" x2="1621.45" y2="468.40"/><line x1="1769.55" y1="250.40" x2="1769.55" y2="255.90"/><line x1="1769.55" y1="473.90" x2="1769.55" y2="468.40"/><line x1="1917.65" y1="250.40" x2="1917.65" y2="255.90"/><line x1="1917.65" y1="473.90" x2="1917.65" y2="468.40"/><line x1="1547.40" y1="473.90" x2="1547.40" y2="482.90"/><line x1="1547.40" y1="667.10" x2="1547.40" y2="658.10"/><line x1="1695.50" y1="473.90" x2="1695.50" y2="482.90"/><line x1="1695.50" y1="667.10" x2="1695.50" y2="658.10"/><line x1="1843.60" y1="473.90" x2="1843.60" y2="482.90"/><line x1="1843.60" y1="667.10" x2="1843.60" y2="658.10"/><line x1="1991.70" y1="473.90" x2="1991.70" y2="482.90"/><line x1="1991.70" y1="667.10" x2="1991.70" y2="658.10"/><line x1="1621.45" y1="473.90" x2="1621.45" y2="479.40"/><line x1="1621.45" y1="667.10" x2="1621.45" y2="661.60"/><line x1="1769.55" y1="473.90" x2="1769.55" y2="479.40"/><line x1="1769.55" y1="667.10" x2="1769.55" y2="661.60"/><line x1="1917.65" y1="473.90" x2="1917.65" y2="479.40"/><line x1="1917.65" y1="667.10" x2="1917.65" y2="661.60"/><line x1="1517.80" y1="433.00" x2="1526.80" y2="433.00"/><line x1="1991.80" y1="433.00" x2="1982.80" y2="433.00"/><line x1="1517.80" y1="362.80" x2="1526.80" y2="362.80"/><line x1="1991.80" y1="362.80" x2="1982.80" y2="362.80"/><line x1="1517.80" y1="292.60" x2="1526.80" y2="292.60"/><line x1="1991.80" y1="292.60" x2="1982.80" y2="292.60"/><line x1="1517.80" y1="468.10" x2="1523.30" y2="468.10"/><line x1="1991.80" y1="468.10" x2="1986.30" y2="468.10"/><line x1="1517.80" y1="397.90" x2="1523.30" y2="397.90"/><line x1="1991.80" y1="397.90" x2="1986.30" y2="397.90"/><line x1="1517.80" y1="327.70" x2="1523.30" y2="327.70"/><line x1="1991.80" y1="327.70" x2="1986.30" y2="327.70"/><line x1="1517.80" y1="257.50" x2="1523.30" y2="257.50"/><line x1="1991.80" y1="257.50" x2="1986.30" y2="257.50"/><line x1="1517.80" y1="626.70" x2="1526.80" y2="626.70"/><line x1="1991.80" y1="626.70" x2="1982.80" y2="626.70"/><line x1="1517.80" y1="571.20" x2="1526.80" y2="571.20"/><line x1="1991.80" y1="571.20" x2="1982.80" y2="571.20"/><line x1="1517.80" y1="515.70" x2="1526.80" y2="515.70"/><line x1="1991.80" y1="515.70" x2="1982.80" y2="515.70"/><line x1="1517.80" y1="654.45" x2="1523.30" y2="654.45"/><line x1="1991.80" y1="654.45" x2="1986.30" y2="654.45"/><line x1="1517.80" y1="598.95" x2="1523.30" y2="598.95"/><line x1="1991.80" y1="598.95" x2="1986.30" y2="598.95"/><line x1="1517.80" y1="543.45" x2="1523.30" y2="543.45"/><line x1="1991.80" y1="543.45" x2="1986.30" y2="543.45"/><line x1="1517.80" y1="487.95" x2="1523.30" y2="487.95"/><line x1="1991.80" y1="487.95" x2="1986.30" y2="487.95"/></g>
<g font-family="'Liberation Sans', Arial, sans-serif" font-size="24.5" fill="#000"><text x="1509.6" y="300.8" text-anchor="end">10</text><text x="1509.6" y="371.0" text-anchor="end">0</text><text x="1509.6" y="441.2" text-anchor="end">-10</text><text x="1509.6" y="523.9" text-anchor="end">20</text><text x="1509.6" y="579.4" text-anchor="end">0</text><text x="1509.6" y="634.9" text-anchor="end">-20</text><text x="1547.4" y="696.3" text-anchor="middle">0</text><text x="1695.5" y="696.3" text-anchor="middle">1</text><text x="1843.6" y="696.3" text-anchor="middle">2</text><text x="1991.7" y="696.3" text-anchor="middle">3</text></g>
<g font-family="'Liberation Sans', Arial, sans-serif" font-size="24" fill="#000"><text x="1743.5" y="724.3">t [ns]</text><text transform="translate(1459.3,641.7) rotate(-90)">TRFR [mrad]</text><text transform="translate(1442.1,405.9) rotate(-90)">I<tspan font-size="17.4" dy="13.6">spin</tspan><tspan dy="-13.6">[μA]</tspan></text></g>
<g font-family="'Liberation Sans', Arial, sans-serif" fill="#000"><text x="1915" y="292.9" font-size="27.3">[110]</text><line x1="1939.9" y1="270.4" x2="1951.7" y2="270.4" stroke="#000" stroke-width="1.3"/><text x="1829.4" y="647.6" font-size="25.8">B</text><text x="1847" y="655.7" font-size="14.2">x</text><text x="1867.8" y="647.6" font-size="25.8">= 125 mT</text></g>
<g font-family="'Liberation Sans', Arial, sans-serif" font-size="24.5" fill="#000"><text x="-1.8" y="20">(a)</text><text x="-1.5" y="397.8">(b)</text><text x="678.8" y="20">(c)</text><text x="677.5" y="291">(d)</text><text x="677.7" y="475">(e)</text><text x="1452.8" y="19.9">(f)</text><text x="1449.6" y="273.7">(g)</text><text x="1449.6" y="490">(h)</text></g>
</svg></body></html>
